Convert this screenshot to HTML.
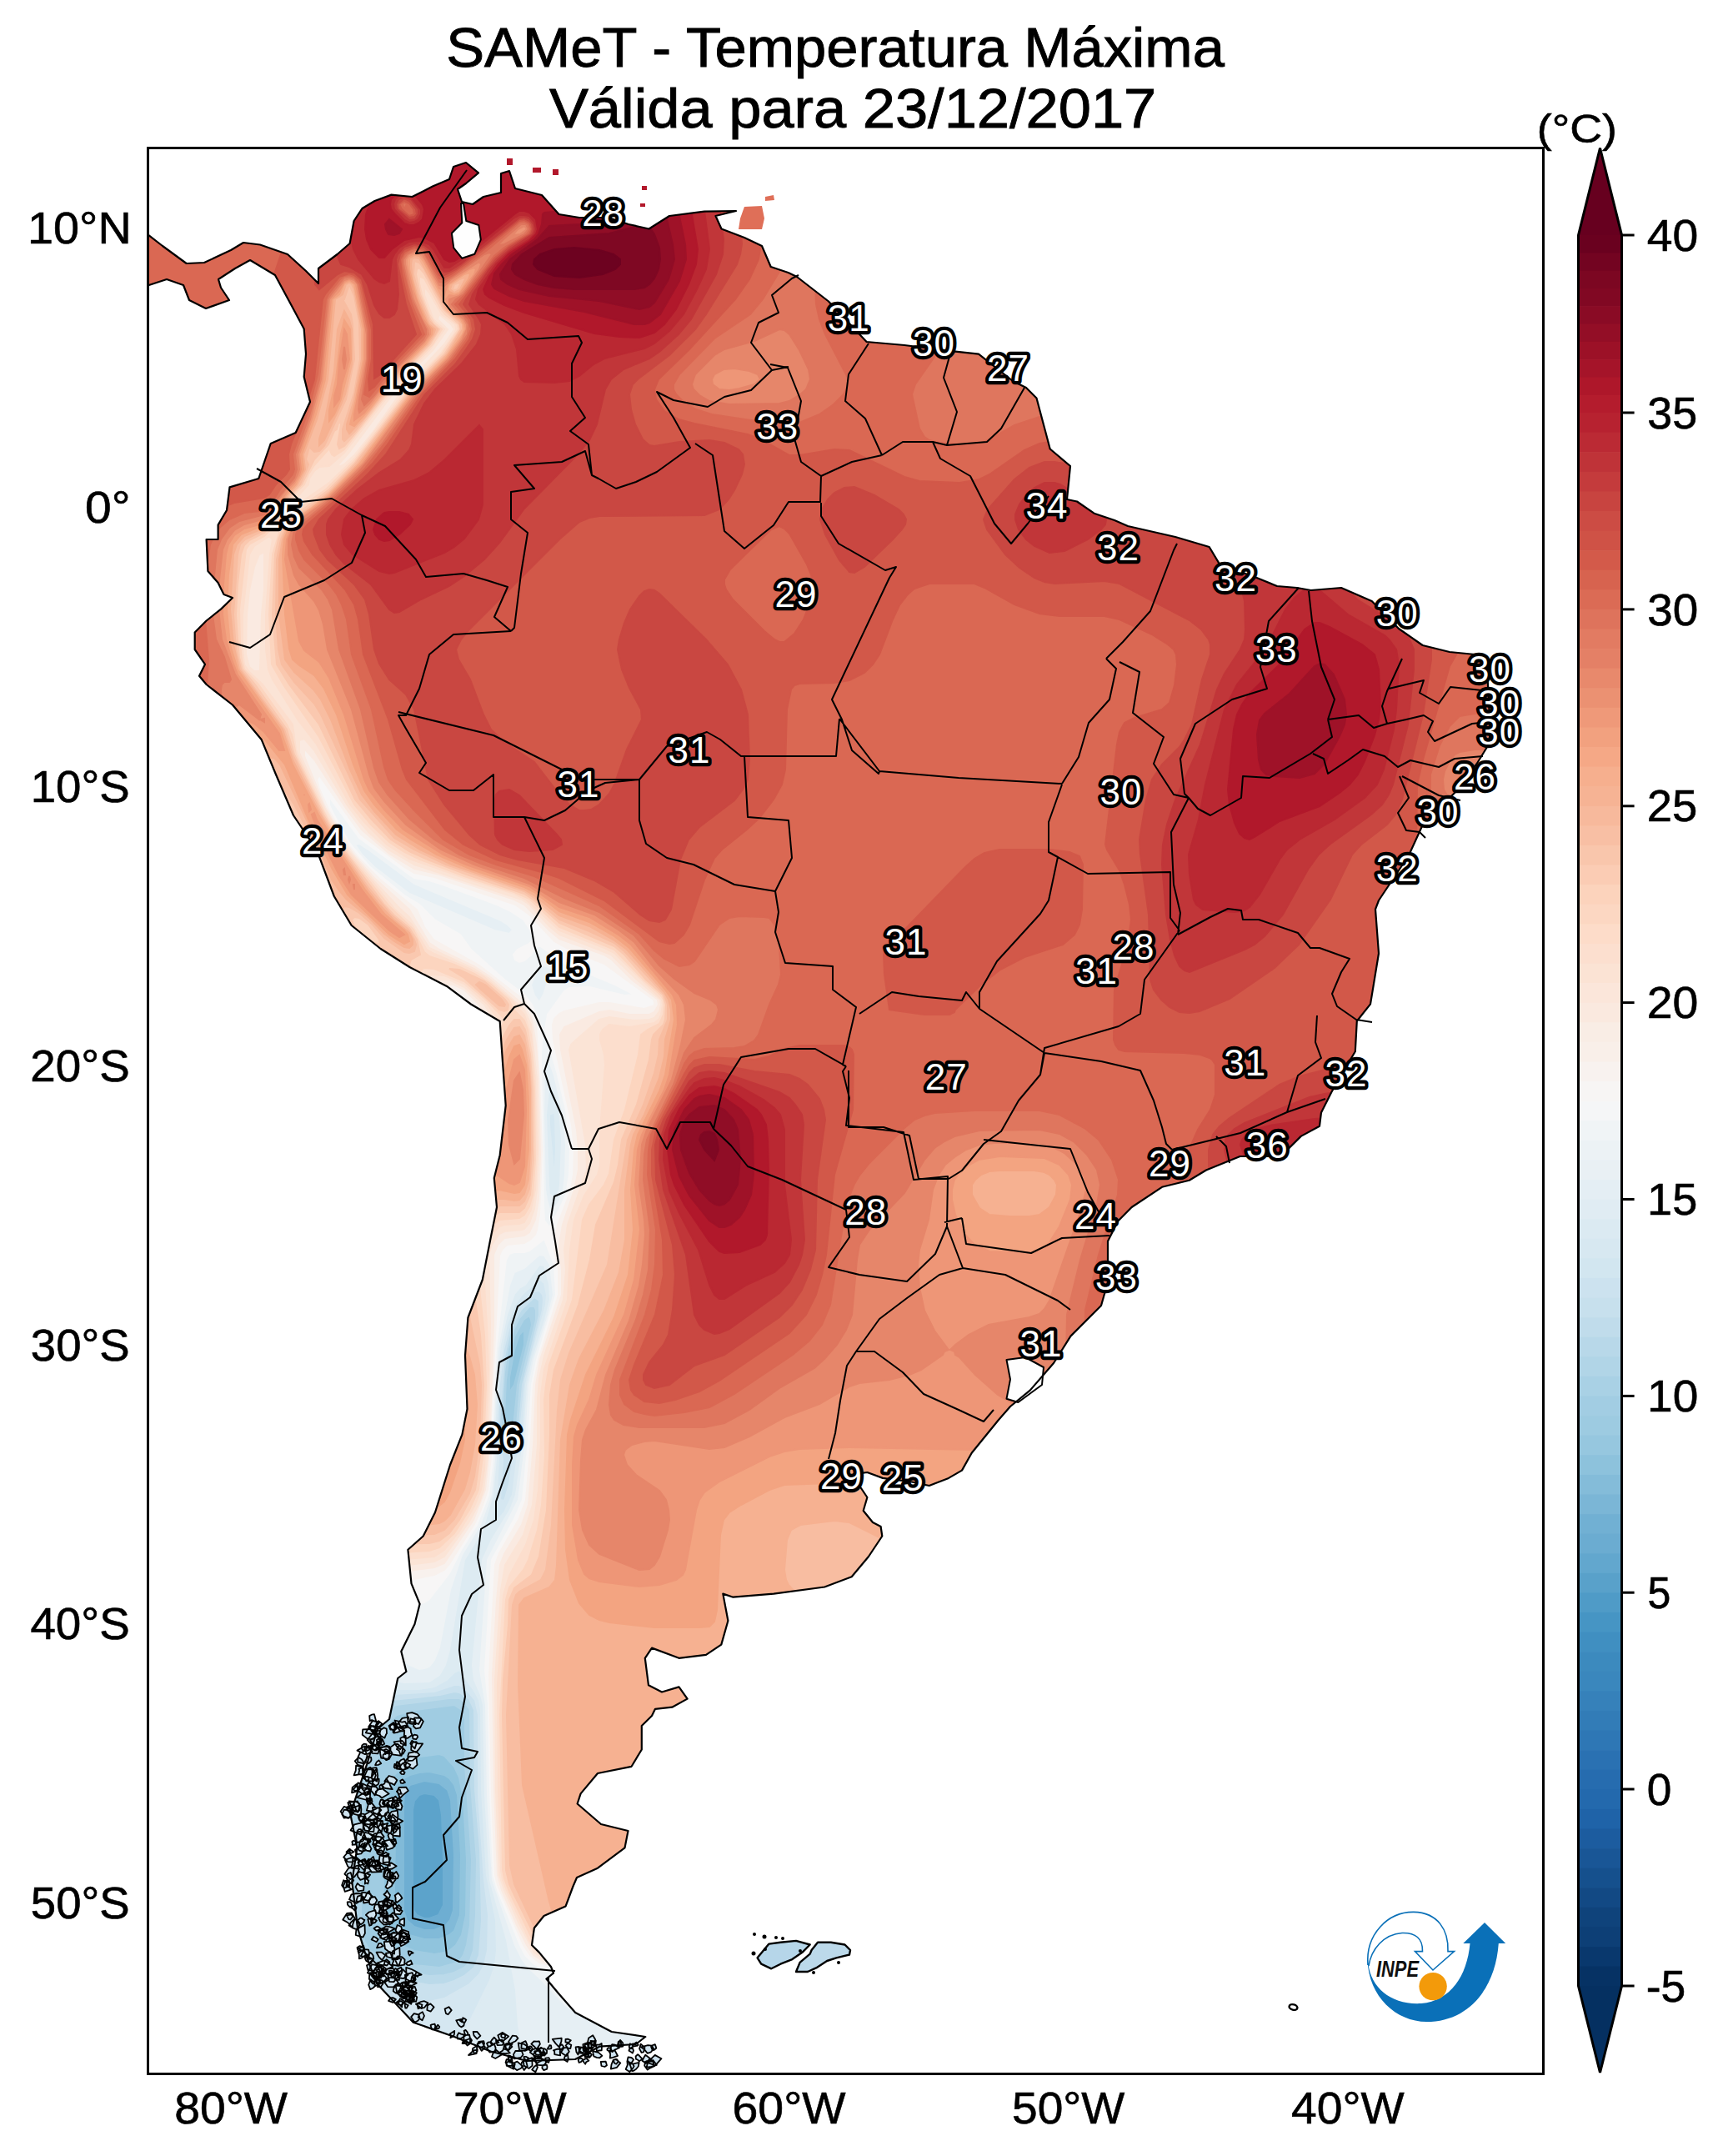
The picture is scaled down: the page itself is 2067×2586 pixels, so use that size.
<!DOCTYPE html><html><head><meta charset="utf-8"><style>
html,body{margin:0;padding:0;background:#fff;width:2067px;height:2586px;overflow:hidden}
svg{position:absolute;left:0;top:0;display:block}
text{font-family:"Liberation Sans",sans-serif}
</style></head><body>
<svg width="2067" height="2586" viewBox="0 0 2067 2586" xmlns="http://www.w3.org/2000/svg">
<defs>
<clipPath id="fr"><rect x="179" y="179" width="1671" height="2307"/></clipPath>
<clipPath id="land"><path d="M160.0 282.0 L178.7 282.3 L195.0 295.0 L223.7 316.0 L245.0 315.0 L277.0 300.0 L292.0 291.0 L312.0 293.5 L345.0 305.0 L367.0 325.0 L382.0 340.0 L382.0 322.0 L404.6 305.0 L419.6 292.0 L424.6 265.0 L434.5 250.0 L449.5 241.0 L469.5 233.6 L494.5 236.0 L519.0 223.6 L539.0 215.0 L544.0 200.0 L559.0 195.0 L574.0 207.4 L559.0 220.0 L549.0 227.0 L554.0 242.0 L567.0 245.0 L580.0 236.0 L601.0 231.0 L601.0 208.0 L611.0 205.0 L618.0 226.0 L650.0 234.0 L670.5 257.0 L695.0 261.0 L730.0 261.0 L754.0 269.0 L778.5 274.5 L803.0 259.0 L845.0 253.6 L883.0 253.0 L858.5 259.0 L865.5 274.5 L893.0 285.0 L914.0 295.0 L924.7 320.0 L945.6 327.0 L956.0 332.0 L994.0 361.5 L1039.6 410.0 L1085.0 414.0 L1137.0 420.7 L1174.0 424.7 L1215.0 457.0 L1231.0 465.0 L1243.5 477.5 L1259.7 538.5 L1284.0 559.0 L1280.0 599.0 L1292.0 601.5 L1312.5 615.7 L1337.0 624.0 L1353.0 631.0 L1410.0 644.0 L1450.7 656.0 L1463.0 676.6 L1507.6 693.0 L1532.0 703.0 L1556.0 705.0 L1572.6 708.0 L1609.0 705.0 L1645.7 721.0 L1678.0 754.0 L1706.7 774.0 L1739.0 782.0 L1780.0 786.0 L1784.0 802.6 L1788.0 880.0 L1784.0 896.0 L1771.7 916.0 L1747.0 949.0 L1706.7 989.5 L1690.0 1026.0 L1654.0 1080.0 L1650.0 1090.6 L1654.0 1143.5 L1644.0 1204.4 L1627.8 1224.7 L1625.8 1261.3 L1613.6 1281.6 L1597.3 1310.0 L1585.0 1334.4 L1583.0 1350.7 L1560.7 1362.9 L1544.5 1379.0 L1528.0 1387.0 L1487.6 1387.0 L1447.0 1403.5 L1426.7 1415.7 L1394.0 1423.8 L1357.6 1448.0 L1341.3 1464.5 L1329.0 1488.8 L1329.0 1537.6 L1321.0 1566.0 L1284.4 1602.6 L1264.0 1635.0 L1235.7 1667.6 L1212.0 1687.0 L1198.0 1703.0 L1165.7 1742.7 L1154.0 1763.6 L1138.0 1772.9 L1114.7 1782.0 L1093.8 1777.5 L1059.0 1772.9 L1040.4 1766.0 L1026.4 1768.0 L1031.0 1782.0 L1040.4 1796.0 L1035.7 1812.0 L1047.0 1826.0 L1056.6 1831.0 L1058.3 1842.5 L1042.0 1867.0 L1021.7 1891.3 L989.2 1903.5 L928.2 1911.6 L879.5 1915.7 L867.3 1911.6 L873.4 1944.0 L865.3 1972.6 L847.0 1984.8 L814.5 1988.8 L782.0 1976.6 L773.8 1988.8 L778.0 2021.3 L794.0 2029.5 L814.5 2023.4 L824.6 2037.6 L806.3 2047.7 L786.0 2049.8 L782.0 2058.0 L769.8 2070.0 L769.8 2098.5 L757.6 2118.8 L717.0 2127.0 L696.6 2151.4 L692.6 2163.5 L721.0 2188.0 L753.5 2196.0 L749.5 2216.4 L717.0 2240.7 L692.0 2252.0 L687.3 2263.0 L678.6 2286.4 L652.5 2298.0 L640.9 2312.5 L638.0 2333.0 L646.7 2341.6 L661.0 2359.0 L664.0 2366.7 L655.4 2373.5 L670.0 2391.0 L690.2 2414.0 L733.7 2437.0 L774.3 2443.0 L762.7 2452.0 L719.2 2454.7 L690.0 2470.0 L632.0 2472.0 L588.6 2460.5 L545.0 2443.0 L495.8 2425.7 L452.0 2379.0 L437.7 2341.6 L429.0 2312.5 L422.3 2257.0 L428.4 2216.4 L420.3 2175.7 L440.6 2114.8 L452.8 2074.0 L467.0 2062.0 L477.2 2013.0 L487.4 2005.0 L481.3 1980.7 L497.5 1948.0 L503.6 1923.8 L493.5 1899.4 L489.4 1858.8 L507.7 1842.5 L522.0 1814.0 L540.0 1757.0 L554.4 1720.6 L560.5 1690.0 L558.0 1625.8 L561.4 1580.5 L578.8 1535.0 L589.0 1483.0 L596.0 1448.0 L592.8 1413.0 L599.7 1385.5 L606.7 1326.0 L603.0 1274.0 L599.7 1225.0 L565.0 1204.5 L537.0 1183.6 L491.4 1160.0 L456.6 1138.0 L421.7 1110.0 L400.8 1075.0 L380.0 1019.6 L352.0 978.0 L331.0 929.0 L313.8 887.3 L279.0 845.5 L247.6 821.0 L239.0 810.7 L246.0 796.8 L233.7 779.0 L233.7 758.5 L247.6 744.5 L265.0 730.6 L279.0 717.0 L268.5 713.0 L261.6 699.0 L249.4 685.0 L247.6 647.0 L261.6 647.0 L261.6 629.6 L272.0 612.0 L275.5 584.4 L310.3 574.0 L324.7 532.0 L354.7 519.0 L372.0 482.0 L364.7 452.0 L367.0 424.6 L364.7 394.6 L350.0 367.0 L330.0 330.0 L300.0 312.0 L282.0 322.0 L262.0 335.0 L265.0 345.0 L275.0 360.0 L247.0 370.0 L227.0 360.0 L220.0 342.0 L200.0 335.0 L178.7 342.0 L160.0 342.0Z"/></clipPath>
<filter id="b1" x="-50%" y="-50%" width="200%" height="200%"><feGaussianBlur stdDeviation="25"/></filter>
<filter id="gb" filterUnits="userSpaceOnUse" x="0" y="0" width="2067" height="2586"><feGaussianBlur stdDeviation="32"/></filter>
</defs>

<text x="535.2" y="80.0" font-size="66.80" textLength="933.7" lengthAdjust="spacingAndGlyphs" stroke="#000" stroke-width="0.9">SAMeT - Temperatura Máxima</text>
<text x="658.9" y="153.2" font-size="66.80" textLength="728.4" lengthAdjust="spacingAndGlyphs" stroke="#000" stroke-width="0.9">Válida para 23/12/2017</text>
<g clip-path="url(#fr)">
<g clip-path="url(#land)">
<rect x="150" y="150" width="1750" height="2400" fill="#dc6e57"/>
<path fill="#5ca3cb" stroke="#5ca3cb" stroke-width="2" fill-rule="evenodd" d="M503 2153 509 2151 521 2153 527 2159 530 2177 532 2231 532 2285 526 2297 515 2301 509 2301 500 2297 496 2291 495 2279 495 2171 497 2159Z"/>
<path fill="#6eaed2" stroke="#6eaed2" stroke-width="2" fill-rule="evenodd" d="M497 2139 515 2137 531 2141 539 2151 542 2165 545 2225 544 2291 540 2303 535 2309 521 2315 509 2315 497 2311 488 2303 484 2291 484 2159 487 2147 491 2142ZM503 2153 497 2160 495 2171 495 2285 496 2291 500 2297 509 2301 515 2301 526 2297 532 2285 532 2231 530 2177 527 2159 521 2153 509 2151Z"/>
<path fill="#81bad8" stroke="#81bad8" stroke-width="2" fill-rule="evenodd" d="M497 2127 515 2125 533 2129 539 2133 545 2141 550 2159 553 2231 552 2297 545 2316 539 2321 527 2326 509 2326 491 2321 479 2309 475 2297 473 2267 475 2153 479 2141 483 2135ZM492 2141 487 2147 485 2152 484 2165 484 2291 488 2303 497 2311 509 2315 521 2315 535 2309 540 2303 544 2291 545 2225 541 2159 537 2147 527 2139 509 2136Z"/>
<path fill="#90c4dd" stroke="#90c4dd" stroke-width="2" fill-rule="evenodd" d="M629 1595 629 1613 617 1661 613 1667 611 1690 611 1652 617 1619 623 1601ZM521 2104 533 2106 545 2119 551 2132 556 2159 560 2237 559 2297 554 2321 547 2333 540 2339 533 2342 521 2344 497 2340 485 2335 474 2327 469 2321 463 2309 459 2285 464 2165 467 2141 473 2129 485 2117 503 2107ZM492 2129 485 2133 479 2141 475 2153 473 2267 475 2297 479 2309 491 2321 509 2326 527 2326 539 2321 545 2316 552 2297 553 2225 549 2153 545 2141 539 2133 533 2129 515 2125 503 2126Z"/>
<path fill="#a0cce2" stroke="#a0cce2" stroke-width="2" fill-rule="evenodd" d="M629 1582 635 1578 637 1583 638 1589 621 1661 615 1721 611 1727 605 1724 604 1721 607 1655 611 1625 617 1603 623 1590ZM629 1595 623 1601 617 1619 611 1652 611 1690 613 1667 617 1661 629 1613ZM503 2051 545 2045 554 2051 558 2063 558 2117 566 2231 564 2309 560 2333 556 2345 552 2351 545 2355 527 2360 497 2357 449 2343 443 2339 437 2328 433 2303 434 2195 437 2164 443 2142 461 2080 467 2066 479 2056ZM527 2104 503 2107 485 2117 473 2129 467 2141 464 2165 459 2285 463 2309 469 2321 474 2327 485 2335 497 2340 521 2344 533 2342 540 2339 547 2333 554 2321 559 2297 560 2231 556 2159 551 2132 545 2119 533 2106Z"/>
<path fill="#aed3e6" stroke="#aed3e6" stroke-width="2" fill-rule="evenodd" d="M635 1567 641 1567 643 1571 643 1583 624 1661 619 1721 617 1727 611 1733 605 1731 601 1721 605 1646 609 1619 616 1595 623 1581ZM628 1583 617 1603 611 1625 607 1655 604 1721 605 1724 611 1727 615 1721 621 1661 638 1589 637 1583 635 1578ZM515 2041 545 2036 554 2039 561 2045 564 2057 565 2141 572 2231 571 2303 568 2339 565 2351 560 2357 551 2364 539 2368 515 2370 445 2357 437 2353 429 2345 422 2327 420 2303 421 2237 419 2189 425 2147 449 2070 456 2057 462 2051 475 2045ZM499 2051 476 2057 469 2063 465 2069 438 2159 434 2195 433 2303 437 2328 443 2339 449 2343 497 2357 527 2360 545 2355 552 2351 556 2345 560 2333 564 2309 566 2231 558 2117 558 2063 554 2051 545 2045Z"/>
<path fill="#bbdaea" stroke="#bbdaea" stroke-width="2" fill-rule="evenodd" d="M641 1556 647 1560 647 1577 627 1661 622 1721 617 1734 611 1742 605 1739 598 1721 602 1661 606 1619 613 1595 621 1577 629 1566ZM635 1567 623 1581 616 1595 609 1619 605 1646 601 1721 605 1731 611 1733 617 1727 619 1721 624 1661 643 1583 643 1571 641 1567ZM515 2035 545 2029 557 2033 564 2039 569 2051 570 2147 576 2225 578 2315 575 2345 571 2357 567 2363 557 2370 545 2376 533 2380 515 2381 437 2367 425 2359 418 2351 411 2333 407 2303 409 2237 408 2195 410 2165 414 2147 441 2069 449 2054 457 2045 471 2039ZM539 2037 475 2045 462 2051 455 2059 447 2075 425 2147 419 2189 421 2237 420 2303 422 2327 429 2345 437 2353 445 2357 515 2370 533 2369 545 2366 557 2360 563 2354 568 2339 571 2297 572 2231 565 2141 564 2051 557 2041 551 2037Z"/>
<path fill="#cae1ee" stroke="#cae1ee" stroke-width="2" fill-rule="evenodd" d="M624 1565 641 1549 647 1548 651 1553 652 1559 651 1571 630 1655 623 1727 615 1751 611 1780 605 1800 600 1799 603 1751 597 1721 599 1661 604 1619 610 1595 617 1576ZM641 1556 625 1571 617 1585 611 1601 605 1628 598 1721 605 1739 611 1742 617 1734 622 1721 627 1661 647 1577 647 1560ZM545 2021 551 2021 563 2030 570 2039 573 2051 574 2153 581 2255 586 2303 584 2345 581 2357 575 2368 557 2384 533 2397 515 2401 467 2404 445 2411 426 2429 414 2447 413 2452 408 2459 407 2489 179 2489 179 2189 329 2189 335 2188 341 2183 371 2176 383 2167 407 2131 419 2107 435 2063 449 2043 455 2038 467 2033 515 2030ZM528 2033 471 2039 457 2045 449 2054 441 2069 414 2147 410 2165 408 2195 409 2237 407 2303 411 2333 418 2351 425 2359 437 2367 515 2381 533 2380 545 2376 557 2370 569 2360 575 2345 578 2303 576 2219 570 2147 569 2051 563 2038 551 2030 545 2029Z"/>
<path fill="#d5e7f1" stroke="#d5e7f1" stroke-width="2" fill-rule="evenodd" d="M659 1336 665 1334 666 1343 667 1379 665 1413ZM647 1534 654 1541 656 1553 655 1565 637 1631 631 1661 627 1721 620 1751 615 1793 605 1814 593 1828 590 1823 591 1817 596 1787 598 1751 595 1715 598 1655 603 1613 608 1589 617 1566 626 1553ZM641 1549 624 1565 617 1576 610 1595 604 1619 599 1661 597 1721 603 1751 600 1799 605 1800 611 1780 615 1751 623 1727 630 1655 651 1571 652 1559 651 1553 647 1548ZM551 2003 572 2033 576 2045 578 2147 584 2249 593 2291 596 2315 596 2345 593 2363 564 2423 543 2459 540 2471 539 2489 407 2489 408 2459 420 2435 437 2417 445 2411 459 2405 473 2403 515 2401 533 2397 563 2380 575 2368 581 2357 585 2339 586 2297 581 2255 574 2153 574 2057 570 2039 557 2024 551 2021 545 2021 521 2029 473 2032 455 2038 447 2045 438 2057 419 2107 407 2131 383 2167 371 2176 341 2183 335 2188 329 2189 179 2189 179 2019 215 2021 233 2028 250 2045 274 2081 293 2094 311 2099 365 2099 395 2102 401 2101 407 2097 413 2089 432 2051 441 2039 449 2032 455 2028 467 2026 503 2026 521 2023 536 2015 545 2006Z"/>
<path fill="#ddebf2" stroke="#ddebf2" stroke-width="2" fill-rule="evenodd" d="M659 1299 665 1310 671 1333 675 1373 672 1421 671 1428 665 1437 659 1432 658 1421 655 1337ZM659 1337 659 1349 665 1413 667 1379 666 1343 665 1334ZM647 1517 653 1518 655 1523 659 1541 660 1559 654 1583 639 1631 633 1661 629 1721 618 1799 590 1847 579 1871 574 1913 567 2003 569 2015 577 2033 580 2045 582 2153 588 2255 608 2327 619 2387 622 2429 625 2447 635 2469 651 2489 539 2489 540 2471 543 2459 563 2426 588 2375 594 2357 596 2339 595 2303 584 2249 578 2147 577 2051 575 2039 569 2028 551 2003 545 2006 536 2015 521 2023 503 2026 467 2026 455 2028 449 2032 441 2039 432 2051 413 2089 407 2097 401 2101 395 2102 365 2099 317 2099 299 2097 287 2091 274 2081 250 2045 233 2028 215 2021 179 2019 179 1942 251 1943 263 1945 329 2012 341 2019 371 2019 425 2002 437 2003 467 2015 485 2018 515 2017 527 2009 534 1997 539 1979 557 1871 579 1835 591 1793 595 1751 593 1721 596 1655 599 1619 607 1583 617 1552 623 1545 630 1541ZM647 1534 626 1553 617 1566 608 1589 603 1613 598 1655 595 1715 598 1751 596 1787 591 1817 590 1823 593 1828 605 1814 615 1793 620 1751 627 1721 631 1661 637 1631 655 1565 656 1553 653 1539Z"/>
<path fill="#e6eff4" stroke="#e6eff4" stroke-width="2" fill-rule="evenodd" d="M431 1012 497 1060 599 1103 609 1109 615 1115 611 1120 593 1116 485 1068 452 1043 440 1031 426 1013ZM647 1159 653 1158 665 1163 667 1169 658 1175 652 1193 647 1202 641 1194 637 1181ZM653 1275 659 1273 665 1290 676 1337 679 1379 676 1427 671 1441 665 1449 659 1450 656 1439 654 1427 652 1337ZM659 1299 655 1337 658 1421 659 1432 665 1437 671 1428 672 1421 674 1367 671 1333 665 1310ZM629 1521 647 1505 653 1506 659 1514 664 1553 658 1577 641 1631 635 1661 631 1727 622 1799 585 1871 576 2009 583 2045 585 2153 589 2243 592 2261 618 2333 627 2351 635 2361 650 2375 678 2405 695 2415 713 2419 845 2420 857 2426 875 2437 893 2445 917 2450 947 2453 1649 2453 1853 2456 1853 2489 651 2489 647 2486 635 2469 625 2447 622 2429 619 2387 608 2327 588 2255 582 2153 580 2045 577 2033 569 2015 567 1997 579 1871 590 1847 612 1811 619 1793 629 1721 633 1661 639 1631 654 1583 660 1559 659 1540 653 1518 647 1517 630 1541 623 1545 617 1552 608 1577 600 1613 596 1655 593 1721 595 1751 591 1793 579 1835 557 1871 539 1979 534 1997 527 2009 515 2017 485 2018 467 2015 437 2003 425 2002 371 2019 341 2019 329 2012 263 1945 251 1943 179 1942 179 1895 293 1896 308 1901 316 1907 337 1937 347 1946 359 1952 383 1958 437 1959 455 1962 465 1967 472 1973 484 1991 491 1997 503 2002 509 2001 515 1999 521 1991 527 1976 540 1907 554 1865 576 1829 589 1793 593 1751 591 1721 597 1619 611 1542 617 1526Z"/>
<path fill="#eff3f5" stroke="#eff3f5" stroke-width="2" fill-rule="evenodd" d="M395 956 431 1005 491 1049 497 1053 515 1056 531 1061 596 1085 611 1092 628 1103 636 1115 640 1127 635 1132 621 1139 616 1145 618 1151 623 1154 629 1152 637 1145 641 1138 647 1134 680 1157 738 1181 761 1193 749 1194 707 1184 683 1185 677 1189 657 1217 654 1235 669 1289 679 1331 684 1379 683 1409 679 1433 671 1451 659 1472 653 1464 652 1445 649 1265 651 1235 638 1205 629 1193 605 1175 565 1139 552 1121 521 1103 503 1085 485 1074 443 1039 425 1020 413 1001 395 966ZM426 1013 434 1025 449 1040 491 1072 593 1116 611 1120 615 1115 609 1109 599 1103 497 1060 442 1019 431 1012ZM647 1159 637 1181 641 1194 647 1202 652 1193 658 1175 667 1169 665 1163 653 1158ZM653 1275 652 1337 654 1427 656 1439 659 1450 665 1449 671 1441 676 1427 678 1409 679 1373 676 1337 665 1290 659 1273ZM653 1486 665 1517 667 1553 644 1631 638 1661 634 1727 627 1799 617 1822 590 1871 582 2003 586 2045 588 2147 592 2249 597 2267 624 2333 630 2345 641 2356 695 2379 707 2383 845 2387 857 2394 877 2417 892 2429 917 2439 941 2443 1661 2444 1853 2447 1853 2456 1649 2453 947 2453 917 2450 893 2445 875 2437 857 2426 845 2420 713 2419 695 2415 678 2405 650 2375 635 2361 627 2351 618 2333 591 2255 585 2153 583 2045 576 2003 585 1871 622 1799 631 1727 635 1661 641 1631 658 1577 664 1553 660 1517 653 1506 647 1505 629 1521 617 1526 611 1542 597 1619 591 1721 593 1751 589 1793 576 1829 554 1865 540 1907 527 1976 521 1991 515 1999 509 2001 503 2002 491 1997 484 1991 472 1973 465 1967 455 1962 437 1959 383 1958 359 1952 347 1946 337 1937 316 1907 308 1901 299 1897 281 1895 179 1895 179 1885 281 1885 299 1887 317 1893 332 1901 359 1926 371 1933 383 1937 395 1939 467 1938 479 1935 497 1925 509 1922 515 1918 539 1887 553 1859 572 1829 586 1793 591 1751 590 1721 595 1619 607 1511 611 1504 617 1502 629 1502 635 1500Z"/>
<path fill="#f7f6f6" stroke="#f7f6f6" stroke-width="2" fill-rule="evenodd" d="M383 930 433 1001 485 1040 497 1047 521 1052 618 1085 635 1097 665 1129 689 1142 725 1156 784 1199 785 1202 785 1206 773 1210 731 1203 719 1203 677 1213 671 1216 665 1222 663 1229 664 1247 686 1349 689 1379 688 1409 685 1427 669 1469 666 1487 665 1499 670 1523 670 1553 646 1631 640 1661 637 1727 631 1799 622 1823 599 1863 594 1877 587 2009 590 2153 594 2249 597 2261 615 2303 628 2333 636 2345 647 2354 683 2362 737 2368 839 2371 851 2372 863 2379 883 2405 899 2419 923 2430 947 2435 1655 2435 1853 2439 1853 2447 1649 2444 941 2443 917 2439 892 2429 877 2417 857 2394 845 2387 707 2383 695 2379 641 2356 630 2345 624 2333 597 2267 592 2249 588 2147 586 2045 582 2003 590 1871 617 1822 627 1799 634 1727 638 1661 644 1631 667 1553 665 1517 653 1486 635 1500 629 1502 617 1502 611 1504 607 1511 595 1619 590 1721 591 1751 586 1793 572 1829 553 1859 539 1887 515 1918 509 1922 497 1925 479 1935 467 1938 389 1938 377 1936 365 1930 332 1901 322 1895 305 1888 281 1885 179 1885 179 1877 299 1879 333 1889 371 1912 383 1917 401 1919 455 1918 467 1914 491 1895 521 1889 533 1883 539 1876 569 1828 577 1811 585 1787 589 1745 588 1721 599 1506 602 1499 608 1493 629 1491 636 1487 642 1481 644 1475 647 1457 650 1379 647 1295 643 1229 637 1211 629 1200 575 1158 520 1127 509 1112 500 1091 455 1054 431 1030 419 1015 395 973 383 946 380 935ZM395 956 395 966 401 978 419 1011 443 1039 485 1074 503 1085 521 1103 552 1121 565 1139 605 1175 629 1193 638 1205 651 1235 649 1265 652 1445 653 1464 659 1472 671 1451 679 1433 683 1409 684 1379 679 1331 669 1289 654 1235 657 1217 677 1189 683 1185 707 1184 749 1194 761 1193 738 1181 680 1157 647 1134 641 1138 637 1145 629 1152 623 1154 618 1151 616 1145 621 1139 635 1132 640 1127 636 1115 628 1103 611 1092 596 1085 531 1061 515 1056 497 1053 491 1049 431 1005ZM539 1189 545 1187 551 1190 562 1199 565 1205 566 1211 563 1216 545 1241 540 1235 539 1229 537 1199Z"/>
<path fill="#f8f1ed" stroke="#f8f1ed" stroke-width="2" fill-rule="evenodd" d="M365 898 377 911 416 971 434 995 467 1024 497 1042 527 1049 617 1079 629 1085 659 1116 671 1126 724 1145 734 1151 758 1175 789 1199 790 1205 785 1214 779 1217 755 1217 731 1212 719 1214 677 1232 672 1241 673 1259 692 1355 694 1379 694 1403 689 1427 675 1469 672 1487 671 1499 674 1523 674 1553 648 1631 643 1661 640 1733 634 1805 626 1829 605 1864 600 1877 596 1919 591 2009 593 2147 597 2249 602 2267 620 2309 632 2333 640 2345 653 2353 677 2356 851 2361 863 2365 869 2370 892 2399 906 2411 923 2421 947 2426 1655 2427 1853 2432 1853 2439 1649 2435 947 2435 923 2430 899 2419 883 2405 863 2379 851 2372 839 2371 737 2368 683 2362 647 2354 636 2345 628 2333 615 2303 597 2261 594 2249 590 2153 587 2009 594 1877 599 1863 622 1823 631 1799 637 1727 640 1661 646 1631 670 1553 670 1523 665 1499 666 1487 669 1469 685 1427 688 1409 689 1379 686 1349 664 1247 663 1229 665 1222 671 1216 677 1213 719 1203 731 1203 773 1210 785 1206 785 1202 784 1199 725 1156 689 1142 665 1129 635 1097 618 1085 521 1052 497 1047 485 1040 433 1001 383 930 380 935 383 946 395 973 419 1015 431 1030 455 1054 500 1091 509 1112 520 1127 575 1158 629 1200 637 1211 643 1229 647 1295 650 1379 647 1457 644 1475 642 1481 636 1487 629 1491 608 1493 602 1499 599 1506 588 1721 589 1745 585 1787 577 1811 569 1828 539 1876 533 1883 521 1889 491 1895 467 1914 455 1918 401 1919 383 1917 371 1912 333 1889 299 1879 179 1877 179 1870 293 1870 329 1878 383 1900 407 1902 455 1900 485 1886 497 1883 521 1880 533 1875 568 1823 582 1787 587 1739 592 1589 592 1505 597 1493 605 1485 629 1482 635 1478 642 1463 646 1439 648 1385 646 1295 643 1253 638 1223 629 1206 587 1171 569 1159 527 1139 515 1131 491 1091 449 1053 425 1026 413 1009 389 966 365 907ZM533 1180 545 1181 557 1187 575 1205 580 1217 557 1255 551 1261 545 1264 539 1264 533 1259 528 1247 527 1193 528 1187ZM537 1193 539 1232 545 1241 563 1216 566 1211 565 1205 562 1199 551 1190 545 1187 539 1189Z"/>
<path fill="#faeae1" stroke="#faeae1" stroke-width="2" fill-rule="evenodd" d="M521 369 522 371 521 376 520 371ZM527 377 541 389 545 395 533 413 488 461 449 516 425 546 413 557 407 560 406 557 417 545 485 454 520 419 537 395 525 383ZM401 563 402 563 401 564ZM311 665 317 662 317 707 314 737 312 803 311 805 305 805 299 800 295 785 296 737 299 708 305 680ZM365 886 377 900 416 965 431 985 443 999 466 1019 497 1037 626 1079 635 1085 659 1111 671 1121 733 1145 764 1175 792 1199 793 1205 791 1213 785 1221 779 1223 761 1224 731 1220 719 1223 689 1249 685 1253 683 1259 703 1373 704 1403 681 1469 677 1499 679 1523 676 1559 653 1626 647 1654 645 1679 645 1733 639 1805 628 1841 606 1877 601 1907 594 2015 595 2147 599 2249 605 2267 623 2308 641 2342 653 2349 677 2352 809 2349 845 2349 857 2352 875 2362 900 2393 913 2405 935 2416 953 2419 1655 2419 1853 2426 1853 2432 1649 2427 947 2426 923 2421 906 2411 892 2399 869 2370 863 2365 851 2361 677 2356 653 2353 640 2345 632 2333 620 2309 602 2267 597 2249 593 2147 591 2009 596 1919 600 1877 605 1864 626 1829 634 1805 640 1733 643 1661 648 1631 674 1553 674 1523 671 1499 672 1487 675 1469 689 1427 694 1403 694 1379 692 1355 673 1259 672 1241 677 1232 719 1214 731 1212 755 1217 779 1217 785 1214 790 1205 789 1199 758 1175 734 1151 724 1145 671 1126 659 1116 629 1085 617 1079 527 1049 497 1042 467 1024 434 995 416 971 377 911 365 898 365 907 389 966 413 1009 425 1026 449 1053 491 1091 515 1131 527 1139 569 1159 587 1171 629 1206 638 1223 643 1253 646 1295 648 1385 646 1439 642 1463 635 1478 629 1482 605 1485 597 1493 592 1505 592 1589 587 1739 582 1787 568 1823 533 1875 521 1880 497 1883 485 1886 455 1900 407 1902 383 1900 335 1880 299 1871 179 1870 179 1863 293 1863 329 1870 383 1887 407 1888 455 1887 489 1877 521 1873 533 1867 551 1844 569 1815 580 1787 585 1745 587 1667 588 1589 586 1505 590 1493 599 1480 605 1477 626 1475 629 1474 635 1467 641 1450 644 1427 646 1379 644 1295 637 1229 629 1211 587 1174 569 1162 515 1137 491 1100 479 1089 449 1057 419 1021 389 969 359 903 359 888ZM527 1174 539 1175 557 1184 581 1205 589 1217 590 1223 588 1229 566 1259 557 1269 545 1275 539 1275 532 1271 526 1265 521 1253 520 1187 521 1179ZM531 1181 528 1187 527 1193 528 1247 533 1259 539 1264 545 1264 551 1261 557 1255 580 1217 575 1205 557 1187 544 1181Z"/>
<path fill="#fbe4d6" stroke="#fbe4d6" stroke-width="2" fill-rule="evenodd" d="M509 344 515 351 530 377 546 389 547 395 545 400 528 425 492 461 425 550 395 579 359 604 354 599 370 581 371 574 377 565 383 560 395 559 413 543 485 450 516 419 533 395 520 383 509 354ZM520 371 521 376 521 369ZM525 383 537 395 520 419 485 454 417 545 406 557 407 560 413 557 425 546 449 516 488 461 533 413 545 395 541 389 527 377ZM401 563 401 564 402 563ZM329 641 329 641 329 641ZM323 643 327 647 324 665 319 737 319 779 322 803 327 815 357 863 380 893 420 965 437 986 464 1013 491 1030 557 1053 617 1072 631 1079 671 1116 725 1137 737 1143 794 1199 795 1205 793 1217 791 1222 785 1227 755 1232 731 1229 723 1235 720 1241 720 1247 725 1265 726 1277 720 1355 720 1397 717 1409 701 1434 689 1463 684 1499 681 1559 653 1642 649 1673 649 1727 646 1787 641 1823 631 1853 611 1890 604 1913 597 2021 598 2147 601 2243 603 2255 611 2275 635 2327 643 2339 653 2346 677 2349 773 2345 803 2339 839 2339 857 2341 869 2346 881 2354 907 2387 920 2399 935 2407 953 2411 1649 2411 1805 2418 1853 2419 1853 2426 1649 2419 953 2419 935 2416 913 2405 900 2393 875 2362 857 2352 845 2349 809 2349 677 2352 653 2349 641 2342 623 2308 605 2267 599 2249 595 2147 594 2015 601 1907 606 1877 628 1841 639 1805 645 1733 645 1679 647 1654 653 1626 676 1559 679 1523 677 1499 681 1469 704 1403 703 1373 683 1259 685 1253 689 1249 719 1223 731 1220 761 1224 779 1223 785 1221 791 1213 793 1205 792 1199 764 1175 733 1145 671 1121 659 1111 635 1085 626 1079 497 1037 466 1019 443 999 431 985 416 965 377 900 365 886 359 888 359 903 389 969 419 1021 449 1057 479 1089 491 1100 515 1137 569 1162 587 1174 629 1211 637 1229 644 1295 646 1379 644 1427 641 1450 635 1467 629 1474 626 1475 605 1477 599 1480 590 1493 586 1505 588 1589 587 1667 585 1745 580 1787 575 1802 563 1825 533 1867 521 1873 489 1877 455 1887 407 1888 383 1887 329 1870 299 1864 179 1863 179 1855 293 1856 329 1861 383 1875 437 1876 455 1876 491 1869 515 1868 527 1864 533 1859 551 1837 569 1807 577 1787 581 1763 586 1643 584 1589 580 1523 581 1499 587 1484 599 1471 605 1469 623 1468 629 1466 637 1451 642 1427 644 1379 642 1295 637 1241 629 1217 613 1199 581 1172 563 1162 521 1144 512 1139 494 1109 473 1090 425 1031 413 1015 389 973 359 909 355 899 351 869 315 821 299 806 293 797 291 779 291 737 299 665 305 655ZM311 665 305 680 299 708 296 737 295 785 299 800 305 805 311 805 312 803 314 737 317 707 317 662ZM521 1168 539 1172 557 1180 585 1205 598 1223 594 1235 573 1265 557 1280 545 1284 536 1283 527 1278 518 1265 514 1253 512 1181 515 1171ZM524 1175 521 1179 520 1187 521 1253 526 1265 532 1271 539 1275 545 1275 557 1269 566 1259 588 1229 590 1223 589 1217 581 1205 557 1184 539 1175Z"/>
<path fill="#fcdecd" stroke="#fcdecd" stroke-width="2" fill-rule="evenodd" d="M503 331 509 334 529 371 534 377 549 389 550 395 530 425 495 461 425 553 391 587 347 618 338 629 327 665 323 737 326 797 341 823 383 884 425 965 445 989 467 1010 485 1022 504 1031 557 1051 617 1070 635 1078 671 1112 737 1139 772 1175 792 1193 796 1199 797 1205 796 1217 791 1228 777 1235 769 1241 766 1265 750 1331 737 1367 731 1408 725 1421 707 1445 699 1463 687 1559 659 1637 655 1661 653 1679 654 1745 650 1805 645 1835 634 1871 628 1883 611 1904 607 1919 600 2057 603 2243 605 2253 611 2269 641 2331 647 2339 653 2342 677 2346 773 2340 803 2329 857 2331 875 2337 887 2345 898 2357 913 2381 926 2393 936 2399 953 2402 1649 2403 1805 2412 1853 2412 1853 2419 1805 2418 1649 2411 953 2411 935 2407 920 2399 907 2387 881 2354 869 2346 857 2341 839 2339 803 2339 773 2345 677 2349 653 2346 643 2339 635 2327 611 2275 603 2255 601 2243 598 2147 597 2021 604 1913 611 1890 631 1853 641 1823 646 1787 649 1727 649 1673 653 1642 681 1559 684 1499 689 1463 701 1434 717 1409 720 1397 720 1355 726 1277 725 1265 720 1247 720 1241 723 1235 731 1229 755 1232 785 1227 791 1222 793 1217 795 1205 794 1199 737 1143 725 1137 671 1116 631 1079 617 1072 557 1053 491 1030 464 1013 437 986 420 965 380 893 357 863 327 815 322 803 319 779 319 737 324 665 327 647 323 643 305 655 299 665 291 737 291 779 293 797 299 806 315 821 351 869 355 899 359 909 389 973 413 1015 425 1031 473 1090 494 1109 512 1139 521 1144 563 1162 581 1172 613 1199 629 1217 637 1241 642 1295 644 1379 642 1427 637 1451 629 1466 623 1468 605 1469 599 1471 587 1484 581 1499 580 1523 584 1589 586 1643 581 1763 577 1787 569 1807 551 1837 533 1859 521 1867 485 1870 461 1875 401 1876 377 1874 329 1861 299 1856 179 1855 179 1848 287 1848 323 1852 389 1864 455 1864 515 1860 527 1856 545 1839 563 1811 574 1787 580 1739 583 1661 581 1601 574 1535 574 1505 578 1487 587 1472 599 1463 623 1461 629 1457 635 1447 639 1433 642 1391 641 1307 638 1265 633 1235 629 1224 617 1212 610 1199 587 1179 569 1168 545 1157 515 1147 509 1142 496 1115 467 1087 418 1025 393 983 375 947 355 905 350 881 344 869 310 821 293 803 290 791 288 773 287 731 295 659 299 653 317 643 325 635 344 611 353 593 365 581 370 569 377 558 395 538 398 545 401 547 413 539 483 449 519 413 530 395 521 387 515 377 506 353 503 340ZM509 344 509 354 520 383 533 395 516 419 485 450 413 543 395 559 383 560 377 565 371 574 370 581 354 599 359 604 395 579 425 550 492 461 528 425 545 400 547 395 546 389 530 377 515 351ZM329 641 329 641 329 641ZM509 1161 521 1162 533 1166 557 1177 583 1199 606 1223 599 1240 581 1269 567 1283 551 1292 539 1293 527 1288 515 1274 508 1259 506 1241 504 1169 506 1163ZM517 1169 513 1175 512 1181 513 1241 515 1259 521 1271 533 1282 539 1284 551 1283 563 1275 573 1265 594 1235 598 1223 585 1205 557 1180 533 1170Z"/>
<path fill="#fcd5bf" stroke="#fcd5bf" stroke-width="2" fill-rule="evenodd" d="M503 321 509 328 532 371 551 389 552 395 533 425 497 461 425 556 395 587 365 610 347 621 342 629 334 647 330 665 327 737 332 797 347 821 383 869 426 959 446 983 469 1007 491 1021 513 1031 560 1049 629 1072 641 1080 671 1107 737 1135 749 1145 775 1175 795 1193 799 1205 798 1223 796 1229 784 1241 782 1247 779 1271 764 1325 746 1367 742 1397 737 1418 715 1469 708 1511 694 1565 665 1643 660 1673 660 1721 656 1811 647 1867 638 1889 617 1905 611 1919 610 1949 604 2015 603 2057 607 2243 611 2260 617 2273 647 2333 655 2339 671 2341 737 2339 773 2335 779 2333 791 2324 803 2319 845 2319 863 2321 881 2327 893 2334 905 2346 925 2381 935 2389 953 2394 1649 2395 1805 2405 1853 2406 1853 2412 1805 2412 1649 2403 953 2402 936 2399 926 2393 913 2381 898 2357 887 2345 875 2337 857 2331 803 2329 773 2340 677 2346 653 2342 647 2339 641 2331 611 2269 605 2253 603 2243 600 2057 607 1919 611 1904 628 1883 634 1871 645 1835 650 1805 654 1745 653 1679 655 1661 659 1637 687 1559 699 1463 707 1445 725 1421 731 1408 737 1367 750 1331 766 1265 769 1241 777 1235 791 1228 796 1217 797 1205 796 1199 792 1193 772 1175 737 1139 671 1112 635 1078 617 1070 557 1051 504 1031 485 1022 467 1010 445 989 425 965 383 884 341 823 326 797 323 737 327 665 338 629 347 618 391 587 425 553 495 461 530 425 550 395 549 389 534 377 529 371 509 334 503 331 503 340 506 353 515 377 521 387 530 395 519 413 483 449 413 539 401 547 398 545 395 538 377 558 370 569 365 581 353 593 344 611 325 635 317 643 299 653 295 659 287 731 288 773 290 791 293 803 310 821 344 869 350 881 355 905 375 947 393 983 418 1025 467 1087 496 1115 509 1142 515 1147 545 1157 569 1168 587 1179 610 1199 617 1212 629 1224 633 1235 638 1265 641 1307 642 1391 639 1433 635 1447 629 1457 623 1461 599 1463 587 1472 578 1487 574 1505 574 1535 581 1601 583 1661 580 1739 574 1787 563 1811 545 1839 527 1856 515 1860 455 1864 395 1865 377 1863 331 1853 299 1849 179 1848 179 1841 281 1841 317 1843 389 1853 515 1851 527 1848 539 1839 551 1823 570 1787 577 1739 580 1661 576 1601 568 1547 567 1505 573 1481 585 1463 599 1454 623 1454 629 1449 636 1433 640 1391 639 1307 636 1265 630 1235 623 1223 617 1223 611 1230 586 1277 575 1289 557 1300 545 1302 533 1300 521 1293 512 1283 505 1271 500 1253 498 1187 497 1175 491 1157 493 1151 504 1145 500 1127 491 1113 473 1098 461 1085 412 1019 388 977 353 905 344 875 306 821 291 803 287 789 285 767 283 737 285 701 289 665 293 654 299 648 317 639 326 629 344 605 350 593 362 581 377 551 394 533 401 517 404 515 407 504 409 509 405 533 407 538 413 535 425 521 481 449 516 413 527 395 520 389 516 383 504 353 499 329 500 323ZM506 1163 504 1169 506 1241 510 1265 517 1277 527 1288 539 1293 551 1292 567 1283 581 1269 599 1240 606 1223 583 1199 557 1177 521 1162 509 1161ZM538 1163 557 1173 599 1211 605 1213 609 1211 610 1205 606 1199 581 1177 551 1163ZM413 491 413 497 413 498 412 497ZM347 979 353 981 371 1010 374 1025 371 1031 179 1030 179 1008 281 1008 305 1006 329 998 335 993ZM425 1100 431 1101 443 1110 455 1127 456 1133 443 1129 431 1120 424 1109 422 1103Z"/>
<path fill="#fac8af" stroke="#fac8af" stroke-width="2" fill-rule="evenodd" d="M497 313 503 315 509 323 534 371 551 386 553 395 535 425 497 464 426 557 395 590 368 611 348 623 344 629 337 647 332 671 331 737 334 779 338 797 353 818 377 844 385 857 432 959 473 1005 497 1019 535 1037 629 1069 641 1077 671 1103 707 1117 737 1131 749 1141 797 1193 801 1205 801 1223 791 1247 790 1265 785 1287 772 1325 753 1367 729 1517 683 1623 673 1655 669 1691 662 1829 655 1883 649 1895 623 1909 619 1913 615 1925 608 2057 612 2237 617 2260 647 2324 656 2333 665 2335 731 2335 773 2329 791 2313 803 2308 851 2308 875 2311 899 2319 910 2327 919 2339 929 2364 935 2375 944 2381 959 2384 1649 2385 1799 2397 1853 2399 1853 2406 1805 2405 1649 2395 953 2394 935 2389 925 2381 905 2346 893 2334 881 2327 863 2321 845 2319 803 2319 791 2324 779 2333 773 2335 737 2339 671 2341 655 2339 647 2333 617 2273 611 2260 607 2243 603 2057 604 2015 610 1949 611 1919 617 1905 638 1889 647 1867 656 1811 660 1721 660 1673 665 1643 694 1565 708 1511 715 1469 737 1418 742 1397 746 1367 764 1325 779 1271 782 1247 784 1241 796 1229 798 1223 799 1205 795 1193 775 1175 749 1145 737 1135 671 1107 641 1080 629 1072 560 1049 513 1031 491 1021 469 1007 446 983 426 959 383 869 347 821 332 797 327 737 330 665 334 647 342 629 347 621 365 610 395 587 425 556 497 461 533 425 552 395 551 389 532 371 509 328 503 321 500 323 499 329 504 353 516 383 520 389 527 395 516 413 481 449 425 521 413 535 407 538 405 533 409 509 407 504 404 515 401 517 394 533 377 551 362 581 350 593 344 605 326 629 317 639 299 648 293 654 289 665 285 701 283 737 285 767 287 789 291 803 306 821 344 875 353 905 388 977 412 1019 461 1085 473 1098 491 1113 500 1127 504 1145 493 1151 491 1157 497 1175 498 1187 500 1253 505 1271 512 1283 521 1293 533 1300 545 1302 557 1300 575 1289 586 1277 611 1230 617 1223 623 1223 630 1235 636 1265 639 1307 640 1391 636 1433 629 1449 623 1454 599 1454 585 1463 573 1481 567 1505 568 1547 576 1601 580 1661 577 1739 570 1787 551 1823 539 1839 527 1848 515 1851 395 1853 299 1841 179 1841 179 1833 299 1833 395 1842 521 1840 533 1835 545 1822 563 1791 569 1771 575 1727 577 1661 575 1637 560 1565 559 1505 563 1487 567 1475 579 1457 587 1451 599 1446 623 1446 629 1441 635 1426 638 1379 637 1307 635 1272 629 1242 623 1232 617 1233 608 1247 593 1283 587 1292 576 1301 563 1307 545 1312 533 1310 521 1303 508 1289 500 1277 494 1259 492 1187 486 1169 473 1153 437 1135 425 1126 414 1109 410 1091 413 1087 419 1088 431 1095 447 1109 461 1125 485 1142 491 1143 497 1141 499 1133 497 1127 490 1115 469 1097 443 1066 410 1019 386 977 351 905 341 875 289 803 283 779 280 737 285 665 288 653 294 647 311 639 323 629 341 605 348 593 360 581 368 563 370 557 367 551 371 536 377 542 383 541 389 535 415 479 425 431 423 389 421 377 411 359 413 359 419 341 425 355 431 387 432 431 425 471 411 515 411 527 413 529 425 518 479 449 514 413 522 401 525 395 515 385 502 353 496 329ZM413 491 412 497 413 498 413 497ZM422 1103 424 1109 432 1121 443 1129 456 1133 455 1127 442 1109 431 1101 425 1100ZM545 341 551 339 552 341 549 347 545 348 543 347ZM407 362 408 365 407 367 407 365ZM341 947 353 965 377 1012 384 1031 383 1045 377 1047 179 1046 179 1030 371 1031 374 1025 371 1010 353 981 347 979 335 993 329 998 305 1006 281 1008 179 1008 179 992 287 992 311 987 323 980 329 973ZM539 1162 551 1163 581 1177 606 1199 610 1205 609 1211 605 1213 599 1211 557 1173ZM571 1181 599 1206 605 1207 606 1205 602 1199 582 1181 575 1178Z"/>
<path fill="#f8bda1" stroke="#f8bda1" stroke-width="2" fill-rule="evenodd" d="M497 309 503 310 509 319 536 371 551 384 555 389 555 395 537 425 497 466 429 557 395 592 371 611 352 623 346 629 339 647 335 671 335 737 342 791 353 806 376 827 385 839 397 863 420 923 434 953 449 973 475 1001 504 1019 542 1037 629 1067 641 1074 671 1098 707 1111 737 1128 752 1139 797 1190 802 1199 805 1211 805 1223 798 1247 797 1267 791 1293 773 1337 760 1361 757 1373 750 1427 750 1487 743 1526 725 1572 695 1630 684 1661 673 1727 668 1877 666 1895 659 1904 629 1917 623 1925 622 2021 627 2141 659 2281 664 2297 671 2311 681 2321 689 2323 731 2326 761 2323 769 2321 785 2304 797 2294 815 2291 881 2294 923 2300 945 2309 962 2321 971 2331 983 2336 1079 2334 1133 2327 1397 2327 1427 2333 1463 2335 1488 2351 1501 2357 1524 2363 1577 2368 1655 2369 1718 2381 1763 2386 1811 2390 1853 2391 1853 2399 1799 2397 1643 2385 959 2384 944 2381 935 2375 929 2364 919 2339 910 2327 899 2319 875 2311 851 2308 803 2308 791 2313 773 2329 731 2335 665 2335 656 2333 647 2324 617 2260 612 2237 608 2057 615 1925 619 1913 623 1909 649 1895 655 1883 662 1829 669 1691 673 1655 683 1623 729 1517 753 1367 772 1325 785 1287 790 1265 791 1247 801 1223 801 1205 797 1193 749 1141 737 1131 707 1117 671 1103 641 1077 629 1069 535 1037 497 1019 473 1005 432 959 385 857 377 844 353 818 338 797 334 779 331 737 332 671 337 647 344 629 348 623 368 611 395 590 426 557 497 464 535 425 553 395 551 386 534 371 509 323 503 315 497 313 496 329 502 353 515 385 525 395 522 401 514 413 479 449 425 518 413 529 411 527 411 515 425 471 432 431 431 387 425 355 419 341 413 359 411 359 421 377 423 389 425 431 415 479 389 535 383 541 377 542 371 536 367 551 370 557 368 563 360 581 348 593 341 605 323 629 311 639 294 647 288 653 285 665 280 737 283 779 289 803 341 875 351 905 386 977 410 1019 443 1066 469 1097 490 1115 497 1127 499 1133 497 1141 491 1143 485 1142 461 1125 447 1109 431 1095 419 1088 413 1087 410 1091 414 1109 425 1126 437 1135 473 1153 486 1169 492 1187 494 1259 500 1277 508 1289 521 1303 533 1310 545 1312 563 1307 576 1301 587 1292 593 1283 608 1247 617 1233 623 1232 629 1242 635 1272 637 1307 638 1379 635 1426 629 1441 623 1446 599 1446 587 1451 579 1457 567 1475 563 1487 559 1505 560 1565 575 1637 577 1661 575 1727 569 1771 563 1791 545 1822 533 1835 521 1840 395 1842 299 1833 179 1833 179 1824 299 1824 389 1829 521 1828 533 1824 540 1817 557 1786 563 1766 569 1733 572 1673 569 1646 563 1627 553 1607 548 1583 548 1559 552 1499 560 1469 571 1451 581 1443 593 1438 605 1438 617 1440 623 1439 629 1432 633 1421 636 1379 636 1301 631 1265 629 1253 626 1247 623 1242 617 1244 615 1247 608 1259 596 1295 587 1307 575 1314 551 1321 539 1320 527 1317 515 1309 503 1297 490 1271 486 1247 485 1187 479 1171 467 1158 431 1142 419 1132 407 1115 395 1079 386 1067 377 1062 359 1059 179 1059 179 1046 377 1047 383 1045 384 1031 377 1012 353 965 341 947 330 971 326 977 317 984 305 989 281 992 179 992 179 979 281 979 293 978 305 974 317 966 324 953 326 935 322 911 323 909 329 909 336 917 379 1007 398 1055 406 1067 416 1079 443 1101 461 1120 473 1129 485 1136 491 1137 495 1133 495 1127 491 1119 472 1103 455 1085 441 1067 408 1019 381 971 351 911 339 875 287 803 280 773 276 731 280 665 284 653 293 643 311 636 323 626 339 605 346 593 357 581 366 563 364 545 380 503 393 455 398 413 401 363 402 359 411 353 415 341 419 339 422 341 425 346 434 401 434 437 425 479 416 509 416 515 419 520 437 501 479 446 512 413 520 401 522 395 515 389 512 383 502 359 497 341 493 317 494 311ZM407 365 407 367 407 362ZM413 373 404 401 401 445 390 503 383 527 383 534 389 528 412 479 423 431 422 395 419 384ZM551 335 557 333 558 335 552 347 545 351 540 347 542 341ZM545 341 543 347 545 348 549 347 552 341 551 339ZM575 1178 582 1181 602 1199 606 1205 605 1207 599 1206 577 1187 571 1181ZM965 1828 1001 1824 1019 1826 1061 1847 1103 1862 1115 1869 1129 1883 1148 1913 1157 1924 1193 1948 1205 1958 1226 1991 1236 2003 1247 2012 1272 2027 1285 2039 1294 2051 1305 2075 1313 2086 1322 2093 1349 2105 1363 2117 1375 2135 1379 2159 1379 2243 1373 2261 1367 2267 1217 2267 1211 2261 1211 2189 1151 2189 1061 2099 1059 2093 1058 1991 1056 1979 1051 1967 1042 1955 1025 1943 983 1927 965 1918 951 1907 943 1895 941 1877 946 1841 953 1832Z"/>
<path fill="#f6b191" stroke="#f6b191" stroke-width="2" fill-rule="evenodd" d="M491 310 497 306 503 307 506 311 538 371 553 383 556 389 557 395 555 401 534 431 498 467 431 557 395 594 348 629 341 647 339 665 341 731 345 767 351 791 381 815 395 837 406 863 426 923 440 953 479 998 512 1019 536 1031 566 1043 629 1064 641 1070 671 1093 707 1106 737 1123 755 1137 798 1187 806 1199 809 1223 798 1289 791 1309 765 1361 761 1379 757 1427 760 1475 754 1529 737 1580 703 1649 685 1703 681 1721 678 1811 679 1859 684 1895 695 1923 707 1937 719 1943 731 1946 785 1952 839 1952 851 1951 857 1945 860 1931 864 1841 868 1823 875 1814 889 1805 923 1787 941 1781 995 1779 1025 1781 1055 1791 1103 1814 1151 1821 1163 1824 1171 1829 1175 1835 1187 1876 1193 1886 1205 1892 1241 1902 1253 1911 1259 1925 1267 1955 1274 1967 1288 1973 1319 1981 1331 1989 1337 2000 1346 2033 1352 2045 1362 2051 1403 2063 1411 2069 1417 2081 1427 2117 1433 2128 1444 2135 1475 2143 1487 2150 1493 2159 1503 2195 1509 2207 1518 2213 1559 2225 1568 2231 1575 2243 1583 2274 1589 2286 1601 2292 1643 2298 1661 2305 1673 2314 1711 2351 1728 2363 1744 2369 1793 2379 1817 2382 1853 2382 1853 2391 1811 2390 1763 2386 1718 2381 1649 2369 1577 2368 1524 2363 1501 2357 1488 2351 1463 2335 1427 2333 1397 2327 1133 2327 1079 2334 983 2336 971 2331 962 2321 945 2309 923 2300 881 2294 815 2291 797 2294 785 2304 769 2321 761 2323 731 2326 689 2323 681 2321 671 2311 664 2297 659 2281 627 2141 622 2021 623 1925 629 1917 659 1904 666 1895 668 1877 673 1727 684 1661 695 1630 725 1572 743 1526 750 1487 750 1427 757 1373 760 1361 773 1337 791 1293 797 1267 798 1247 805 1223 805 1211 802 1199 797 1190 752 1139 737 1128 707 1111 671 1098 641 1074 629 1067 542 1037 504 1019 475 1001 449 973 434 953 420 923 397 863 385 839 376 827 353 806 342 791 335 737 335 671 339 647 346 629 352 623 371 611 395 592 429 557 497 466 537 425 555 395 555 389 551 384 536 371 503 310 497 309 494 311 493 317 495 335 502 359 512 383 515 389 522 395 520 401 512 413 479 446 437 501 419 520 416 515 416 509 425 479 434 431 434 395 425 347 422 341 419 339 415 341 411 353 402 359 393 455 380 503 364 545 366 563 357 581 346 593 339 605 323 626 311 636 293 643 284 653 280 665 276 731 280 773 287 803 339 875 351 911 381 971 408 1019 441 1067 455 1085 472 1103 491 1119 495 1127 495 1133 491 1137 485 1136 473 1129 461 1120 443 1101 416 1079 406 1067 398 1055 379 1007 336 917 329 909 323 909 322 911 326 935 324 953 317 966 305 974 293 978 281 979 179 979 179 966 281 965 293 964 305 959 311 953 316 941 316 929 309 887 311 884 317 886 342 917 370 983 399 1043 417 1073 467 1121 485 1132 491 1129 489 1121 485 1116 462 1097 438 1067 410 1025 382 977 351 917 336 875 285 803 276 773 272 731 274 689 279 653 289 641 311 632 323 623 344 593 355 581 364 563 362 545 379 497 390 455 399 359 407 353 412 341 419 337 425 341 436 401 436 431 427 479 420 509 425 511 431 505 479 444 510 413 518 401 519 395 513 389 498 353 491 323ZM960 1829 949 1835 944 1847 941 1883 943 1895 946 1901 953 1909 966 1919 983 1927 1025 1943 1037 1951 1047 1961 1054 1973 1058 1991 1059 2093 1061 2099 1151 2189 1211 2189 1211 2261 1217 2267 1367 2267 1373 2261 1379 2243 1379 2159 1375 2135 1363 2117 1349 2105 1322 2093 1313 2086 1305 2075 1294 2051 1285 2039 1272 2027 1247 2012 1236 2003 1226 1991 1205 1958 1193 1948 1157 1924 1148 1913 1129 1883 1115 1869 1103 1862 1061 1847 1019 1826 1001 1824ZM821 2101 803 2120 791 2142 786 2165 783 2195 785 2213 790 2225 795 2231 813 2243 839 2253 863 2258 1001 2259 1019 2257 1031 2251 1042 2243 1051 2231 1054 2219 1051 2207 1042 2195 1025 2183 978 2165 935 2141 866 2129 842 2117ZM557 329 563 327 564 329 562 335 554 347 551 351 545 353 539 350 537 347 539 341ZM551 335 542 341 540 347 545 351 552 347 558 335 557 333ZM413 373 419 384 422 395 422 437 414 473 409 485 389 528 383 534 383 527 390 503 401 445 405 395ZM413 384 405 425 403 455 395 492 395 505 401 497 409 479 421 431 420 395ZM179 1059 359 1059 377 1062 386 1067 395 1079 407 1115 419 1132 431 1142 467 1158 479 1171 485 1187 486 1247 490 1271 503 1297 515 1309 527 1317 539 1320 551 1321 569 1316 581 1311 593 1300 608 1259 617 1244 623 1242 629 1253 635 1289 636 1307 636 1379 634 1415 629 1432 623 1439 617 1440 605 1438 593 1438 575 1447 563 1462 556 1481 551 1511 548 1577 552 1601 563 1627 569 1649 572 1685 569 1733 563 1766 557 1786 540 1817 533 1824 527 1827 509 1829 395 1829 299 1824 179 1824 179 1807 509 1810 527 1806 533 1801 543 1781 554 1745 557 1727 557 1703 555 1697 517 1637 511 1619 511 1607 527 1574 533 1556 546 1475 552 1457 557 1447 569 1436 581 1430 599 1427 617 1431 623 1430 629 1421 634 1379 634 1331 633 1295 629 1265 623 1253 617 1255 611 1268 599 1309 593 1319 587 1323 575 1328 551 1331 539 1331 527 1327 515 1321 503 1311 495 1301 486 1283 479 1253 478 1193 473 1175 461 1163 425 1149 411 1139 401 1124 389 1091 380 1079 371 1074 359 1073 179 1072ZM1181 1407 1205 1404 1241 1404 1253 1406 1259 1409 1265 1415 1268 1421 1267 1433 1259 1448 1247 1457 1235 1459 1211 1459 1187 1457 1181 1454 1172 1445 1168 1439 1165 1427 1170 1415Z"/>
<path fill="#f3a481" stroke="#f3a481" stroke-width="2" fill-rule="evenodd" d="M629 275 629 275 628 275ZM497 304 503 304 509 311 521 336 533 353 537 341 539 339 563 323 569 321 571 323 565 335 551 353 545 355 539 354 535 359 540 371 551 379 557 387 559 395 557 401 536 431 500 467 434 557 395 596 351 629 345 641 343 653 343 677 359 769 365 780 383 794 395 813 413 857 437 935 443 948 461 971 484 995 532 1025 559 1037 635 1063 671 1088 707 1100 743 1122 757 1133 802 1187 807 1193 812 1205 813 1229 803 1289 797 1307 770 1361 765 1379 762 1421 768 1475 761 1535 749 1577 716 1649 707 1679 693 1709 689 1723 687 1757 687 1829 694 1871 701 1888 707 1893 719 1897 767 1903 791 1901 811 1895 819 1889 822 1883 835 1811 839 1799 845 1790 863 1777 923 1747 941 1741 959 1738 1019 1736 1169 1739 1217 1744 1241 1750 1249 1757 1261 1799 1269 1811 1280 1817 1319 1828 1327 1835 1331 1842 1341 1877 1349 1891 1361 1897 1396 1907 1406 1913 1412 1925 1421 1958 1427 1969 1439 1977 1475 1987 1487 1994 1493 2008 1501 2039 1509 2051 1520 2057 1553 2066 1565 2072 1571 2082 1583 2123 1589 2131 1601 2137 1636 2147 1646 2153 1652 2165 1661 2198 1667 2209 1679 2217 1715 2227 1727 2234 1733 2248 1741 2279 1749 2291 1763 2298 1804 2309 1819 2315 1853 2335 1853 2382 1810 2381 1770 2375 1744 2369 1728 2363 1719 2357 1673 2314 1661 2305 1643 2298 1601 2292 1589 2286 1583 2274 1575 2243 1568 2231 1559 2225 1518 2213 1509 2207 1503 2195 1493 2159 1487 2150 1475 2143 1444 2135 1433 2128 1427 2117 1417 2081 1411 2069 1403 2063 1362 2051 1352 2045 1346 2033 1337 2000 1331 1989 1319 1981 1288 1973 1274 1967 1267 1955 1259 1925 1253 1911 1241 1902 1205 1892 1193 1886 1187 1876 1175 1835 1171 1829 1163 1824 1151 1821 1103 1814 1055 1791 1025 1781 995 1779 941 1781 923 1787 889 1805 875 1814 868 1823 864 1841 860 1931 857 1945 851 1951 839 1952 785 1952 731 1946 719 1943 707 1937 695 1923 684 1895 679 1859 678 1811 681 1721 685 1703 703 1649 737 1580 754 1529 760 1475 757 1427 761 1379 765 1361 791 1309 798 1289 809 1223 806 1199 798 1187 755 1137 737 1123 707 1106 671 1093 641 1070 629 1064 566 1043 524 1025 493 1007 476 995 449 965 437 948 424 917 404 857 389 826 377 810 359 798 351 791 347 778 342 737 339 665 341 647 348 629 395 594 431 557 498 467 534 431 555 401 557 395 556 389 553 383 538 371 509 315 503 307 497 306 491 310 491 323 500 359 513 389 519 395 518 401 510 413 479 444 443 491 425 511 420 509 427 479 436 431 436 395 425 341 419 337 413 340 407 353 399 359 390 455 379 497 362 545 364 563 355 581 344 593 323 623 311 632 289 641 279 653 274 689 272 731 276 773 285 803 336 875 351 917 382 977 410 1025 438 1067 462 1097 485 1116 489 1121 491 1129 485 1132 467 1121 417 1073 399 1043 370 983 342 917 317 886 311 884 309 887 316 929 316 941 311 953 304 959 293 964 281 965 179 966 179 952 281 951 293 949 299 945 305 935 306 929 305 917 295 875 295 869 299 865 305 868 317 878 335 900 341 900 335 880 285 809 273 773 267 731 272 659 277 647 287 637 311 629 323 619 346 587 353 580 359 570 361 563 359 545 376 497 387 455 397 359 407 349 413 338 419 335 427 341 438 395 438 431 425 497 425 504 437 495 478 443 509 411 516 401 516 395 511 389 498 359 490 329 488 311 491 307ZM557 329 539 341 537 347 539 350 545 353 551 351 554 347 562 335 564 329 563 327ZM365 953 365 954 365 953ZM371 964 370 971 371 973 373 971ZM374 977 377 987 401 1038 422 1073 467 1116 479 1124 485 1121 467 1107 452 1091 434 1067 420 1043 403 1019 380 983 377 975ZM413 384 420 395 421 431 409 479 401 497 395 505 395 492 403 455 409 401ZM413 395 407 434 405 461 401 475 401 487 407 479 410 461 419 431 416 401ZM179 1072 359 1073 371 1074 380 1079 389 1091 401 1124 411 1139 425 1149 461 1163 473 1175 478 1193 479 1253 486 1283 495 1301 503 1311 515 1321 527 1327 539 1331 551 1331 575 1328 587 1323 593 1319 599 1309 611 1268 617 1255 623 1253 626 1259 631 1277 634 1319 634 1379 629 1421 623 1430 617 1431 599 1427 581 1430 569 1436 557 1447 552 1457 546 1475 533 1556 527 1574 511 1607 511 1619 517 1637 555 1697 557 1703 557 1727 551 1755 539 1790 533 1801 527 1806 521 1809 503 1810 179 1807 179 1459 491 1460 497 1457 517 1433 539 1411 557 1398 575 1394 587 1400 596 1409 611 1419 617 1421 623 1418 629 1399 631 1331 629 1283 623 1266 617 1271 605 1318 599 1335 581 1364 575 1370 569 1370 557 1366 497 1322 489 1313 483 1301 475 1277 472 1253 471 1193 467 1181 463 1175 455 1169 419 1159 404 1151 398 1145 392 1133 382 1103 377 1095 371 1090 353 1087 179 1087ZM1175 1391 1199 1387 1253 1389 1271 1397 1282 1409 1286 1421 1284 1439 1271 1471 1259 1490 1253 1496 1247 1500 1235 1502 1187 1501 1169 1493 1158 1481 1151 1469 1145 1451 1142 1433 1143 1421 1149 1409 1155 1403ZM1177 1409 1170 1415 1166 1421 1166 1433 1175 1449 1187 1457 1211 1459 1235 1459 1247 1457 1259 1448 1267 1433 1268 1421 1265 1415 1259 1409 1253 1406 1241 1404 1199 1404 1187 1405ZM821 2101 842 2117 866 2129 935 2141 978 2165 1025 2183 1042 2195 1051 2207 1054 2219 1051 2231 1042 2243 1031 2251 1019 2257 1001 2259 863 2258 839 2253 809 2241 795 2231 786 2219 783 2201 784 2177 787 2159 791 2142 803 2120 815 2105Z"/>
<path fill="#ee9677" stroke="#ee9677" stroke-width="2" fill-rule="evenodd" d="M623 273 629 271 632 275 624 281 617 282 616 281ZM629 275 629 275 629 275ZM491 304 497 302 503 302 507 305 527 342 533 343 541 335 569 316 575 314 577 317 567 335 554 353 551 355 539 359 539 365 543 371 557 383 560 389 559 401 538 431 502 467 436 557 395 598 353 629 348 641 346 653 347 671 350 683 359 701 377 721 383 732 388 749 393 779 422 851 443 930 450 947 467 968 494 995 520 1013 540 1025 569 1037 635 1060 671 1082 713 1097 749 1120 761 1130 785 1161 810 1187 818 1199 822 1211 823 1223 818 1247 806 1295 776 1355 770 1373 767 1421 773 1463 774 1481 770 1523 766 1547 753 1589 725 1655 716 1691 703 1715 699 1727 697 1751 695 1811 699 1835 707 1853 719 1864 767 1883 779 1882 785 1877 791 1867 801 1835 803 1823 802 1811 799 1799 791 1788 763 1769 752 1757 748 1745 750 1739 758 1733 773 1729 785 1728 851 1738 869 1736 899 1723 941 1700 983 1684 1019 1663 1031 1659 1067 1655 1091 1649 1105 1643 1131 1625 1133 1621 1138 1619 1121 1596 1109 1572 1103 1544 1101 1517 1103 1499 1114 1463 1119 1427 1126 1409 1134 1397 1145 1388 1159 1379 1175 1373 1193 1371 1241 1371 1265 1376 1280 1385 1295 1401 1302 1415 1303 1427 1297 1451 1259 1560 1253 1570 1247 1576 1235 1580 1186 1589 1162 1601 1146 1613 1140 1619 1145 1621 1146 1625 1151 1628 1170 1649 1197 1673 1218 1685 1265 1703 1282 1715 1316 1763 1361 1794 1370 1805 1394 1841 1409 1853 1433 1868 1444 1877 1475 1922 1486 1931 1511 1946 1522 1955 1532 1967 1553 2000 1565 2010 1601 2034 1610 2045 1634 2081 1649 2093 1673 2108 1684 2117 1712 2159 1726 2171 1751 2186 1762 2195 1772 2207 1787 2232 1799 2245 1811 2253 1823 2257 1853 2259 1853 2335 1819 2315 1804 2309 1763 2298 1749 2291 1741 2279 1733 2248 1727 2234 1715 2227 1679 2217 1667 2209 1661 2198 1652 2165 1646 2153 1636 2147 1601 2137 1589 2131 1583 2123 1571 2082 1565 2072 1553 2066 1520 2057 1509 2051 1501 2039 1493 2008 1487 1994 1475 1987 1439 1977 1427 1969 1421 1958 1412 1925 1406 1913 1396 1907 1361 1897 1349 1891 1341 1877 1331 1842 1327 1835 1319 1828 1280 1817 1269 1811 1261 1799 1249 1757 1241 1750 1217 1744 1169 1739 1019 1736 959 1738 941 1741 923 1747 863 1777 845 1790 839 1799 835 1811 822 1883 819 1889 811 1895 791 1901 767 1903 719 1897 707 1893 701 1888 694 1871 687 1829 687 1757 689 1723 693 1709 707 1679 716 1649 749 1577 761 1535 768 1475 762 1421 765 1379 770 1361 797 1307 803 1289 813 1229 812 1205 807 1193 802 1187 757 1133 743 1122 707 1100 671 1088 635 1063 559 1037 532 1025 484 995 461 971 443 948 437 935 413 857 395 813 383 794 365 780 359 769 342 671 344 647 351 629 395 596 434 557 500 467 536 431 553 407 559 395 558 389 555 383 540 371 535 359 539 354 545 355 551 353 569 329 571 323 569 321 563 323 537 341 533 353 530 347 527 346 509 311 504 305 497 304 491 307 488 311 488 317 495 347 508 383 516 395 516 401 509 411 478 443 437 495 425 504 425 497 438 431 438 395 427 341 419 335 413 338 407 349 397 359 387 455 376 497 359 545 361 563 359 570 353 580 346 587 335 604 317 625 311 629 293 634 281 642 274 653 271 665 268 701 267 737 271 767 278 791 285 809 335 880 341 900 335 900 317 878 305 868 299 865 295 869 295 875 305 917 306 929 305 935 299 945 293 949 281 951 179 952 179 936 227 935 257 932 276 929 284 923 286 917 286 905 281 863 281 848 287 845 311 863 313 857 282 809 266 767 262 737 262 713 265 677 269 653 276 641 287 632 317 621 335 600 343 587 354 575 359 563 357 545 372 503 385 455 395 359 413 336 419 334 425 336 429 341 440 395 440 431 431 479 430 491 431 495 443 484 475 443 509 409 514 401 513 395 506 383 496 359 490 335 486 311ZM312 863 317 866 317 862ZM1174 1391 1163 1397 1151 1407 1145 1415 1142 1427 1142 1439 1146 1457 1158 1481 1169 1493 1187 1501 1235 1502 1247 1500 1253 1496 1259 1490 1271 1471 1284 1439 1286 1421 1282 1409 1271 1397 1253 1389 1199 1387ZM413 395 416 401 419 431 410 461 407 479 401 487 401 475 405 461 407 434ZM413 416 411 431 413 443 415 431ZM869 443 881 442 899 445 909 449 912 455 905 461 887 466 875 468 863 467 855 461 854 455 857 449ZM365 953 365 953 365 954ZM371 964 373 971 371 973 370 965ZM377 975 380 983 434 1067 457 1097 485 1121 479 1124 467 1116 422 1073 407 1050 395 1026 376 983 374 977ZM412 1043 413 1049 414 1049 414 1043ZM418 1055 419 1058 420 1055 419 1051ZM425 1061 425 1067 425 1067ZM179 1087 353 1087 365 1088 373 1091 377 1095 382 1103 392 1133 398 1145 404 1151 419 1159 455 1169 461 1173 467 1180 471 1199 473 1265 476 1283 483 1301 491 1315 503 1327 557 1366 569 1370 575 1370 581 1364 599 1335 605 1318 617 1271 623 1266 629 1283 631 1331 629 1399 623 1418 617 1421 611 1419 596 1409 587 1400 575 1394 557 1398 539 1411 517 1433 497 1457 491 1460 179 1459 179 1296 182 1301 185 1302 188 1307 191 1308 218 1337 240 1355 263 1367 293 1377 323 1379 449 1378 461 1376 473 1370 483 1361 489 1349 489 1343 476 1319 468 1295 463 1259 461 1194 455 1182 443 1177 395 1174 377 1171 359 1163 344 1151 341 1147 335 1144 303 1145 275 1151 179 1151ZM623 1287 617 1296 610 1343 611 1373 617 1396 623 1390 628 1337 626 1301Z"/>
<path fill="#e6866a" stroke="#e6866a" stroke-width="2" fill-rule="evenodd" d="M629 268 634 275 629 281 605 293 599 294 598 293 617 275 623 270ZM621 275 616 281 617 282 624 281 632 275 629 271ZM592 299 595 299 593 300ZM491 302 497 300 503 300 509 304 527 338 533 339 581 305 587 303 590 305 557 352 545 361 542 365 560 383 562 389 561 401 541 431 503 469 458 533 439 557 401 595 371 620 357 629 353 635 350 647 353 668 359 681 386 707 394 719 399 731 407 779 433 851 454 935 465 953 491 982 529 1013 565 1031 641 1058 677 1077 719 1094 761 1122 785 1151 803 1169 833 1191 857 1202 862 1211 859 1223 854 1229 833 1245 821 1263 808 1301 776 1367 773 1385 772 1415 780 1475 778 1523 772 1553 763 1583 738 1643 733 1661 731 1685 733 1697 737 1703 748 1709 767 1712 845 1712 869 1707 899 1691 935 1665 977 1641 989 1630 1004 1613 1015 1595 1022 1577 1028 1511 1031 1493 1043 1475 1085 1431 1109 1391 1121 1377 1133 1369 1145 1363 1163 1358 1181 1355 1247 1355 1265 1358 1277 1363 1295 1375 1307 1388 1316 1403 1320 1421 1316 1445 1296 1511 1280 1577 1279 1631 1280 1643 1282 1649 1290 1655 1320 1667 1328 1673 1333 1685 1343 1720 1349 1729 1361 1736 1395 1745 1406 1751 1413 1763 1423 1799 1431 1811 1444 1817 1475 1825 1487 1832 1493 1843 1502 1877 1509 1889 1518 1895 1559 1907 1567 1913 1573 1925 1583 1960 1589 1969 1601 1976 1635 1985 1646 1991 1653 2003 1663 2039 1671 2051 1684 2057 1715 2065 1727 2072 1733 2083 1742 2117 1749 2129 1763 2137 1802 2147 1818 2153 1839 2165 1853 2176 1853 2259 1823 2257 1811 2253 1799 2245 1787 2232 1772 2207 1762 2195 1751 2186 1726 2171 1712 2159 1684 2117 1673 2108 1649 2093 1634 2081 1610 2045 1601 2034 1565 2010 1553 2000 1532 1967 1522 1955 1511 1946 1486 1931 1475 1922 1444 1877 1433 1868 1409 1853 1394 1841 1370 1805 1361 1794 1316 1763 1282 1715 1265 1703 1218 1685 1197 1673 1170 1649 1151 1628 1146 1625 1145 1621 1140 1619 1146 1613 1162 1601 1186 1589 1235 1580 1247 1576 1253 1570 1259 1560 1297 1451 1303 1427 1301 1412 1292 1397 1277 1383 1259 1374 1247 1371 1223 1371 1193 1371 1175 1373 1159 1379 1145 1388 1134 1397 1126 1409 1119 1427 1114 1463 1103 1499 1101 1517 1103 1544 1109 1572 1121 1596 1138 1619 1133 1621 1131 1625 1105 1643 1091 1649 1067 1655 1031 1659 1019 1663 983 1684 941 1700 899 1723 869 1736 851 1738 785 1728 773 1729 758 1733 750 1739 748 1745 752 1757 763 1769 791 1788 799 1799 802 1811 803 1823 801 1835 791 1867 785 1877 779 1882 767 1883 719 1864 707 1853 699 1835 695 1811 697 1751 699 1727 703 1715 716 1691 727 1649 755 1584 767 1542 771 1517 774 1481 773 1463 767 1421 770 1373 776 1355 806 1295 817 1253 823 1223 821 1205 815 1193 785 1161 761 1130 743 1116 713 1097 671 1082 635 1060 569 1037 529 1019 487 989 461 961 449 945 443 929 422 851 393 779 388 749 383 732 377 721 359 701 353 690 346 665 346 647 353 629 395 598 436 557 502 467 538 431 555 407 560 395 560 389 557 383 543 371 539 365 539 359 551 355 557 349 575 323 577 317 575 314 541 335 533 343 527 342 507 305 503 302 497 302 490 305 486 311 486 317 490 335 496 359 506 383 513 395 514 401 509 409 475 443 443 484 431 495 430 491 431 479 440 431 440 401 429 341 425 336 419 334 413 336 395 359 385 455 372 503 357 545 359 563 357 569 353 577 343 587 321 617 311 624 293 629 281 636 272 647 267 659 263 695 262 731 266 767 282 809 313 857 311 863 287 845 281 848 280 857 286 911 284 923 276 929 233 935 179 936 179 912 215 911 233 906 252 893 263 875 266 857 265 827 266 821 269 818 275 818 277 815 269 788 259 767 255 737 256 701 260 659 265 647 275 633 287 625 317 617 353 573 356 563 354 545 371 499 383 455 393 359 413 333 419 332 425 334 430 341 441 395 441 431 435 473 434 479 437 486 449 474 473 443 508 407 511 401 511 395 494 359 486 329 484 311ZM905 409 935 395 941 396 951 407 962 425 970 443 972 455 967 467 960 473 947 481 935 484 875 485 851 481 839 474 832 467 830 461 834 449 857 426 869 419ZM868 443 857 449 854 455 855 461 863 467 875 468 887 466 905 461 912 455 909 449 899 445 881 442ZM413 416 415 431 413 443 411 431ZM317 862 317 866 312 863ZM1751 902 1769 899 1853 899 1853 1046 1829 1045 1817 1041 1810 1037 1798 1025 1775 987 1739 959 1732 947 1732 929 1739 913 1745 905ZM413 1042 414 1049 413 1049 412 1043ZM419 1051 420 1055 419 1058 418 1055ZM424 1061 425 1061 425 1067ZM305 1145 335 1144 341 1147 344 1151 359 1163 377 1171 395 1174 443 1177 455 1182 461 1194 463 1259 468 1295 476 1319 489 1343 487 1355 477 1367 461 1376 443 1379 317 1379 287 1375 262 1367 240 1355 218 1337 191 1308 188 1307 185 1302 182 1301 179 1296 179 1151 275 1151ZM623 1287 627 1307 628 1337 623 1390 617 1396 611 1373 610 1343 617 1296Z"/>
<path fill="#df765e" stroke="#df765e" stroke-width="2" fill-rule="evenodd" d="M1219 179 1619 179 1619 203 1616 221 1605 239 1595 249 1556 275 1547 286 1532 311 1523 322 1475 356 1445 400 1433 410 1397 434 1385 449 1367 477 1351 491 1331 498 1271 497 1247 500 1223 508 1187 527 1169 534 1143 533 1115 528 1109 524 1103 515 1094 473 1098 461 1121 428 1134 395 1139 371 1140 305 1143 287 1150 275 1156 269 1193 250 1210 233 1217 215ZM485 243 488 245 485 251 483 245ZM491 250 491 252 487 251ZM623 267 629 266 634 269 636 275 632 281 605 297 593 307 557 354 546 365 562 383 565 395 560 407 548 425 539 436 503 473 465 527 437 563 401 598 359 633 355 641 355 647 359 660 365 671 395 701 404 713 410 725 416 743 422 785 446 851 461 920 466 935 474 947 497 972 532 1007 563 1025 595 1037 641 1051 719 1086 767 1120 785 1140 797 1150 815 1159 827 1157 833 1153 863 1109 875 1101 887 1099 917 1100 923 1101 929 1109 935 1134 937 1169 934 1181 923 1205 910 1241 905 1248 893 1255 881 1257 845 1258 833 1262 827 1267 821 1276 811 1301 781 1361 778 1379 777 1409 787 1475 786 1517 782 1547 774 1577 744 1655 744 1673 749 1684 761 1693 773 1696 785 1698 821 1694 851 1688 881 1672 951 1625 971 1608 986 1589 996 1565 1013 1458 1019 1435 1025 1420 1031 1410 1043 1395 1085 1353 1097 1343 1109 1338 1121 1335 1181 1331 1247 1332 1259 1333 1277 1340 1301 1353 1318 1367 1334 1391 1342 1415 1341 1433 1318 1505 1302 1571 1303 1589 1307 1601 1313 1612 1325 1624 1355 1647 1375 1679 1385 1693 1397 1702 1427 1720 1435 1727 1457 1763 1467 1775 1505 1798 1513 1805 1523 1817 1536 1841 1545 1853 1559 1863 1583 1877 1595 1887 1623 1931 1672 1967 1682 1979 1703 2011 1715 2021 1739 2036 1751 2046 1787 2095 1799 2103 1817 2110 1853 2112 1853 2176 1839 2165 1818 2153 1802 2147 1763 2137 1749 2129 1742 2117 1733 2083 1727 2072 1715 2065 1684 2057 1671 2051 1663 2039 1653 2003 1646 1991 1635 1985 1601 1976 1589 1969 1583 1960 1573 1925 1567 1913 1559 1907 1518 1895 1509 1889 1502 1877 1493 1843 1487 1832 1475 1825 1444 1817 1431 1811 1423 1799 1413 1763 1406 1751 1395 1745 1361 1736 1349 1729 1343 1720 1333 1685 1328 1673 1320 1667 1290 1655 1282 1649 1280 1643 1279 1631 1280 1577 1296 1511 1316 1445 1320 1421 1316 1403 1304 1385 1289 1370 1271 1360 1247 1355 1175 1356 1145 1363 1133 1369 1121 1377 1109 1391 1085 1431 1043 1475 1031 1493 1028 1511 1022 1577 1015 1595 1004 1613 989 1630 977 1641 935 1665 899 1691 869 1707 845 1712 767 1712 748 1709 737 1703 733 1697 731 1685 733 1661 738 1643 763 1583 772 1553 778 1523 780 1475 772 1415 773 1385 776 1367 808 1301 821 1263 833 1245 854 1229 859 1223 862 1211 860 1205 852 1199 833 1191 809 1174 791 1158 761 1122 719 1094 677 1077 629 1053 580 1037 551 1025 521 1007 491 982 465 953 455 938 449 921 433 851 407 779 399 731 394 719 386 707 359 681 353 668 350 653 353 635 357 629 371 620 401 595 433 563 458 533 503 469 539 433 553 413 561 401 562 389 557 380 547 371 542 365 547 359 556 353 569 335 590 305 587 303 581 305 533 339 527 338 509 304 503 300 497 300 488 305 484 311 484 317 489 341 494 359 511 395 511 401 508 407 473 443 449 474 437 486 434 479 435 473 441 431 441 395 430 341 425 334 419 332 413 333 397 353 393 359 383 455 371 499 354 545 356 563 353 573 317 617 287 625 275 633 265 647 260 659 256 701 255 737 259 767 269 788 277 815 275 818 269 818 266 821 265 827 266 857 263 875 252 893 233 906 215 911 179 912 179 886 209 885 221 881 233 873 243 857 247 839 250 791 245 731 245 701 252 653 261 635 275 623 293 615 311 613 317 610 329 598 336 587 351 569 353 563 351 545 371 489 381 449 391 359 394 353 408 335 413 331 419 330 425 332 432 341 443 395 443 431 437 473 443 476 473 439 509 401 494 365 489 347 482 317 482 311 485 305 491 300 497 298 503 298 509 302 527 334 533 336 545 329 587 298ZM625 269 604 287 598 293 599 294 605 293 629 281 634 275 631 269ZM593 298 593 300 595 299ZM965 298 971 300 976 311 979 365 983 383 990 401 1018 455 1018 461 1012 473 1000 485 983 497 959 507 941 510 854 497 835 491 821 483 811 473 808 467 808 461 815 449 857 406 900 377 915 359 935 325 947 309 953 303ZM935 395 905 409 869 419 857 426 834 449 830 461 832 467 839 474 851 481 875 485 935 484 947 481 960 473 967 467 972 455 970 443 959 420 947 401 941 396ZM1757 857 1853 856 1853 899 1769 899 1751 902 1745 905 1739 913 1733 925 1731 935 1732 947 1739 959 1775 987 1798 1025 1805 1033 1811 1038 1823 1043 1853 1046 1853 1072 1817 1070 1805 1066 1793 1059 1777 1043 1757 1009 1729 983 1721 970 1716 953 1715 941 1721 911 1730 887 1739 871 1745 863Z"/>
<path fill="#da6853" stroke="#da6853" stroke-width="2" fill-rule="evenodd" d="M179 179 339 179 339 287 337 305 332 323 323 344 311 364 269 409 257 418 227 416 208 413 191 408 179 407ZM912 179 1219 179 1217 215 1210 233 1193 250 1156 269 1150 275 1143 287 1140 305 1139 371 1134 395 1121 428 1098 461 1094 473 1103 514 1109 524 1115 528 1127 531 1163 534 1181 530 1217 510 1247 500 1271 497 1331 498 1343 495 1355 489 1370 473 1385 449 1397 434 1433 410 1445 400 1475 356 1523 322 1532 311 1547 286 1556 275 1595 249 1605 239 1613 227 1617 215 1619 179 1853 179 1853 215 1841 227 1847 233 1853 233 1847 239 1853 245 1853 251 1829 251 1823 257 1829 263 1853 263 1853 275 1847 281 1853 287 1853 311 1847 317 1853 323 1853 401 1841 401 1835 407 1841 413 1853 413 1853 467 1847 467 1841 473 1847 479 1853 479 1853 479 1853 485 1853 491 1853 497 1853 503 1853 509 1853 515 1853 521 1853 527 1853 533 1853 539 1853 545 1853 551 1847 551 1853 545 1847 539 1835 539 1835 533 1823 521 1823 509 1817 503 1811 503 1811 491 1805 485 1799 491 1781 473 1787 467 1781 461 1769 461 1763 455 1763 449 1757 443 1745 443 1733 431 1727 431 1721 425 1715 425 1715 419 1709 413 1709 347 1715 347 1721 341 1715 335 1709 335 1703 339 1631 339 1619 340 1593 359 1582 365 1568 371 1523 383 1511 389 1504 401 1491 443 1487 449 1481 452 1445 463 1433 468 1425 479 1412 521 1408 527 1403 530 1385 535 1343 538 1319 537 1271 530 1253 531 1229 540 1187 569 1169 577 1121 579 1097 576 1079 569 1025 541 1013 539 995 540 953 547 947 546 913 527 897 521 833 508 814 503 802 497 790 485 785 473 786 461 795 449 827 419 882 359 896 341 906 323 912 305 914 293ZM1739 191 1745 197 1751 191 1745 185ZM1757 191 1763 197 1769 191 1763 185ZM1799 191 1805 197 1811 191 1805 185ZM1823 191 1829 197 1835 191 1829 185ZM1835 191 1841 197 1847 197 1853 191 1847 185 1841 185ZM1787 215 1793 221 1799 215 1793 209ZM1835 221 1841 227 1847 221 1841 215ZM1709 227 1715 233 1751 233 1757 239 1769 227 1763 221 1715 221ZM1805 227 1817 239 1823 239 1829 233 1817 221 1811 221ZM1829 233 1835 239 1841 233 1835 227ZM1775 257 1781 263 1787 257 1781 251ZM1799 257 1805 263 1811 257 1805 251ZM1745 281 1751 287 1757 281 1751 275ZM1769 281 1775 287 1781 281 1775 275ZM1787 281 1793 287 1799 281 1793 275ZM1799 281 1805 287 1811 281 1805 275ZM1811 281 1817 287 1823 281 1817 275ZM1823 281 1829 287 1835 287 1841 281 1835 275 1829 275ZM965 298 953 303 941 316 915 359 900 377 857 406 815 449 808 461 808 467 811 473 821 483 835 491 854 497 941 510 959 507 983 497 1000 485 1012 473 1018 461 1018 455 990 401 983 383 979 365 977 316 974 305 971 300ZM1799 305 1805 311 1811 305 1805 299ZM1715 317 1721 323 1727 317 1721 311ZM1727 317 1733 323 1739 317 1733 311ZM1739 317 1739 323 1745 329 1751 323 1751 317 1745 311ZM1751 317 1757 323 1763 317 1757 311ZM1781 317 1787 323 1793 317 1787 311ZM1793 317 1799 323 1805 317 1799 311ZM1811 317 1817 323 1823 323 1829 317 1823 311 1817 311ZM1799 323 1805 329 1811 323 1805 317ZM1739 341 1745 347 1751 341 1745 335ZM1757 341 1763 347 1769 341 1763 335ZM1805 341 1811 347 1817 341 1811 335ZM1817 341 1823 347 1829 347 1835 341 1829 335 1823 335ZM1835 341 1841 347 1847 341 1841 335ZM1829 347 1835 353 1841 347 1835 341ZM1811 365 1805 365 1799 371 1805 377 1817 377 1823 371 1823 365 1817 359ZM1721 383 1727 389 1733 383 1727 377ZM1745 383 1751 389 1757 383 1751 377ZM1829 383 1835 389 1841 383 1835 377ZM1709 407 1715 413 1721 413 1727 407 1721 401 1715 401ZM1757 407 1763 413 1769 407 1763 401ZM1787 407 1793 413 1799 413 1805 407 1799 401 1793 401ZM1817 407 1823 413 1829 407 1823 401ZM1721 413 1727 419 1733 413 1727 407ZM1721 425 1727 431 1733 431 1739 425 1733 419 1727 419ZM1739 425 1739 431 1745 437 1751 431 1751 425 1745 419ZM1823 425 1823 431 1829 437 1835 431 1835 425 1829 419ZM1769 431 1775 437 1781 431 1775 425ZM1781 431 1787 437 1793 431 1787 425ZM1763 443 1769 449 1775 443 1769 437ZM1793 461 1781 473 1793 485 1799 479 1799 473 1811 473 1817 479 1823 473 1823 467 1817 461ZM1793 485 1799 491 1805 485 1799 479ZM1823 485 1829 491 1835 485 1829 479ZM1817 497 1823 503 1829 497 1823 491ZM1829 497 1835 503 1841 503 1847 497 1841 491 1835 491ZM1823 515 1823 521 1829 527 1835 527 1841 521 1829 509ZM485 241 492 245 497 257 491 259 482 251 479 245ZM483 245 485 251 488 245 485 243ZM487 251 491 252 491 251 491 250ZM623 265 629 264 636 269 638 275 635 281 611 295 593 310 551 365 565 383 567 389 566 401 555 419 541 437 506 473 465 533 446 557 401 601 369 629 364 635 363 641 365 649 375 665 414 707 425 725 430 743 433 773 437 790 466 863 483 923 492 941 534 995 556 1013 595 1031 665 1051 719 1076 767 1110 791 1129 803 1132 815 1127 824 1115 832 1097 845 1055 857 1029 866 1019 909 983 924 965 936 947 941 929 943 857 945 839 949 827 953 822 959 820 1001 819 1019 816 1037 807 1047 797 1055 785 1071 743 1079 726 1089 713 1097 706 1115 700 1169 700 1181 705 1217 725 1247 736 1271 739 1325 739 1343 743 1371 755 1401 773 1409 781 1412 791 1409 822 1403 843 1394 851 1361 861 1349 867 1343 878 1340 893 1326 1013 1328 1019 1343 1044 1349 1061 1355 1085 1357 1103 1353 1133 1337 1187 1336 1247 1338 1253 1342 1259 1349 1261 1421 1263 1440 1265 1451 1269 1454 1271 1458 1277 1458 1313 1452 1331 1437 1355 1429 1373 1415 1421 1409 1470 1403 1487 1394 1493 1355 1500 1343 1511 1337 1523 1325 1559 1323 1571 1324 1583 1331 1595 1337 1601 1361 1616 1373 1625 1382 1637 1395 1661 1405 1673 1415 1681 1443 1697 1456 1709 1478 1745 1487 1755 1523 1777 1535 1787 1543 1799 1557 1823 1565 1833 1577 1843 1601 1856 1613 1865 1622 1877 1635 1901 1644 1913 1688 1955 1727 1997 1766 2033 1800 2069 1811 2078 1823 2084 1853 2086 1853 2112 1817 2110 1799 2103 1787 2095 1751 2046 1739 2036 1715 2021 1703 2011 1682 1979 1672 1967 1623 1931 1595 1887 1583 1877 1559 1863 1545 1853 1536 1841 1523 1817 1513 1805 1505 1798 1467 1775 1457 1763 1435 1727 1427 1720 1397 1702 1385 1693 1375 1679 1355 1647 1325 1624 1314 1613 1304 1595 1302 1583 1302 1571 1318 1505 1341 1433 1342 1415 1334 1391 1318 1367 1301 1353 1271 1337 1247 1332 1169 1332 1121 1335 1109 1338 1097 1343 1085 1353 1043 1395 1031 1410 1025 1420 1019 1435 1013 1458 996 1565 986 1589 971 1608 951 1625 881 1672 851 1688 821 1694 785 1698 773 1696 761 1693 749 1684 744 1673 744 1655 774 1577 782 1547 786 1517 787 1475 777 1409 778 1379 781 1361 811 1301 821 1276 827 1267 833 1262 845 1258 881 1257 893 1255 905 1248 910 1241 923 1205 934 1181 937 1169 935 1134 929 1109 923 1101 917 1100 887 1099 875 1101 863 1109 833 1153 827 1157 815 1159 797 1150 785 1140 767 1120 719 1086 641 1051 595 1037 563 1025 532 1007 497 972 474 947 466 935 461 920 446 851 422 785 416 743 410 725 404 713 395 701 365 671 359 660 355 647 355 641 359 633 401 598 437 563 465 527 503 473 543 431 560 407 565 395 562 383 546 365 557 354 593 307 605 297 632 281 636 275 634 269 629 266 623 267 587 298 545 329 533 336 527 334 509 302 503 298 497 298 491 300 485 305 482 311 482 317 489 347 494 365 509 401 473 439 443 476 437 473 443 431 443 395 432 341 425 332 419 330 413 331 408 335 394 353 391 359 381 449 371 489 351 545 353 563 351 569 336 587 329 598 317 610 311 613 293 615 275 623 261 635 252 653 245 701 245 731 250 791 247 839 243 857 233 873 221 881 209 885 179 886 179 659 199 641 229 623 281 603 317 597 323 593 331 581 343 569 347 563 346 545 349 533 365 493 377 455 386 365 390 353 404 335 413 329 425 330 431 335 434 341 446 395 446 431 442 455 443 468 449 464 471 437 505 401 489 359 482 329 480 311 485 302 497 296 509 299 514 305 527 330 533 333 541 329 558 317ZM1177 1025 1151 1047 1062 1139 1060 1145 1061 1169 1067 1211 1109 1217 1139 1217 1145 1214 1146 1211 1177 1181 1200 1163 1229 1148 1275 1133 1289 1121 1297 1103 1299 1085 1299 1037 1298 1031 1293 1025 1271 1020 1223 1019 1193 1020ZM940 1259 923 1267 905 1271 851 1268 833 1272 827 1278 821 1288 787 1355 782 1379 782 1409 795 1487 796 1529 786 1577 761 1637 755 1655 757 1667 761 1673 773 1681 791 1683 810 1679 839 1669 863 1656 947 1599 967 1577 979 1553 986 1529 991 1505 1001 1409 1023 1331 1024 1265 1022 1259 1019 1256 1013 1254 959 1254ZM929 632 935 631 941 634 947 640 968 677 973 689 975 701 973 719 964 743 953 760 941 770 935 770 929 767 917 757 879 719 871 707 869 701 869 695 876 683 911 647ZM1787 732 1853 731 1853 856 1769 856 1751 859 1739 871 1727 894 1716 929 1716 953 1721 970 1727 980 1757 1009 1777 1043 1788 1055 1799 1063 1817 1070 1853 1072 1853 1140 1757 1139 1723 1133 1715 1127 1712 1121 1707 1103 1705 1085 1706 1049 1700 1031 1699 1019 1699 953 1702 929 1739 799 1757 768 1769 752 1773 749 1775 745 1779 743 1781 738 1785 737Z"/>
<path fill="#d25849" stroke="#d25849" stroke-width="2" fill-rule="evenodd" d="M339 179 377 179 376 275 378 341 383 347 405 329 413 325 425 327 434 335 448 389 449 454 455 450 499 401 487 365 477 317 480 305 485 299 497 294 509 296 517 305 527 325 533 330 547 323 623 263 629 262 635 265 638 269 639 275 637 281 611 297 595 311 585 323 559 359 556 365 569 383 571 395 567 407 559 419 546 437 509 474 463 545 441 569 383 623 376 635 377 641 384 659 393 671 425 701 438 719 443 737 449 779 455 796 467 815 487 833 497 851 514 935 533 965 563 1001 576 1013 600 1025 621 1031 677 1041 719 1059 737 1070 768 1097 785 1106 791 1106 797 1104 803 1095 806 1085 816 1031 826 1007 839 992 881 960 891 947 897 935 899 911 897 857 889 827 873 797 847 767 791 712 785 708 779 707 773 709 767 715 756 731 749 747 743 767 741 779 746 803 755 825 769 851 770 863 752 899 737 941 731 952 719 965 709 971 701 972 695 972 683 965 671 953 641 914 605 890 589 875 580 857 564 815 550 791 547 779 553 767 563 755 671 647 695 626 707 621 719 619 845 618 863 611 874 599 881 588 890 569 893 557 891 545 886 539 869 531 851 528 815 530 785 535 779 534 771 527 762 509 757 491 755 473 759 461 765 455 803 426 834 395 847 377 884 317 888 305 890 293 886 239 886 179 912 179 914 287 910 311 899 335 882 359 827 419 790 455 785 467 787 479 797 493 814 503 833 508 897 521 913 527 947 546 959 546 1001 539 1019 540 1085 572 1103 577 1151 579 1175 575 1187 569 1229 540 1247 532 1259 530 1277 530 1313 536 1337 538 1367 537 1397 533 1408 527 1412 521 1425 479 1433 468 1445 463 1475 455 1487 449 1494 437 1505 398 1511 389 1517 386 1568 371 1582 365 1611 347 1613 343 1625 339 1703 339 1709 335 1715 335 1721 341 1715 347 1709 347 1709 413 1715 419 1715 425 1721 425 1727 431 1733 431 1745 443 1757 443 1763 449 1763 455 1769 461 1781 461 1787 467 1781 473 1799 491 1805 485 1811 491 1811 503 1817 503 1823 509 1823 521 1835 533 1835 539 1847 539 1853 545 1847 551 1853 551 1853 731 1787 732 1785 737 1781 738 1779 743 1775 745 1773 749 1769 752 1757 768 1739 799 1707 911 1700 941 1699 1019 1700 1031 1706 1055 1706 1097 1712 1121 1715 1127 1723 1133 1757 1139 1853 1140 1853 1307 1820 1301 1781 1298 1769 1290 1753 1277 1729 1265 1699 1259 1667 1258 1655 1260 1612 1277 1565 1289 1541 1298 1523 1308 1475 1341 1463 1351 1455 1361 1450 1379 1450 1403 1446 1439 1446 1589 1451 1606 1459 1619 1475 1639 1487 1660 1493 1676 1503 1715 1509 1727 1518 1733 1553 1743 1565 1748 1572 1757 1583 1794 1589 1806 1601 1814 1634 1823 1646 1829 1650 1835 1654 1847 1660 1889 1669 1907 1811 2049 1829 2058 1853 2059 1853 2086 1823 2084 1811 2078 1800 2069 1766 2033 1727 1997 1688 1955 1644 1913 1635 1901 1622 1877 1613 1865 1601 1856 1577 1843 1565 1833 1557 1823 1543 1799 1535 1787 1523 1777 1487 1755 1478 1745 1456 1709 1443 1697 1415 1681 1405 1673 1395 1661 1382 1637 1373 1625 1361 1616 1337 1601 1331 1595 1324 1583 1323 1571 1325 1559 1337 1523 1343 1511 1355 1500 1394 1493 1403 1487 1409 1470 1415 1421 1429 1373 1437 1355 1452 1331 1458 1313 1458 1277 1454 1271 1451 1269 1440 1265 1421 1263 1349 1261 1342 1259 1338 1253 1336 1247 1337 1187 1353 1133 1357 1103 1355 1085 1349 1061 1343 1044 1328 1019 1326 1013 1340 893 1343 878 1349 867 1361 861 1394 851 1403 843 1409 822 1412 797 1411 785 1408 779 1401 773 1382 761 1343 743 1325 739 1271 739 1247 736 1217 725 1181 705 1169 700 1115 700 1097 706 1089 713 1079 726 1071 743 1055 785 1047 797 1037 807 1019 816 1001 819 959 820 953 822 949 827 944 851 942 923 938 941 928 959 911 981 896 995 866 1019 857 1029 845 1055 827 1109 820 1121 809 1131 803 1132 791 1129 725 1080 671 1053 653 1047 595 1031 556 1013 534 995 488 935 483 923 466 863 436 785 430 743 425 725 414 707 375 665 365 649 363 641 364 635 369 629 401 601 446 557 465 533 506 473 546 431 563 407 567 395 565 383 551 365 593 310 611 295 635 281 638 275 635 267 629 264 623 265 558 317 541 329 533 333 527 330 514 305 509 299 497 296 485 302 480 311 482 329 489 359 505 401 471 437 449 464 443 468 442 455 446 431 446 395 434 341 431 335 425 330 419 328 407 332 390 353 387 359 377 455 365 493 349 533 346 545 347 563 343 569 331 581 323 593 317 597 281 603 229 623 199 641 179 659 179 407 191 408 208 413 227 416 257 418 269 409 311 364 327 335 337 305 339 281ZM1575 425 1559 433 1549 443 1522 479 1476 515 1466 527 1447 557 1439 565 1427 573 1415 577 1403 579 1343 578 1319 572 1277 556 1265 554 1253 554 1235 561 1217 575 1185 611 1180 623 1184 635 1206 665 1223 681 1241 693 1253 698 1265 700 1325 697 1343 700 1427 744 1441 755 1450 767 1452 773 1452 785 1442 815 1430 869 1421 887 1415 896 1394 917 1382 935 1375 959 1367 1007 1368 1025 1378 1097 1380 1175 1384 1187 1393 1199 1403 1208 1415 1214 1427 1215 1439 1213 1475 1198 1529 1161 1558 1133 1596 1079 1622 1025 1633 1013 1664 989 1674 977 1682 959 1707 857 1717 791 1717 779 1715 767 1707 749 1697 737 1685 729 1653 713 1643 705 1636 695 1633 677 1632 539 1622 473 1616 455 1604 437 1589 427ZM1008 587 999 593 989 605 986 611 984 623 990 641 1007 672 1019 686 1025 687 1037 680 1071 647 1082 635 1086 629 1087 623 1084 617 1078 611 1037 588 1019 584ZM925 635 876 683 869 695 869 701 871 707 879 719 917 757 929 767 935 770 941 770 953 760 964 743 973 719 975 701 973 689 968 677 947 640 941 634 935 631ZM1745 185 1751 191 1745 197 1739 191ZM1763 185 1769 191 1763 197 1757 191ZM1805 185 1811 191 1805 197 1799 191ZM1829 185 1835 191 1829 197 1823 191ZM1841 185 1847 185 1853 191 1847 197 1841 197 1835 191ZM1793 209 1799 215 1793 221 1787 215ZM1841 215 1847 221 1841 227 1835 221ZM1853 215 1853 233 1847 233 1841 227ZM1715 221 1763 221 1769 227 1757 239 1751 233 1715 233 1709 227ZM1811 221 1817 221 1829 233 1823 239 1817 239 1805 227ZM1835 227 1841 233 1835 239 1829 233ZM485 238 491 241 499 251 500 257 497 260 491 261 478 251 477 245 479 241ZM479 245 482 251 491 259 497 257 496 251 491 244 485 241ZM1853 233 1853 239 1853 245 1847 239ZM1781 251 1787 257 1781 263 1775 257ZM1805 251 1811 257 1805 263 1799 257ZM1829 251 1853 251 1853 263 1829 263 1823 257ZM1751 275 1757 281 1751 287 1745 281ZM1775 275 1781 281 1775 287 1769 281ZM1793 275 1799 281 1793 287 1787 281ZM1805 275 1811 281 1805 287 1799 281ZM1817 275 1823 281 1817 287 1811 281ZM1829 275 1835 275 1841 281 1835 287 1829 287 1823 281ZM1853 275 1853 281 1853 287 1847 281ZM1805 299 1811 305 1805 311 1799 305ZM1721 311 1727 317 1721 323 1715 317ZM1733 311 1739 317 1733 323 1727 317ZM1745 311 1751 317 1751 323 1745 329 1739 323 1739 317ZM1757 311 1763 317 1757 323 1751 317ZM1787 311 1793 317 1787 323 1781 317ZM1799 311 1805 317 1799 323 1793 317ZM1817 311 1823 311 1829 317 1823 323 1817 323 1811 317ZM1853 311 1853 317 1853 323 1847 317ZM1805 317 1811 323 1805 329 1799 323ZM1745 335 1751 341 1745 347 1739 341ZM1763 335 1769 341 1763 347 1757 341ZM1811 335 1817 341 1811 347 1805 341ZM1823 335 1829 335 1835 341 1829 347 1823 347 1817 341ZM1841 335 1847 341 1841 347 1835 341ZM1835 341 1841 347 1835 353 1829 347ZM1817 359 1823 365 1823 371 1817 377 1805 377 1799 371 1805 365 1811 365ZM1727 377 1733 383 1727 389 1721 383ZM1751 377 1757 383 1751 389 1745 383ZM1835 377 1841 383 1835 389 1829 383ZM1715 401 1721 401 1727 407 1721 413 1715 413 1709 407ZM1763 401 1769 407 1763 413 1757 407ZM1793 401 1799 401 1805 407 1799 413 1793 413 1787 407ZM1823 401 1829 407 1823 413 1817 407ZM1841 401 1853 401 1853 413 1841 413 1835 407ZM1727 407 1733 413 1727 419 1721 413ZM1727 419 1733 419 1739 425 1733 431 1727 431 1721 425ZM1745 419 1751 425 1751 431 1745 437 1739 431 1739 425ZM1829 419 1835 425 1835 431 1829 437 1823 431 1823 425ZM1775 425 1781 431 1775 437 1769 431ZM1787 425 1793 431 1787 437 1781 431ZM1769 437 1775 443 1769 449 1763 443ZM1793 461 1817 461 1823 467 1823 473 1817 479 1811 473 1799 473 1799 479 1793 485 1781 473ZM1847 467 1853 467 1853 479 1847 479 1841 473ZM1799 479 1805 485 1799 491 1793 485ZM1829 479 1835 485 1829 491 1823 485ZM1823 491 1829 497 1823 503 1817 497ZM1835 491 1841 491 1847 497 1841 503 1835 503 1829 497ZM1829 509 1841 521 1835 527 1829 527 1823 521 1823 515ZM1181 1023 1199 1019 1259 1019 1283 1022 1295 1027 1299 1037 1298 1091 1295 1109 1289 1121 1275 1133 1229 1148 1200 1163 1177 1181 1146 1211 1145 1214 1139 1217 1109 1217 1067 1211 1061 1169 1060 1145 1062 1139 1157 1041 1169 1030ZM941 1258 959 1254 1013 1254 1019 1256 1022 1259 1024 1265 1023 1331 1001 1409 991 1505 986 1529 979 1553 967 1577 947 1599 863 1656 839 1669 810 1679 791 1683 773 1681 761 1673 757 1667 755 1655 761 1637 786 1577 796 1529 795 1487 782 1409 782 1379 787 1355 821 1288 827 1278 833 1272 851 1268 905 1271 923 1267ZM844 1277 833 1281 827 1287 796 1343 789 1361 786 1373 787 1415 807 1493 810 1529 807 1571 802 1601 796 1613 779 1634 772 1649 772 1655 775 1661 785 1665 803 1661 833 1638 869 1625 935 1580 950 1565 962 1547 972 1523 978 1499 980 1415 990 1343 988 1331 983 1318 969 1301 959 1294 947 1289 905 1285 863 1277Z"/>
<path fill="#c94741" stroke="#c94741" stroke-width="2" fill-rule="evenodd" d="M377 179 406 179 400 269 402 293 406 311 409 317 419 320 434 329 441 341 449 366 455 376 461 381 467 381 473 377 476 371 478 353 475 311 477 305 485 296 497 292 509 294 516 299 530 323 533 326 539 325 552 317 623 261 629 260 635 262 640 269 641 275 639 281 612 299 598 311 587 323 567 353 563 365 575 383 578 389 577 401 572 413 553 437 522 467 509 484 497 509 494 533 491 540 481 551 455 567 429 587 403 611 394 623 392 629 392 641 396 653 403 665 413 676 445 701 467 731 473 735 479 734 505 719 539 703 557 691 581 671 599 651 629 610 693 545 707 528 716 509 726 467 733 455 748 443 779 430 791 422 814 401 829 383 859 329 867 305 868 287 862 239 862 179 886 179 886 239 890 293 888 305 884 317 847 377 834 395 803 426 765 455 759 461 755 473 757 491 762 509 771 527 779 534 785 535 815 530 851 528 869 531 886 539 891 545 893 557 890 569 881 588 874 599 863 611 845 618 719 619 707 621 695 626 671 647 563 755 553 767 547 779 550 791 564 815 580 857 589 875 605 890 641 914 671 953 683 965 695 972 701 972 709 971 719 965 731 952 737 941 752 899 770 863 769 851 755 825 746 803 741 779 743 767 749 747 756 731 767 715 773 709 779 707 785 708 791 712 847 767 873 797 889 827 897 857 899 911 897 935 891 947 881 960 839 992 826 1007 816 1031 805 1091 798 1103 791 1106 779 1104 768 1097 737 1070 713 1056 677 1041 621 1031 600 1025 576 1013 563 1001 533 965 514 935 497 851 487 833 467 815 455 796 449 779 443 737 438 719 425 701 393 671 384 659 377 641 376 635 383 623 441 569 463 545 509 474 546 437 559 419 567 407 571 395 569 383 556 365 559 359 585 323 595 311 611 297 637 281 639 275 638 269 635 265 629 262 623 263 547 323 533 330 527 325 517 305 509 296 497 294 485 299 480 305 477 317 487 365 499 401 455 450 449 454 448 389 434 335 425 327 413 325 405 329 383 347 378 341 376 275ZM611 947 599 949 595 953 593 965 594 1001 597 1007 603 1013 617 1019 635 1021 663 1019 674 1013 673 1007 668 1001 623 954ZM479 238 485 236 491 237 497 245 502 251 502 257 497 263 489 263 476 251 475 245ZM485 238 477 245 478 251 491 261 497 260 500 257 499 251 491 241ZM1577 425 1584 425 1595 430 1607 441 1616 455 1623 479 1632 539 1633 677 1636 695 1643 705 1653 713 1685 729 1697 737 1707 749 1715 767 1717 779 1717 791 1707 857 1682 959 1674 977 1664 989 1633 1013 1622 1025 1596 1079 1558 1133 1529 1161 1475 1198 1439 1213 1427 1215 1415 1214 1403 1208 1393 1199 1384 1187 1380 1175 1378 1097 1368 1025 1367 1007 1375 959 1382 935 1394 917 1415 896 1421 887 1430 869 1442 815 1452 785 1452 773 1450 767 1441 755 1427 744 1343 700 1325 697 1265 700 1253 698 1241 693 1223 681 1206 665 1184 635 1180 623 1185 611 1217 575 1235 561 1253 554 1265 554 1277 556 1319 572 1343 578 1403 579 1415 577 1427 573 1439 565 1447 557 1466 527 1476 515 1511 489 1523 478 1554 437 1565 429ZM1575 479 1565 485 1543 509 1509 539 1503 551 1496 599 1487 624 1469 648 1454 659 1457 665 1463 668 1475 678 1487 697 1493 721 1494 755 1493 767 1488 779 1469 808 1460 827 1440 893 1410 959 1400 989 1395 1013 1394 1037 1399 1097 1404 1127 1409 1146 1415 1159 1421 1164 1427 1166 1493 1139 1505 1133 1517 1123 1539 1097 1569 1043 1582 1025 1595 1013 1645 977 1658 965 1666 953 1671 941 1689 869 1696 803 1696 779 1691 767 1682 755 1667 743 1628 719 1616 707 1609 695 1606 677 1605 557 1604 533 1597 509 1589 488 1583 481ZM1248 581 1238 587 1227 599 1220 611 1218 623 1219 629 1226 641 1235 651 1247 659 1265 664 1283 659 1307 646 1326 629 1327 623 1325 617 1319 611 1284 587 1265 579ZM1013 585 1025 584 1049 594 1078 611 1084 617 1087 623 1086 629 1082 635 1071 647 1037 680 1025 687 1019 686 1007 672 990 641 984 623 986 611 993 599 1001 591ZM1661 1259 1685 1258 1721 1263 1743 1271 1761 1283 1775 1295 1781 1298 1820 1301 1853 1307 1853 1446 1829 1445 1811 1438 1800 1427 1781 1395 1769 1382 1757 1373 1730 1361 1715 1352 1705 1343 1685 1318 1673 1308 1661 1303 1643 1303 1589 1312 1571 1316 1493 1347 1481 1354 1474 1361 1470 1367 1469 1379 1475 1403 1472 1469 1475 1503 1484 1523 1511 1554 1521 1571 1525 1589 1527 1655 1532 1673 1539 1685 1553 1699 1583 1717 1595 1727 1617 1763 1627 1775 1637 1782 1661 1795 1673 1805 1679 1813 1683 1823 1685 1835 1686 1883 1689 1895 1696 1907 1721 1934 1757 1967 1790 2003 1811 2022 1829 2031 1853 2032 1853 2059 1829 2058 1811 2049 1674 1913 1665 1901 1660 1889 1654 1847 1649 1833 1637 1824 1601 1814 1589 1806 1583 1794 1575 1763 1568 1751 1559 1745 1518 1733 1509 1727 1503 1715 1493 1676 1487 1660 1475 1639 1459 1619 1447 1595 1446 1577 1446 1433 1450 1403 1450 1379 1455 1361 1463 1351 1475 1341 1535 1301 1559 1291 1613 1277ZM845 1277 863 1277 905 1285 947 1289 959 1294 969 1301 983 1318 988 1331 990 1343 980 1415 978 1499 972 1523 962 1547 950 1565 935 1580 869 1625 833 1638 803 1661 785 1665 775 1661 772 1655 772 1649 779 1634 796 1613 802 1601 807 1571 810 1529 807 1493 787 1415 786 1373 789 1361 796 1343 827 1287 833 1281ZM835 1289 827 1297 821 1306 797 1349 791 1373 791 1397 797 1431 823 1505 833 1577 839 1589 845 1595 857 1600 863 1599 875 1594 935 1551 947 1538 958 1517 962 1505 965 1487 960 1415 964 1349 962 1337 954 1325 947 1317 935 1310 869 1287 851 1285Z"/>
<path fill="#c13639" stroke="#c13639" stroke-width="2" fill-rule="evenodd" d="M406 179 432 179 430 209 420 257 421 287 424 299 430 311 449 334 455 338 461 340 467 337 470 311 473 305 479 297 491 290 503 289 515 293 520 299 533 321 539 321 563 305 617 261 623 258 629 258 635 259 639 263 643 269 643 275 641 281 635 287 611 302 595 317 574 347 571 359 575 365 606 389 614 401 620 419 623 449 625 455 635 459 653 459 683 457 695 451 712 437 725 430 779 416 797 403 816 383 827 365 842 335 851 305 851 293 844 245 843 179 862 179 862 239 868 287 867 305 859 329 829 383 814 401 791 422 779 430 748 443 733 455 726 467 716 509 707 528 693 545 629 610 599 651 581 671 557 691 539 703 505 719 479 734 473 735 467 731 445 701 413 676 403 665 396 653 392 641 392 629 394 623 403 611 429 587 455 567 481 551 491 540 494 533 497 509 509 484 522 467 553 437 572 413 577 401 578 389 575 383 563 365 567 353 587 323 598 311 612 299 639 281 641 275 640 269 635 262 629 260 623 261 552 317 539 325 533 326 530 323 516 299 509 294 497 292 485 296 477 305 475 311 478 353 476 371 473 377 467 381 461 381 455 376 449 366 441 341 434 329 419 320 409 317 404 305 401 287 401 263ZM571 515 569 515 528 557 512 569 497 576 455 588 437 598 422 611 413 623 410 641 413 653 423 665 455 685 467 688 473 687 533 663 545 656 557 646 574 623 579 605 579 515 575 510ZM479 234 491 234 505 251 505 257 502 263 497 266 491 267 485 264 473 251 472 245 474 239ZM478 239 475 245 476 251 491 264 498 263 502 257 502 251 493 239 485 236ZM1577 478 1583 481 1589 488 1597 509 1604 533 1605 557 1606 677 1609 695 1616 707 1628 719 1667 743 1682 755 1691 767 1696 779 1696 803 1689 869 1671 941 1666 953 1658 965 1645 977 1595 1013 1582 1025 1569 1043 1539 1097 1517 1123 1505 1133 1493 1139 1427 1166 1421 1164 1415 1159 1409 1146 1404 1127 1399 1097 1394 1037 1395 1013 1400 989 1410 959 1440 893 1460 827 1469 808 1488 779 1493 767 1494 755 1493 721 1487 697 1475 678 1463 668 1457 665 1454 659 1469 648 1487 624 1496 599 1503 551 1509 539 1543 509 1565 485 1571 480ZM1564 707 1553 717 1542 731 1518 779 1484 821 1469 851 1446 941 1438 983 1426 1025 1427 1049 1432 1079 1439 1089 1445 1092 1481 1094 1493 1092 1499 1088 1511 1073 1535 1031 1544 1019 1559 1007 1601 983 1637 957 1652 941 1660 923 1672 875 1675 851 1678 797 1675 779 1667 768 1661 762 1617 737 1583 708 1577 705 1571 704ZM1253 579 1265 579 1272 581 1311 605 1325 617 1327 623 1326 629 1321 635 1305 647 1277 661 1259 663 1241 655 1231 647 1222 635 1218 623 1218 617 1223 605 1232 593 1241 585ZM599 949 611 947 623 954 668 1001 673 1007 674 1013 663 1019 635 1021 617 1019 603 1013 597 1007 594 1001 593 965 595 953ZM839 1287 851 1285 869 1287 935 1310 947 1317 954 1325 962 1337 964 1349 960 1415 965 1487 962 1505 958 1517 947 1538 935 1551 875 1594 863 1599 857 1600 845 1595 839 1589 833 1577 823 1505 796 1427 791 1391 792 1367 800 1343 827 1297ZM840 1295 833 1299 827 1306 810 1331 803 1344 796 1367 796 1397 803 1428 815 1455 838 1499 854 1547 857 1553 863 1558 869 1558 896 1541 929 1526 941 1515 947 1505 949 1487 941 1421 941 1355 936 1337 929 1329 916 1319 887 1303 869 1296 851 1293ZM1589 1312 1655 1302 1673 1308 1685 1318 1705 1343 1715 1352 1730 1361 1757 1373 1773 1385 1782 1397 1799 1426 1811 1438 1829 1445 1853 1446 1853 1472 1823 1471 1805 1466 1793 1459 1781 1448 1761 1415 1751 1403 1739 1395 1709 1383 1691 1375 1661 1350 1649 1344 1589 1341 1523 1350 1499 1358 1490 1367 1488 1373 1492 1385 1506 1403 1508 1409 1504 1439 1505 1481 1507 1493 1514 1505 1535 1532 1543 1547 1549 1565 1552 1589 1553 1649 1559 1665 1571 1678 1601 1696 1613 1705 1621 1715 1638 1745 1649 1757 1685 1779 1697 1790 1706 1805 1710 1817 1712 1835 1713 1883 1718 1901 1733 1918 1763 1937 1775 1947 1796 1979 1811 1995 1829 2004 1853 2006 1853 2032 1829 2031 1811 2022 1790 2003 1757 1967 1721 1934 1696 1907 1687 1889 1685 1829 1678 1811 1666 1799 1627 1775 1617 1763 1595 1727 1583 1717 1550 1697 1535 1679 1529 1667 1527 1655 1525 1595 1523 1577 1514 1559 1487 1527 1475 1505 1472 1475 1475 1403 1469 1379 1470 1367 1474 1361 1481 1354 1493 1347 1571 1316Z"/>
<path fill="#ba2832" stroke="#ba2832" stroke-width="2" fill-rule="evenodd" d="M432 179 478 179 449 231 439 257 438 275 440 287 445 299 455 309 461 309 470 299 485 288 503 284 509 285 521 291 533 311 539 314 545 313 558 305 617 257 623 253 635 255 641 260 646 269 643 281 635 289 610 305 593 322 582 341 580 347 582 353 593 360 623 373 707 398 731 403 761 405 779 402 797 389 811 371 831 329 836 311 837 299 828 245 827 179 843 179 844 245 851 299 847 323 836 347 820 377 803 397 785 412 773 418 725 430 712 437 695 451 683 457 665 459 629 458 625 455 623 451 620 419 614 401 606 389 575 365 571 359 574 347 595 317 611 302 635 287 641 281 643 275 641 266 635 259 629 258 623 258 617 261 563 305 539 321 533 321 520 299 515 293 503 289 491 290 479 297 473 305 470 311 467 337 461 340 455 338 449 334 430 311 424 299 420 281 420 257 430 209ZM479 229 491 228 507 245 509 257 507 263 503 267 497 270 491 270 485 268 469 251 469 239ZM474 239 472 245 473 251 485 264 491 267 497 266 502 263 505 257 505 251 491 234 479 234ZM575 510 579 515 579 605 574 623 557 646 545 656 533 663 473 687 467 688 455 685 423 665 413 653 410 641 413 623 422 611 437 598 455 588 497 576 515 567 534 551ZM458 617 452 623 448 635 450 641 455 647 461 649 467 648 479 641 492 629 495 623 490 617 479 614 467 614ZM1565 707 1571 704 1577 705 1583 708 1617 737 1661 762 1667 768 1675 779 1678 797 1675 851 1672 875 1660 923 1652 941 1637 957 1601 983 1559 1007 1544 1019 1535 1031 1511 1073 1499 1088 1493 1092 1481 1094 1443 1091 1435 1085 1432 1079 1427 1049 1426 1025 1438 983 1446 941 1469 851 1484 821 1518 779 1542 731 1553 717ZM1573 749 1560 761 1535 797 1499 832 1490 845 1484 857 1480 875 1473 947 1475 965 1481 987 1487 1000 1493 1005 1499 1007 1505 1004 1535 985 1583 967 1607 951 1619 941 1629 929 1637 913 1649 882 1654 863 1656 845 1654 803 1649 785 1634 773 1589 749 1583 747ZM845 1294 857 1293 869 1296 887 1303 916 1319 929 1329 936 1337 941 1355 941 1421 949 1487 947 1505 941 1515 929 1526 896 1541 869 1558 863 1558 857 1553 851 1541 838 1499 815 1455 803 1428 796 1391 797 1361 806 1337 827 1306 833 1299ZM835 1307 827 1314 815 1330 803 1357 801 1367 801 1385 809 1421 833 1464 857 1496 863 1501 875 1504 898 1499 912 1493 918 1487 920 1481 922 1403 921 1367 919 1349 913 1337 908 1331 893 1319 875 1308 863 1304 851 1302ZM1577 1342 1595 1341 1637 1343 1655 1346 1691 1375 1709 1383 1739 1395 1751 1403 1761 1415 1781 1448 1798 1463 1811 1469 1823 1471 1853 1472 1853 2006 1829 2004 1811 1995 1799 1983 1781 1955 1771 1943 1739 1922 1723 1907 1716 1895 1713 1883 1712 1835 1710 1817 1706 1805 1699 1793 1685 1779 1649 1757 1638 1745 1621 1715 1613 1705 1601 1696 1571 1678 1565 1673 1557 1661 1553 1643 1552 1589 1549 1565 1543 1547 1535 1532 1514 1505 1507 1493 1505 1481 1504 1439 1508 1409 1506 1403 1492 1385 1488 1373 1490 1367 1495 1361 1505 1355 1523 1350ZM1631 1469 1631 1523 1649 1523 1655 1517 1673 1517 1679 1511 1691 1511 1691 1469Z"/>
<path fill="#b1182b" stroke="#b1182b" stroke-width="2" fill-rule="evenodd" d="M479 179 726 179 724 215 721 227 714 239 707 246 695 251 653 255 651 257 650 269 646 281 641 287 614 305 602 317 593 329 590 341 593 346 599 349 629 361 701 374 749 387 767 390 779 387 792 377 809 349 820 323 823 299 812 245 811 179 827 179 828 245 837 299 835 317 826 341 811 371 797 389 785 399 767 405 743 404 713 400 629 375 605 366 587 357 582 353 580 347 587 332 598 317 611 304 635 289 643 281 645 275 643 263 635 255 629 253 623 253 617 257 558 305 545 313 539 314 533 311 521 291 509 285 503 284 485 288 470 299 461 309 455 309 445 299 440 287 438 275 439 257 449 231ZM479 229 469 239 468 245 469 251 474 257 485 268 491 270 497 270 503 267 507 263 509 251 507 245 497 233 491 228 485 228ZM462 269 463 275 467 281 478 281 482 275 467 263ZM575 275 564 281 557 287 563 289 569 287 576 281ZM556 293 557 293 557 289ZM461 615 467 614 479 614 490 617 495 623 492 629 479 641 467 648 461 649 455 647 450 641 448 635 452 623ZM1577 747 1583 747 1595 752 1634 773 1649 785 1654 803 1656 845 1654 863 1649 882 1637 913 1629 929 1619 941 1607 951 1583 967 1535 985 1505 1004 1499 1007 1493 1005 1487 1000 1481 987 1475 965 1473 947 1480 875 1484 857 1490 845 1499 832 1535 797 1565 755ZM1581 797 1571 805 1547 832 1517 856 1511 864 1508 881 1510 911 1513 923 1519 929 1529 931 1559 933 1577 928 1589 916 1607 883 1613 869 1615 857 1613 839 1606 821 1596 803 1589 797ZM839 1305 857 1303 869 1306 881 1312 908 1331 913 1337 919 1349 921 1367 922 1403 920 1481 918 1487 912 1493 887 1502 869 1503 863 1501 851 1489 821 1445 809 1421 805 1409 801 1379 803 1355 815 1330 827 1314ZM847 1313 833 1318 821 1331 815 1340 808 1361 808 1385 815 1411 827 1434 851 1464 863 1472 869 1472 877 1469 887 1460 893 1451 901 1433 904 1409 903 1361 898 1343 882 1325 863 1314ZM1631 1469 1691 1469 1691 1511 1679 1511 1673 1517 1655 1517 1649 1523 1631 1523Z"/>
<path fill="#9f1228" stroke="#9f1228" stroke-width="2" fill-rule="evenodd" d="M726 179 752 179 750 227 747 239 739 251 731 258 713 266 695 269 659 271 645 287 612 311 600 329 601 335 617 344 647 353 719 361 767 371 779 368 785 363 797 345 804 329 808 317 808 299 799 263 795 239 794 179 811 179 812 245 822 293 823 311 815 337 792 377 779 387 773 389 761 389 701 374 629 361 611 355 593 346 590 341 593 328 602 317 614 305 641 287 646 281 650 269 651 257 653 255 695 251 707 246 714 239 721 227 724 215ZM467 263 482 275 479 280 473 282 466 281 463 275 462 269ZM575 275 576 281 569 287 563 289 557 287ZM557 289 557 293 557 293 556 293ZM1583 796 1589 797 1600 809 1613 839 1615 857 1613 869 1607 883 1589 916 1577 928 1559 933 1529 931 1519 929 1513 923 1510 911 1508 881 1511 864 1517 856 1547 832 1577 799ZM851 1313 869 1317 889 1331 898 1343 903 1361 904 1409 901 1433 893 1451 887 1460 877 1469 869 1472 863 1472 851 1464 827 1434 815 1411 807 1379 809 1355 821 1331 833 1318 839 1315ZM833 1331 822 1343 817 1355 816 1373 820 1391 833 1418 845 1434 857 1444 863 1446 869 1444 879 1433 886 1415 887 1373 883 1349 876 1337 863 1328 845 1326Z"/>
<path fill="#900d26" stroke="#900d26" stroke-width="2" fill-rule="evenodd" d="M752 179 794 179 796 245 807 293 809 311 802 335 785 363 779 368 767 371 719 361 659 355 623 347 609 341 601 335 600 329 612 311 645 287 659 271 695 269 713 266 731 258 739 251 747 239 750 227ZM773 269 749 276 731 280 659 285 626 305 615 317 614 323 618 329 629 335 645 341 665 345 689 347 761 347 773 345 779 341 788 329 792 317 792 305 785 281 779 272ZM839 1328 857 1326 869 1331 880 1343 885 1355 888 1391 885 1421 875 1439 869 1444 863 1446 857 1444 851 1440 839 1427 827 1407 817 1379 816 1361 821 1345 827 1337ZM841 1361 839 1367 841 1373 857 1392 862 1379 858 1361 851 1357 845 1358Z"/>
<path fill="#7f0823" stroke="#7f0823" stroke-width="2" fill-rule="evenodd" d="M773 269 779 272 785 281 791 297 792 311 790 323 785 334 779 341 773 345 761 347 689 347 665 345 645 341 629 335 618 329 614 323 615 317 626 305 659 285 731 280ZM665 299 648 305 641 311 640 317 645 323 665 331 695 333 723 329 738 323 744 317 744 311 736 305 719 300 689 297ZM845 1358 851 1357 857 1360 860 1367 862 1379 857 1392 845 1379 839 1367 841 1361Z"/>
<path fill="#6d0220" stroke="#6d0220" stroke-width="2" fill-rule="evenodd" d="M665 299 689 297 719 300 736 305 744 311 744 317 738 323 723 329 695 333 665 331 645 323 640 317 641 311 648 305Z"/>
</g>
<path d="M556.0 244.0 L559.3 265.0 L574.3 270.0 L576.8 287.3 L569.3 304.8 L554.3 309.8 L544.3 297.3 L541.9 279.8 L554.3 267.3 L553.0 244.0Z" fill="#fefefe" stroke="#000" stroke-width="2" stroke-linejoin="round"/>
<path d="M1207.5 1631.0 L1230.0 1628.0 L1252.0 1640.0 L1250.0 1661.0 L1221.4 1682.0 L1207.5 1677.7 L1212.0 1654.5Z" fill="#fefefe" stroke="#000" stroke-width="2" stroke-linejoin="round"/>
<path d="M893.0 248.0 L914.0 247.0 L917.0 262.0 L914.0 275.0 L886.0 275.0 L888.0 262.0Z" fill="#df6f58"/>
<path d="M918.0 236.0 L928.0 234.0 L929.0 240.0 L918.0 241.0Z" fill="#df6f58"/>
<rect x="608" y="190" width="7" height="8" fill="#b2182b"/>
<rect x="639" y="201" width="10" height="6" fill="#b2182b"/>
<rect x="663" y="203" width="7" height="7" fill="#b2182b"/>
<rect x="768" y="244" width="6" height="4" fill="#b2182b"/>
<rect x="770" y="223" width="6" height="5" fill="#b2182b"/>
<path d="M908.6 2348.3 L922.5 2331.6 L936.4 2329.7 L955.0 2327.9 L971.7 2332.5 L962.4 2341.8 L950.4 2350.1 L936.4 2355.7 L925.3 2361.3 L913.2 2355.7Z" fill="#b6d6e9" stroke="#000" stroke-width="2.4" stroke-linejoin="round"/>
<path d="M973.6 2339.0 L981.0 2329.7 L996.8 2329.7 L1013.5 2332.5 L1020.0 2339.0 L1019.0 2344.6 L1003.3 2348.3 L992.1 2352.0 L979.1 2360.4 L968.9 2365.0 L955.0 2365.0 L959.6 2353.9 L971.7 2343.6Z" fill="#bcd9ea" stroke="#000" stroke-width="2.4" stroke-linejoin="round"/>
<circle cx="905.0" cy="2320.0" r="2.0" fill="#000"/>
<circle cx="917.0" cy="2323.0" r="2.5" fill="#000"/>
<circle cx="931.0" cy="2324.0" r="2.0" fill="#000"/>
<circle cx="939.0" cy="2325.0" r="2.0" fill="#000"/>
<circle cx="904.0" cy="2343.0" r="2.5" fill="#000"/>
<circle cx="918.0" cy="2338.0" r="2.0" fill="#000"/>
<circle cx="1006.0" cy="2354.0" r="2.0" fill="#000"/>
<circle cx="976.0" cy="2366.0" r="2.0" fill="#000"/>
<circle cx="960.0" cy="2340.0" r="2.0" fill="#000"/>
<ellipse cx="1551.5" cy="2407.5" rx="5" ry="3.2" fill="none" stroke="#000" stroke-width="2.5" transform="rotate(15 1551.5 2407.5)"/>
<path d="M427.2 2170.9 L423.3 2174.6 L419.4 2173.0 L415.3 2167.9 L424.7 2164.3ZM419.2 2258.8 L419.4 2262.8 L415.4 2262.5 L415.9 2259.0 L414.8 2255.9 L418.9 2255.5ZM471.3 2160.7 L470.1 2166.7 L465.2 2167.9 L458.7 2162.7 L465.4 2158.1 L470.7 2156.0ZM452.7 2180.9 L445.1 2183.2 L434.1 2183.8 L438.1 2176.2 L444.2 2172.7ZM446.8 2100.7 L441.2 2103.9 L437.4 2104.0 L428.5 2099.6 L437.2 2094.5 L440.4 2095.4ZM498.2 2063.1 L498.7 2068.0 L494.5 2067.8 L491.2 2067.1 L492.4 2061.4 L494.7 2061.9 L496.1 2062.0ZM457.3 2115.3 L453.7 2116.9 L450.1 2117.2 L451.9 2113.4 L454.5 2111.4ZM431.5 2165.9 L429.9 2171.8 L420.6 2174.1 L420.0 2169.9 L417.3 2162.1 L422.5 2161.3 L428.9 2160.5ZM476.8 2328.9 L474.5 2330.8 L473.0 2330.9 L469.0 2327.5 L471.8 2323.3 L474.5 2325.6ZM448.9 2126.8 L445.5 2132.4 L434.8 2129.9 L435.3 2123.9 L444.4 2119.9ZM479.8 2197.6 L479.8 2202.5 L471.3 2201.6 L471.9 2197.8 L474.1 2189.5 L479.6 2193.0ZM485.6 2126.0 L484.4 2128.2 L481.7 2127.9 L480.0 2126.1 L482.6 2123.6 L484.1 2124.8ZM434.8 2120.7 L435.4 2127.6 L424.6 2129.3 L426.8 2123.6 L427.1 2117.7 L432.3 2119.2ZM497.0 2390.8 L495.5 2394.8 L492.0 2393.5 L490.2 2391.8 L491.2 2390.2 L492.4 2388.8 L495.9 2387.8ZM464.8 2304.2 L464.0 2306.2 L460.0 2305.3 L459.4 2303.5 L460.1 2300.4 L462.5 2300.8ZM457.4 2171.1 L452.3 2176.1 L447.8 2174.1 L446.9 2167.8 L454.8 2168.7ZM452.8 2233.7 L453.5 2238.5 L447.0 2237.6 L444.4 2238.6 L442.8 2233.5 L447.3 2232.3 L449.4 2232.5ZM456.0 2077.2 L455.2 2080.0 L452.2 2079.4 L447.7 2079.6 L448.7 2076.0 L452.3 2072.5 L456.8 2073.6ZM442.4 2133.0 L442.3 2134.9 L439.8 2135.6 L435.2 2132.2 L439.0 2130.9 L441.6 2130.9ZM489.8 2147.9 L483.8 2152.7 L479.9 2156.9 L477.8 2151.4 L476.8 2148.1 L478.7 2144.0 L487.2 2143.7ZM470.7 2284.9 L466.9 2288.3 L460.9 2291.7 L456.9 2289.6 L453.8 2281.5 L459.8 2280.1 L464.5 2275.4 L464.7 2280.6ZM482.4 2276.8 L478.6 2280.1 L476.0 2281.9 L474.6 2280.1 L474.6 2276.1 L473.7 2273.4 L477.8 2270.5 L480.3 2273.3ZM468.1 2321.1 L463.4 2327.1 L456.1 2324.2 L458.4 2319.1 L464.5 2316.4ZM490.5 2322.9 L492.2 2326.0 L485.6 2325.1 L482.0 2321.6 L479.0 2319.6 L483.3 2314.7 L490.1 2317.0ZM472.2 2366.0 L469.8 2367.7 L468.1 2367.0 L466.6 2364.0 L469.7 2363.6ZM429.2 2145.7 L427.9 2148.6 L422.1 2150.3 L422.7 2143.9 L427.7 2140.0ZM473.3 2336.7 L473.1 2343.5 L465.6 2340.2 L462.0 2337.6 L460.8 2329.2 L470.5 2328.5ZM444.1 2248.6 L441.3 2252.4 L437.9 2252.0 L437.4 2249.9 L437.7 2247.0 L440.8 2247.6ZM463.8 2189.9 L462.9 2192.5 L460.9 2194.7 L459.7 2191.8 L456.1 2188.2 L461.9 2188.0 L465.3 2186.8ZM416.7 2260.6 L418.8 2262.2 L412.8 2264.8 L410.6 2262.2 L410.1 2261.2 L412.2 2255.3 L413.5 2256.1 L415.9 2257.7ZM456.2 2238.8 L454.2 2241.9 L451.0 2241.0 L450.9 2238.2 L452.5 2235.7 L455.8 2234.6ZM454.7 2136.4 L453.8 2140.1 L450.8 2141.9 L447.1 2139.3 L447.2 2138.0 L446.5 2133.7 L450.6 2134.1 L454.6 2133.6ZM435.7 2193.3 L433.0 2201.3 L428.0 2198.5 L420.6 2195.3 L425.2 2188.3 L435.8 2185.9ZM443.5 2097.6 L443.5 2098.5 L440.5 2099.8 L438.4 2099.0 L437.4 2097.5 L437.8 2095.7 L441.0 2095.2 L442.5 2093.6ZM481.9 2313.5 L481.6 2318.4 L477.7 2319.1 L474.5 2315.6 L475.5 2312.3 L476.7 2309.0 L481.3 2310.8ZM428.2 2230.5 L422.5 2233.3 L417.3 2233.2 L415.1 2230.5 L412.2 2227.5 L419.5 2219.2 L420.3 2224.7ZM468.7 2228.5 L466.6 2233.3 L459.6 2234.1 L459.6 2230.0 L460.6 2225.9 L464.6 2225.8ZM436.8 2124.0 L434.6 2128.9 L430.1 2128.2 L431.2 2123.4 L430.4 2121.9 L435.6 2119.6ZM467.5 2353.5 L464.2 2357.5 L460.7 2356.7 L461.7 2352.6 L463.7 2350.1ZM431.7 2165.0 L431.2 2171.5 L429.2 2173.7 L423.1 2170.6 L421.6 2166.9 L418.9 2160.4 L427.3 2161.2 L430.7 2162.9ZM471.4 2204.0 L473.5 2208.2 L469.5 2209.2 L466.9 2205.5 L465.5 2201.3 L467.5 2198.4 L471.4 2201.3ZM490.0 2390.9 L488.4 2394.4 L486.1 2394.8 L485.0 2393.8 L484.6 2391.2 L482.2 2389.6 L485.4 2388.0 L488.4 2389.7ZM448.7 2193.1 L448.3 2197.1 L444.0 2196.6 L437.7 2195.5 L435.3 2187.3 L443.0 2188.3 L448.9 2185.4ZM422.0 2284.0 L422.4 2285.7 L419.9 2287.6 L417.0 2284.6 L416.7 2281.3 L420.0 2281.1 L421.4 2282.2ZM437.9 2318.8 L435.4 2323.6 L431.1 2322.4 L426.7 2321.0 L427.3 2315.2 L432.2 2311.4 L437.5 2308.6ZM460.4 2213.1 L453.3 2219.4 L449.6 2216.8 L447.7 2212.3 L455.3 2209.8ZM482.5 2166.6 L481.2 2170.8 L475.4 2169.8 L473.4 2167.1 L470.8 2162.7 L474.9 2159.1 L479.5 2159.8ZM436.2 2113.8 L435.9 2118.8 L429.3 2116.9 L425.7 2112.3 L430.1 2107.9 L433.9 2110.2ZM458.4 2067.6 L455.2 2070.8 L450.0 2070.8 L451.7 2067.4 L454.1 2064.1ZM425.8 2301.3 L423.2 2308.1 L423.0 2312.1 L417.2 2306.0 L411.3 2302.6 L416.2 2295.0 L421.8 2294.5 L425.0 2299.7ZM447.6 2345.6 L448.3 2349.4 L442.2 2349.9 L442.5 2347.7 L440.8 2345.4 L444.4 2342.0 L446.1 2343.5ZM451.1 2070.8 L453.9 2075.8 L445.9 2076.7 L442.2 2070.9 L447.0 2064.0 L455.7 2065.5ZM453.9 2097.5 L451.2 2099.6 L446.9 2097.7 L447.3 2094.7 L449.6 2093.7ZM493.1 2078.1 L494.5 2081.0 L489.1 2084.8 L484.7 2084.1 L485.2 2075.5 L478.3 2071.5 L486.2 2069.6 L492.6 2073.4ZM468.4 2177.7 L466.5 2180.3 L463.5 2182.7 L461.3 2177.3 L462.4 2175.1 L465.9 2173.1ZM450.9 2129.4 L448.1 2136.3 L439.2 2136.3 L437.1 2130.6 L440.9 2122.3 L447.9 2122.3ZM470.6 2102.9 L466.7 2110.2 L457.2 2108.6 L456.2 2103.4 L455.4 2095.2 L465.7 2095.3ZM445.5 2111.2 L444.4 2113.2 L442.4 2115.1 L437.9 2112.7 L439.3 2110.1 L440.3 2106.6 L445.2 2107.8ZM438.6 2203.9 L434.7 2208.7 L427.8 2210.0 L427.3 2202.8 L428.6 2197.3 L435.6 2196.4ZM468.7 2283.3 L472.2 2285.6 L467.2 2286.4 L464.0 2285.0 L461.4 2284.1 L462.2 2279.1 L467.3 2279.3 L471.4 2279.8ZM436.2 2275.6 L433.0 2280.6 L427.3 2280.6 L429.0 2274.7 L433.0 2273.4ZM484.1 2324.6 L482.6 2327.6 L474.3 2329.3 L469.2 2327.9 L470.0 2324.2 L469.9 2318.8 L476.4 2318.4 L480.3 2321.1ZM451.4 2169.4 L445.0 2172.5 L439.9 2171.6 L441.9 2164.2 L444.8 2161.1ZM432.2 2144.4 L430.4 2147.3 L425.5 2148.2 L424.0 2146.1 L427.2 2142.5 L429.3 2143.0ZM427.5 2287.9 L427.2 2289.7 L425.4 2291.4 L423.3 2289.2 L421.6 2288.3 L423.9 2285.9 L426.0 2286.2 L426.9 2287.0ZM482.7 2292.1 L480.2 2296.2 L473.5 2295.7 L472.8 2289.6 L477.7 2288.1ZM470.7 2248.1 L471.8 2252.4 L466.8 2251.8 L464.4 2251.8 L464.4 2247.9 L465.9 2244.8 L467.1 2246.0 L471.6 2246.1ZM490.3 2328.8 L485.2 2332.2 L481.0 2334.3 L479.0 2328.9 L481.6 2322.1 L488.0 2323.0ZM445.2 2146.3 L442.1 2152.0 L437.9 2153.0 L437.4 2149.1 L434.1 2145.0 L439.6 2144.4 L442.1 2145.4ZM482.5 2364.9 L480.3 2369.8 L475.3 2369.0 L476.4 2362.1 L481.3 2359.6ZM432.1 2307.9 L427.8 2314.0 L428.1 2314.3 L422.9 2312.3 L418.6 2309.6 L421.1 2305.6 L425.6 2301.5 L430.5 2305.2ZM448.2 2275.6 L445.6 2275.9 L441.9 2279.8 L436.5 2278.3 L438.9 2273.9 L440.1 2270.6 L443.0 2268.1 L443.8 2272.0ZM460.7 2203.1 L454.7 2208.4 L446.9 2206.7 L448.8 2199.6 L456.8 2197.9ZM485.1 2306.0 L484.8 2310.0 L479.4 2307.2 L479.7 2303.3 L485.0 2300.9ZM459.8 2221.0 L458.0 2224.8 L453.7 2224.1 L452.1 2222.1 L455.2 2220.1 L457.0 2219.2ZM457.1 2092.3 L453.5 2094.8 L449.6 2099.6 L442.8 2095.3 L447.2 2092.3 L443.8 2086.7 L452.4 2082.9 L458.3 2085.9ZM461.2 2091.7 L458.7 2093.1 L455.7 2091.5 L453.6 2089.1 L459.0 2086.5ZM475.1 2326.3 L473.1 2333.2 L470.0 2334.4 L468.3 2331.0 L467.0 2327.4 L466.9 2323.7 L470.7 2323.0 L475.6 2325.1ZM494.6 2355.9 L493.4 2355.7 L491.0 2357.2 L488.6 2356.8 L486.8 2355.3 L489.2 2353.1 L490.5 2352.7 L492.8 2351.5ZM468.7 2098.0 L466.2 2100.6 L463.5 2100.8 L454.8 2097.7 L463.9 2093.9 L467.2 2094.8ZM481.8 2159.8 L479.5 2161.8 L478.8 2162.2 L476.0 2161.8 L476.7 2159.3 L478.6 2156.3 L479.7 2158.5ZM460.2 2287.4 L459.3 2290.9 L456.0 2290.6 L455.4 2288.6 L454.1 2285.5 L456.3 2285.3 L458.8 2285.7ZM417.8 2263.2 L422.1 2266.2 L413.8 2268.9 L412.4 2264.5 L411.9 2261.6 L413.3 2259.3 L413.9 2256.7 L419.6 2258.0ZM507.9 2064.7 L504.0 2072.4 L498.9 2073.3 L496.0 2070.5 L497.1 2065.3 L497.2 2060.5 L504.5 2060.6ZM492.3 2116.8 L489.5 2120.8 L484.5 2122.6 L475.9 2121.6 L478.2 2114.1 L480.7 2111.3 L484.7 2109.5 L486.1 2113.1ZM452.5 2123.2 L449.6 2127.2 L446.6 2125.4 L446.0 2120.8 L451.4 2120.1ZM451.3 2072.0 L448.7 2075.4 L444.0 2074.5 L444.9 2070.7 L447.8 2070.0ZM446.6 2160.5 L444.6 2163.8 L441.0 2163.6 L439.5 2159.0 L442.0 2157.5 L444.6 2155.9ZM476.4 2194.5 L474.6 2197.3 L473.2 2198.2 L470.2 2195.1 L472.9 2192.0 L476.9 2190.7ZM478.0 2378.2 L472.0 2383.3 L465.3 2383.2 L460.5 2376.4 L466.5 2371.8 L473.7 2372.6ZM492.3 2388.5 L491.3 2390.8 L487.4 2391.6 L483.6 2389.3 L484.3 2384.5 L486.7 2383.7 L490.0 2383.6ZM466.8 2374.3 L462.8 2376.8 L457.2 2378.6 L452.3 2371.7 L458.2 2366.8 L465.0 2367.4ZM477.4 2178.1 L476.5 2185.0 L468.5 2183.5 L465.2 2178.7 L469.9 2172.8 L476.8 2171.7ZM437.1 2236.2 L427.1 2238.1 L423.1 2241.2 L417.4 2239.0 L413.9 2230.8 L420.4 2228.5 L426.9 2227.3ZM474.6 2162.5 L471.7 2169.1 L463.7 2165.4 L464.5 2162.0 L469.1 2159.8ZM475.6 2238.2 L470.5 2241.5 L463.7 2242.6 L467.0 2234.8 L469.7 2234.5ZM465.4 2194.8 L464.1 2198.2 L461.2 2196.0 L461.0 2192.2 L465.1 2192.8ZM437.4 2302.8 L435.8 2306.3 L433.2 2308.0 L431.0 2308.4 L428.6 2303.8 L432.0 2300.6 L433.9 2300.7 L435.9 2302.3ZM435.4 2142.3 L432.6 2144.7 L429.2 2145.7 L428.5 2142.6 L429.4 2138.3 L433.8 2139.6ZM500.3 2395.4 L499.1 2400.9 L492.1 2398.8 L491.0 2397.2 L492.4 2391.4 L495.5 2390.8ZM495.7 2369.3 L495.8 2376.3 L486.9 2378.4 L485.9 2368.8 L488.8 2367.6 L494.6 2366.1ZM464.6 2283.7 L466.7 2286.8 L461.3 2286.4 L460.2 2286.5 L459.5 2284.3 L459.2 2281.9 L461.7 2279.6 L464.1 2280.9ZM505.3 2062.4 L502.0 2068.0 L496.8 2065.9 L489.5 2064.8 L488.2 2055.2 L494.3 2054.2 L500.9 2056.7ZM467.1 2231.1 L467.9 2237.9 L461.2 2236.1 L456.8 2235.0 L454.7 2232.7 L455.6 2225.4 L460.7 2226.5 L465.4 2224.4ZM466.5 2223.5 L466.0 2225.8 L463.6 2227.0 L460.6 2226.7 L458.8 2224.9 L461.6 2222.8 L462.8 2221.7 L464.5 2223.0ZM478.2 2165.0 L478.4 2166.0 L475.6 2167.2 L473.8 2166.7 L473.6 2165.1 L474.1 2163.6 L476.4 2161.3 L477.6 2163.3ZM440.8 2106.6 L437.5 2115.5 L429.1 2113.5 L429.4 2107.6 L431.9 2102.5 L438.3 2099.7ZM484.2 2075.9 L479.1 2076.9 L476.4 2077.8 L472.5 2078.6 L473.4 2074.9 L473.3 2070.2 L478.5 2066.7 L480.3 2070.5ZM447.9 2233.3 L445.2 2238.0 L442.8 2239.8 L440.6 2238.2 L438.9 2235.2 L440.2 2232.8 L442.2 2229.8 L447.0 2231.2ZM447.4 2202.6 L444.3 2206.2 L438.7 2206.6 L434.9 2203.7 L438.0 2197.8 L442.4 2199.0ZM428.5 2246.8 L425.3 2251.0 L420.3 2254.2 L413.4 2247.8 L417.4 2241.8 L420.7 2239.5 L431.1 2241.8ZM450.4 2236.4 L450.3 2239.1 L445.1 2238.5 L438.2 2234.1 L442.3 2232.1 L447.9 2227.0ZM485.9 2099.6 L483.4 2103.7 L480.3 2104.2 L478.6 2099.8 L475.9 2098.1 L478.4 2093.7 L482.9 2096.2ZM469.4 2345.0 L470.5 2348.6 L464.1 2347.0 L463.0 2342.9 L468.1 2342.0ZM494.9 2398.7 L493.2 2403.8 L488.9 2400.3 L486.6 2394.6 L492.8 2393.8ZM478.2 2364.6 L477.1 2367.2 L474.5 2366.4 L471.5 2364.5 L474.4 2361.0 L476.5 2362.4ZM452.8 2182.3 L452.5 2188.1 L446.3 2186.4 L440.5 2182.2 L448.0 2175.2 L453.6 2176.2ZM445.6 2275.4 L442.0 2281.6 L436.3 2282.5 L435.6 2279.4 L434.0 2275.5 L434.0 2270.1 L437.4 2269.8 L444.6 2271.9ZM456.7 2084.2 L452.9 2093.2 L445.0 2091.6 L440.7 2086.9 L448.3 2077.5 L451.6 2080.6ZM464.2 2362.5 L457.0 2366.8 L453.1 2365.3 L449.8 2361.3 L458.0 2357.2ZM465.9 2171.6 L463.1 2177.2 L459.8 2178.3 L453.6 2177.1 L455.1 2172.5 L455.5 2167.7 L461.0 2167.0 L464.9 2166.2ZM440.1 2182.1 L437.6 2184.9 L433.3 2185.8 L430.4 2180.7 L432.5 2178.2 L436.8 2179.2ZM474.3 2282.5 L467.4 2285.6 L464.6 2287.9 L459.1 2282.5 L464.0 2277.4 L468.4 2279.5ZM475.5 2210.9 L474.2 2212.1 L473.4 2214.7 L470.7 2211.2 L469.0 2208.4 L472.6 2205.5 L474.3 2206.2ZM438.7 2179.7 L436.2 2183.2 L431.6 2183.9 L430.4 2181.4 L429.5 2177.8 L433.0 2175.4 L436.8 2175.8ZM471.3 2358.8 L461.8 2362.9 L458.2 2364.1 L456.8 2367.0 L454.7 2361.9 L451.7 2354.8 L461.0 2351.5 L465.1 2353.9ZM475.8 2073.4 L473.9 2074.9 L471.6 2077.9 L471.6 2075.4 L467.6 2072.6 L468.5 2069.4 L471.3 2067.9 L474.7 2071.5ZM423.3 2298.8 L420.4 2302.4 L418.4 2302.2 L416.0 2297.4 L421.7 2296.4ZM445.4 2244.5 L441.8 2245.6 L438.8 2247.3 L435.9 2245.6 L437.9 2244.5 L438.1 2241.2 L440.5 2240.5 L442.5 2241.0ZM452.2 2279.3 L450.1 2283.4 L446.5 2284.8 L443.5 2283.8 L442.8 2280.9 L444.0 2276.5 L446.6 2275.9 L449.8 2275.2ZM455.4 2238.6 L457.7 2245.0 L445.6 2245.5 L441.8 2238.9 L446.2 2231.6 L453.3 2231.3ZM462.0 2164.2 L461.5 2166.6 L457.7 2167.4 L455.3 2164.1 L455.7 2161.6 L456.7 2159.0 L459.5 2158.7ZM433.4 2170.3 L432.8 2178.2 L419.2 2174.2 L424.5 2167.9 L432.8 2164.9ZM443.1 2148.6 L439.0 2153.0 L434.1 2151.4 L429.3 2147.8 L434.8 2139.3 L439.8 2141.7ZM462.4 2345.3 L458.3 2351.1 L454.7 2347.4 L451.6 2341.7 L457.7 2341.6ZM437.4 2338.0 L435.9 2340.7 L433.4 2340.2 L430.5 2336.8 L433.4 2336.0 L436.0 2333.8ZM444.0 2149.3 L443.7 2151.1 L438.7 2153.8 L438.3 2150.6 L436.9 2147.8 L439.6 2145.8 L442.9 2144.6ZM464.0 2079.2 L463.1 2080.3 L461.4 2084.6 L456.8 2082.1 L455.1 2078.1 L455.9 2075.4 L460.6 2072.2 L463.7 2073.6ZM476.3 2135.2 L473.1 2141.0 L469.8 2139.1 L461.4 2136.4 L466.6 2130.0 L473.0 2131.9ZM473.9 2212.8 L471.0 2216.7 L464.0 2218.8 L462.6 2212.7 L458.3 2209.2 L465.5 2207.2 L469.1 2206.3ZM458.1 2179.2 L455.4 2184.3 L450.2 2182.4 L453.0 2178.2 L455.4 2174.9ZM485.9 2137.9 L483.2 2138.9 L480.8 2138.6 L480.3 2135.8 L482.9 2134.4ZM468.6 2246.6 L469.5 2251.9 L464.2 2251.1 L460.6 2250.5 L461.4 2248.3 L462.9 2243.6 L464.3 2243.3 L468.0 2242.9ZM460.2 2143.5 L459.4 2144.9 L456.7 2146.1 L455.5 2146.2 L455.5 2141.9 L457.4 2140.5 L459.1 2142.2ZM439.7 2236.7 L436.8 2243.2 L431.8 2238.1 L429.3 2234.1 L435.9 2230.3ZM463.0 2319.0 L462.7 2319.8 L459.4 2320.5 L458.5 2319.7 L453.8 2316.5 L460.0 2314.7 L464.3 2315.0ZM433.4 2277.0 L432.9 2279.4 L427.4 2282.9 L419.0 2278.3 L421.5 2272.3 L427.8 2271.0 L433.7 2271.4ZM495.6 2384.4 L485.9 2396.1 L476.3 2390.9 L474.5 2380.5 L485.1 2378.4ZM468.0 2272.9 L467.0 2276.2 L464.2 2278.3 L463.6 2274.9 L460.5 2272.3 L462.7 2270.5 L464.3 2267.6 L466.2 2270.9ZM451.3 2296.9 L448.3 2302.5 L444.2 2302.1 L438.9 2296.9 L442.6 2293.5 L450.3 2291.2ZM443.1 2343.2 L442.3 2348.1 L432.8 2346.1 L437.4 2338.2 L442.1 2338.7ZM443.0 2234.5 L441.2 2237.8 L436.5 2238.3 L435.0 2235.3 L434.8 2232.7 L437.7 2229.7 L439.6 2233.2ZM503.3 2104.8 L495.1 2111.6 L489.4 2112.0 L489.4 2105.9 L490.4 2102.7 L499.4 2100.8ZM474.8 2183.5 L475.0 2184.8 L471.1 2187.4 L469.0 2184.6 L462.4 2182.9 L466.4 2180.5 L469.7 2179.0 L472.0 2179.6ZM480.0 2192.2 L477.9 2193.4 L475.0 2194.2 L471.2 2190.6 L472.9 2188.5 L478.6 2186.7ZM466.2 2100.9 L464.6 2102.3 L462.3 2104.0 L461.9 2101.6 L459.9 2099.3 L463.0 2098.0 L465.5 2099.3ZM470.0 2193.9 L469.0 2198.4 L464.1 2198.2 L463.7 2194.1 L464.4 2190.3 L470.1 2189.2ZM447.8 2350.0 L443.3 2354.3 L439.3 2351.9 L438.1 2349.5 L437.8 2347.2 L442.2 2347.4ZM485.4 2091.2 L480.1 2098.3 L475.9 2094.7 L472.6 2089.3 L482.4 2087.8ZM454.4 2099.2 L453.5 2103.4 L446.4 2102.9 L445.6 2100.0 L443.2 2096.0 L449.0 2094.0 L454.1 2091.1ZM476.6 2287.3 L474.9 2288.3 L472.6 2289.9 L471.7 2287.8 L471.7 2285.8 L473.1 2283.8 L474.5 2283.8ZM466.6 2151.5 L457.9 2156.5 L455.3 2154.0 L450.3 2152.4 L450.9 2148.7 L455.8 2145.2 L458.8 2145.5ZM459.6 2334.1 L456.7 2335.4 L452.0 2336.3 L454.4 2331.2 L456.9 2330.9ZM459.5 2379.5 L457.5 2382.0 L457.2 2383.3 L452.8 2383.1 L452.5 2380.0 L451.4 2374.8 L455.7 2374.6 L458.7 2375.7ZM453.2 2129.8 L452.3 2136.6 L445.7 2132.7 L446.4 2126.4 L451.9 2121.7ZM468.2 2141.8 L470.7 2146.2 L463.2 2145.0 L459.6 2144.3 L457.7 2141.1 L461.2 2139.5 L463.4 2133.3 L467.3 2139.3ZM442.3 2255.6 L441.3 2259.4 L439.8 2258.5 L437.8 2259.5 L438.1 2256.1 L437.7 2254.0 L440.4 2253.6 L441.1 2255.0ZM446.3 2158.0 L443.4 2160.4 L441.8 2161.2 L440.1 2158.2 L439.6 2156.7 L443.4 2157.6ZM465.3 2163.2 L467.3 2165.3 L463.4 2166.0 L459.5 2164.3 L459.5 2160.6 L464.0 2159.0 L466.9 2159.9ZM453.9 2357.8 L449.8 2362.3 L449.0 2363.8 L441.5 2363.2 L440.0 2357.2 L445.0 2354.9 L447.0 2351.0 L452.0 2356.1ZM448.0 2140.3 L446.0 2143.6 L443.3 2142.7 L440.8 2140.9 L442.4 2137.9 L445.9 2139.8ZM477.3 2157.6 L476.1 2160.1 L473.9 2159.6 L472.8 2159.6 L472.4 2155.9 L474.6 2154.6 L475.5 2156.2ZM486.7 2086.2 L486.8 2093.5 L480.7 2091.0 L480.4 2084.8 L486.7 2081.9ZM499.8 2090.7 L497.6 2097.4 L495.0 2094.6 L492.3 2091.5 L494.1 2087.9 L496.9 2089.5ZM459.6 2189.0 L457.8 2197.4 L454.2 2193.6 L452.5 2189.5 L452.2 2183.7 L458.9 2183.9ZM489.8 2071.4 L484.9 2072.8 L483.0 2076.5 L479.3 2075.3 L476.1 2070.0 L473.6 2063.5 L482.5 2065.7 L485.8 2064.8ZM422.6 2175.9 L417.9 2180.9 L414.5 2180.2 L412.8 2180.7 L410.2 2176.1 L412.7 2170.9 L415.5 2170.7 L418.1 2172.2ZM494.7 2395.0 L489.5 2398.5 L484.8 2396.8 L486.4 2393.4 L489.9 2392.1ZM481.4 2349.9 L478.3 2358.0 L470.4 2356.7 L472.1 2352.1 L472.2 2348.6 L476.6 2348.3ZM485.6 2350.4 L485.1 2356.6 L477.4 2357.8 L473.9 2350.4 L477.0 2346.4 L482.4 2347.5ZM452.6 2146.7 L451.1 2151.0 L449.6 2153.4 L448.2 2151.3 L444.9 2147.4 L445.6 2142.4 L451.3 2143.4 L452.8 2145.1ZM439.5 2095.8 L439.8 2097.6 L435.8 2099.9 L433.7 2097.3 L434.3 2093.5 L436.6 2091.6 L439.7 2092.2ZM494.0 2385.6 L493.3 2389.0 L489.3 2387.8 L484.6 2387.1 L482.8 2383.6 L488.1 2381.2 L493.2 2381.5ZM459.3 2365.6 L457.1 2372.6 L453.8 2372.4 L447.3 2368.6 L448.6 2363.8 L451.7 2358.8 L460.1 2361.3ZM453.7 2326.3 L451.6 2329.3 L449.1 2328.0 L445.7 2326.4 L447.9 2323.4 L448.0 2322.7 L450.5 2323.8ZM478.7 2118.2 L475.2 2120.1 L474.0 2120.8 L472.7 2119.5 L473.5 2115.8 L475.7 2117.4ZM450.3 2083.1 L446.4 2086.4 L440.8 2085.6 L434.7 2080.8 L435.2 2074.3 L444.3 2073.8ZM478.3 2301.3 L473.0 2304.0 L467.4 2308.5 L463.6 2299.7 L468.3 2297.2 L471.4 2294.2ZM451.9 2303.6 L449.8 2306.1 L445.3 2307.5 L445.0 2302.9 L447.0 2300.7 L449.4 2302.1ZM430.6 2234.5 L430.1 2241.1 L421.2 2240.6 L422.6 2235.8 L423.4 2229.7 L428.9 2228.9ZM472.7 2303.1 L471.4 2304.9 L467.3 2305.2 L465.7 2304.5 L465.2 2301.9 L465.9 2298.0 L468.3 2299.0 L470.9 2299.0ZM489.7 2368.6 L483.9 2373.2 L477.6 2372.0 L479.1 2365.5 L483.2 2362.2ZM447.4 2305.1 L445.6 2308.9 L443.3 2309.7 L441.9 2304.3 L441.3 2302.0 L445.7 2300.3ZM479.3 2119.0 L480.6 2121.7 L477.1 2121.2 L474.9 2117.8 L476.2 2113.1 L479.5 2115.5ZM450.5 2381.8 L447.1 2384.7 L444.2 2386.1 L442.2 2380.7 L444.5 2374.2 L448.8 2377.4ZM491.3 2325.0 L478.7 2330.5 L468.4 2327.7 L475.6 2320.8 L481.6 2314.8ZM457.3 2184.9 L453.6 2192.7 L447.2 2189.3 L449.5 2181.2 L454.8 2181.2ZM470.8 2259.6 L469.9 2262.0 L464.7 2265.4 L462.5 2263.2 L464.4 2259.6 L465.1 2256.3 L466.6 2253.5 L469.6 2256.5ZM483.2 2184.2 L476.2 2188.7 L470.3 2188.4 L468.1 2184.7 L470.9 2176.1 L477.2 2181.1ZM467.5 2246.3 L467.7 2255.6 L461.5 2252.5 L460.2 2250.7 L460.5 2245.8 L462.6 2239.9 L465.6 2240.7ZM479.4 2323.9 L477.7 2327.7 L470.9 2327.0 L464.9 2322.0 L472.0 2317.7 L479.2 2319.9ZM427.4 2209.9 L425.8 2212.7 L424.6 2212.7 L422.6 2212.9 L422.9 2210.9 L422.3 2209.1 L423.9 2207.7 L427.8 2209.1ZM435.7 2220.3 L433.2 2223.3 L428.4 2224.1 L425.9 2219.0 L430.7 2214.8 L435.4 2216.1ZM472.3 2300.5 L470.3 2307.0 L460.6 2308.6 L456.0 2304.4 L454.1 2300.3 L460.1 2297.3 L470.8 2297.5ZM443.3 2209.4 L437.1 2214.9 L430.8 2213.5 L432.4 2207.7 L437.8 2203.1ZM443.9 2155.4 L443.7 2159.9 L438.1 2158.5 L427.9 2155.9 L436.6 2150.3 L444.3 2148.1ZM440.1 2344.5 L436.0 2346.7 L434.1 2348.3 L430.8 2349.3 L430.9 2344.8 L429.5 2340.3 L432.3 2338.4 L436.8 2341.1ZM489.0 2067.3 L486.3 2072.5 L482.1 2071.9 L477.4 2067.0 L482.6 2060.9 L490.2 2059.6ZM478.9 2371.3 L478.9 2374.9 L473.7 2374.0 L474.1 2370.7 L475.2 2368.5 L478.1 2367.2ZM462.1 2366.0 L452.2 2372.9 L446.3 2369.1 L440.9 2366.3 L446.3 2356.2 L455.1 2357.8ZM463.7 2319.3 L466.2 2322.2 L458.6 2325.5 L455.4 2321.4 L453.5 2319.1 L456.2 2315.9 L460.1 2313.4 L465.5 2313.6ZM465.0 2295.2 L462.4 2298.5 L458.6 2297.9 L456.6 2297.5 L457.2 2293.7 L459.6 2293.1 L462.5 2290.8ZM476.5 2072.3 L472.8 2074.7 L468.3 2074.5 L466.6 2069.9 L472.2 2065.9ZM463.9 2372.7 L460.0 2377.6 L454.8 2379.9 L448.3 2373.2 L443.3 2366.5 L454.8 2365.1 L457.8 2365.3ZM466.8 2106.7 L464.9 2110.6 L463.5 2111.2 L459.3 2107.5 L459.7 2104.8 L463.2 2102.3 L467.0 2103.8ZM490.6 2326.3 L487.2 2330.4 L483.4 2329.6 L480.6 2331.3 L479.2 2326.4 L480.1 2321.5 L484.8 2317.5 L491.1 2321.2ZM450.0 2060.0 L451.4 2065.3 L446.1 2063.2 L443.7 2064.2 L443.2 2058.1 L445.8 2056.7 L449.0 2056.1ZM495.7 2342.4 L492.9 2343.4 L491.4 2345.5 L490.3 2343.7 L489.7 2340.5 L491.3 2340.3 L493.3 2340.9ZM422.6 2252.9 L424.2 2255.5 L421.5 2259.2 L418.3 2257.1 L415.9 2253.4 L416.7 2247.8 L420.7 2246.0 L421.9 2250.1ZM422.9 2173.3 L422.0 2177.4 L418.6 2180.7 L412.3 2178.3 L408.6 2172.8 L412.9 2166.8 L418.0 2169.1 L422.1 2167.8ZM434.0 2197.7 L432.9 2199.1 L430.7 2199.9 L428.3 2198.0 L428.6 2196.0 L430.5 2194.1 L432.9 2194.1ZM452.5 2372.3 L450.1 2376.4 L447.7 2379.5 L445.2 2377.0 L442.9 2373.8 L443.2 2367.8 L446.7 2366.6 L451.2 2367.1ZM486.5 2117.1 L486.8 2121.0 L482.8 2124.1 L480.0 2119.8 L480.8 2117.3 L483.3 2114.9 L488.0 2113.5ZM478.1 2249.7 L476.9 2253.2 L469.5 2253.7 L471.2 2250.7 L472.8 2247.4 L475.4 2245.0ZM450.9 2187.6 L448.1 2189.9 L443.4 2194.8 L441.3 2191.1 L435.8 2188.1 L441.2 2182.4 L444.0 2182.1 L448.1 2183.8ZM461.6 2209.7 L465.2 2214.2 L455.8 2214.9 L447.1 2212.4 L450.0 2203.1 L454.7 2203.0 L458.9 2204.2ZM498.6 2374.4 L496.6 2377.1 L493.1 2376.4 L493.6 2373.3 L494.4 2370.3 L497.6 2368.9ZM460.6 2291.2 L460.5 2294.6 L454.7 2293.5 L456.0 2289.2 L458.6 2286.8ZM437.1 2217.2 L438.7 2219.3 L435.0 2220.6 L431.0 2219.6 L429.4 2217.0 L432.5 2214.5 L434.8 2211.3 L439.7 2213.4ZM500.5 2116.9 L495.4 2121.7 L491.6 2119.7 L485.9 2119.7 L484.5 2114.9 L487.8 2110.3 L491.6 2106.6 L499.3 2107.0ZM440.0 2251.3 L435.1 2253.9 L432.3 2254.8 L429.3 2251.2 L428.6 2246.9 L431.1 2245.2 L436.7 2246.9ZM437.3 2337.7 L433.8 2339.7 L430.9 2342.1 L429.0 2338.2 L428.5 2336.0 L431.6 2334.1 L434.0 2334.8ZM458.5 2291.4 L457.7 2296.1 L451.3 2294.2 L448.7 2289.8 L449.7 2284.9 L454.1 2283.9ZM503.5 2367.8 L500.9 2371.0 L498.6 2369.6 L498.5 2368.1 L499.1 2366.3 L500.8 2365.9ZM505.6 2368.5 L498.1 2370.1 L495.9 2378.2 L487.1 2373.7 L487.5 2368.4 L487.2 2359.9 L493.2 2361.8 L497.8 2364.1ZM450.7 2075.4 L450.7 2080.3 L445.5 2079.6 L438.8 2078.3 L441.3 2074.1 L444.5 2069.4 L450.1 2072.3ZM474.6 2254.5 L472.8 2256.6 L471.5 2259.0 L466.9 2255.2 L468.3 2252.8 L469.0 2249.4 L474.4 2250.7ZM481.4 2288.4 L479.6 2292.5 L476.1 2290.6 L476.3 2287.1 L478.6 2285.0ZM507.1 2091.4 L502.9 2097.6 L499.2 2101.9 L493.2 2099.0 L493.4 2093.8 L495.2 2089.8 L499.2 2089.1 L501.4 2091.4ZM456.0 2088.2 L456.2 2089.9 L453.9 2092.2 L451.9 2091.6 L452.3 2088.6 L451.9 2087.0 L453.9 2085.5 L456.4 2086.1ZM473.6 2313.4 L465.8 2317.8 L466.0 2321.8 L460.9 2317.0 L457.4 2313.5 L460.5 2312.3 L463.3 2310.3 L469.3 2311.6ZM455.0 2377.6 L454.1 2381.9 L449.5 2381.3 L449.6 2374.6 L454.1 2374.6ZM501.2 2083.5 L499.2 2086.2 L497.4 2085.8 L495.4 2085.5 L495.0 2082.5 L497.1 2080.6 L500.4 2081.3ZM480.7 2149.7 L481.8 2151.5 L478.2 2151.8 L477.5 2150.8 L475.9 2148.6 L477.1 2147.6 L478.1 2146.6 L479.8 2146.6ZM424.6 2221.3 L421.1 2222.9 L417.8 2223.1 L415.5 2221.5 L419.4 2217.6 L420.8 2219.0ZM457.2 2205.8 L456.5 2207.5 L453.0 2209.4 L451.5 2207.8 L450.3 2204.4 L453.2 2202.6 L457.2 2203.3ZM436.5 2262.6 L436.2 2267.3 L429.4 2268.3 L427.6 2265.3 L426.6 2263.2 L427.8 2260.9 L428.8 2258.9 L431.8 2261.6ZM482.4 2386.9 L479.1 2390.2 L475.1 2390.7 L471.8 2388.2 L472.1 2385.9 L473.9 2382.1 L479.9 2381.6ZM445.5 2217.4 L444.0 2220.5 L439.8 2219.6 L435.4 2215.6 L437.4 2210.3 L442.1 2211.4ZM444.7 2208.4 L444.0 2209.5 L442.5 2210.5 L441.4 2210.2 L440.7 2208.8 L440.5 2205.4 L442.7 2205.3 L443.6 2206.8ZM472.9 2363.4 L469.4 2368.8 L463.6 2368.2 L462.4 2364.9 L464.6 2361.6 L471.5 2360.9ZM499.7 2378.6 L494.4 2381.5 L492.0 2384.2 L490.5 2381.7 L488.1 2379.5 L490.1 2376.6 L493.4 2375.7 L494.8 2376.1ZM456.8 2313.5 L454.5 2314.7 L451.5 2315.7 L448.5 2313.1 L452.0 2310.7 L453.5 2310.9ZM479.7 2344.8 L477.3 2350.0 L470.5 2350.4 L471.1 2340.4 L479.3 2336.0ZM483.2 2096.9 L481.7 2105.9 L470.5 2104.3 L467.1 2102.3 L467.7 2096.4 L473.5 2092.0 L477.2 2091.9ZM461.5 2216.8 L459.5 2222.8 L453.1 2221.6 L450.1 2218.4 L452.1 2209.3 L457.2 2212.0ZM461.5 2241.2 L457.1 2243.1 L453.0 2244.6 L447.7 2239.6 L452.2 2237.4 L457.4 2237.6ZM454.7 2194.6 L450.7 2202.6 L442.0 2198.7 L443.9 2190.0 L451.0 2185.5ZM476.4 2163.6 L475.2 2167.4 L471.8 2168.0 L469.2 2166.2 L470.4 2162.6 L471.6 2161.7 L474.7 2162.1ZM463.3 2297.5 L464.2 2299.8 L460.9 2299.1 L458.9 2299.2 L459.0 2296.3 L461.3 2295.0 L464.2 2294.1ZM606.2 2442.1 L605.4 2444.5 L602.0 2443.6 L601.2 2442.2 L601.6 2439.8 L605.4 2439.7ZM486.1 2380.5 L487.0 2381.4 L485.2 2382.3 L482.7 2381.7 L483.1 2379.6 L482.1 2378.0 L484.8 2378.1 L485.9 2378.3ZM760.6 2478.4 L758.8 2481.4 L755.3 2485.0 L750.7 2481.9 L752.8 2476.8 L752.4 2472.1 L756.5 2474.3 L759.2 2475.8ZM580.5 2453.6 L582.1 2455.6 L577.8 2459.9 L575.5 2456.6 L572.5 2451.9 L575.3 2450.7 L577.6 2448.7 L579.3 2450.8ZM513.5 2402.4 L509.1 2408.0 L505.8 2409.0 L498.9 2403.9 L505.5 2400.8 L509.0 2400.2ZM621.4 2444.9 L618.5 2448.2 L612.0 2451.3 L610.0 2449.1 L613.5 2443.7 L614.8 2441.6 L619.3 2442.1ZM661.5 2456.1 L661.1 2457.2 L659.1 2457.6 L656.6 2457.6 L657.6 2455.9 L658.7 2454.6 L659.3 2453.1 L661.0 2453.5ZM707.6 2462.4 L705.5 2464.8 L702.4 2464.9 L702.6 2462.3 L701.6 2460.4 L704.9 2461.5ZM759.3 2454.8 L758.3 2455.5 L757.1 2456.7 L754.8 2455.6 L754.8 2454.2 L756.0 2451.3 L756.9 2452.2 L758.6 2451.9ZM732.9 2457.1 L732.2 2459.1 L730.9 2460.5 L728.4 2458.7 L728.6 2457.2 L730.2 2456.1 L731.9 2456.5ZM685.3 2452.7 L684.3 2457.1 L681.3 2456.7 L678.6 2453.5 L681.1 2450.9 L683.2 2451.7ZM632.6 2453.0 L631.3 2458.0 L625.4 2456.9 L625.8 2450.2 L630.5 2448.1ZM627.0 2478.5 L624.7 2481.0 L620.1 2483.1 L616.7 2480.3 L615.2 2479.3 L617.6 2473.8 L620.5 2472.7 L623.7 2475.4ZM682.8 2460.8 L679.2 2466.1 L672.9 2461.8 L676.5 2456.3 L680.1 2455.8ZM503.4 2419.4 L501.7 2423.5 L497.4 2425.8 L493.2 2419.2 L496.7 2415.2 L502.3 2416.5ZM714.0 2453.1 L711.9 2455.3 L709.6 2458.2 L705.0 2455.2 L707.2 2451.4 L707.1 2449.8 L709.3 2449.3 L714.9 2447.7ZM699.4 2470.5 L697.0 2473.1 L694.6 2474.0 L693.7 2470.9 L694.8 2468.7 L697.6 2468.9ZM684.8 2447.4 L682.2 2450.0 L678.4 2449.5 L678.5 2445.8 L681.5 2445.7ZM694.9 2459.0 L693.5 2464.5 L691.4 2461.2 L690.6 2455.5 L694.0 2454.9ZM614.4 2454.9 L611.1 2458.1 L610.1 2459.2 L606.7 2456.5 L606.5 2453.1 L608.6 2452.7 L612.4 2452.1ZM499.8 2390.3 L497.6 2394.2 L494.2 2393.2 L492.4 2393.0 L490.9 2390.3 L494.6 2388.3 L497.2 2388.9ZM784.1 2457.4 L781.0 2461.3 L776.6 2462.8 L773.6 2458.9 L769.0 2455.3 L777.2 2453.1 L782.1 2453.6ZM760.0 2459.6 L758.8 2462.6 L756.8 2461.1 L754.5 2459.7 L755.2 2457.3 L757.5 2457.2 L759.0 2456.7ZM787.8 2476.9 L781.5 2478.8 L775.6 2479.7 L777.3 2473.0 L783.4 2471.0ZM474.8 2398.1 L471.4 2401.9 L466.1 2399.8 L468.6 2396.5 L471.3 2396.1ZM486.8 2387.4 L486.2 2392.7 L483.7 2392.3 L481.3 2389.5 L478.9 2387.7 L480.5 2384.6 L482.8 2384.9 L484.4 2386.3ZM520.6 2407.4 L516.6 2412.7 L512.3 2411.0 L512.8 2405.5 L516.4 2403.3ZM722.3 2465.7 L719.3 2468.3 L715.8 2467.8 L712.3 2466.4 L711.8 2464.3 L711.1 2459.8 L714.8 2461.2 L718.0 2461.9ZM509.0 2417.9 L506.5 2423.3 L501.7 2420.0 L503.1 2415.4 L506.8 2413.2ZM559.3 2422.7 L557.6 2425.9 L555.6 2425.6 L554.5 2425.4 L551.6 2423.4 L555.1 2422.2 L555.3 2420.2 L557.5 2421.3ZM632.7 2478.6 L630.9 2480.1 L628.8 2483.0 L627.5 2481.0 L625.3 2476.6 L626.0 2473.6 L630.1 2470.0 L631.4 2473.3ZM614.4 2471.1 L614.5 2474.2 L611.1 2473.4 L609.6 2467.4 L613.7 2468.0ZM572.0 2460.6 L571.6 2463.2 L562.1 2465.0 L566.7 2460.6 L567.1 2457.0 L572.2 2453.8ZM656.1 2459.6 L655.9 2463.0 L649.4 2465.7 L646.1 2458.4 L649.0 2456.6 L653.6 2457.4ZM576.4 2441.8 L572.3 2445.7 L568.5 2441.4 L567.7 2437.0 L572.3 2436.9ZM457.5 2363.4 L456.9 2365.4 L455.0 2366.5 L451.9 2363.5 L454.0 2361.3 L455.8 2359.7 L457.9 2360.5ZM673.4 2448.7 L670.7 2455.4 L666.4 2450.9 L662.8 2445.9 L673.7 2444.6ZM615.8 2468.0 L612.3 2470.9 L609.9 2471.0 L609.6 2468.5 L609.9 2465.4 L612.5 2466.2ZM681.8 2469.7 L680.6 2473.0 L676.9 2470.6 L677.3 2467.2 L680.8 2462.9ZM561.0 2438.4 L561.6 2440.4 L559.9 2441.2 L557.9 2440.3 L557.2 2438.0 L556.7 2435.9 L558.5 2434.9 L560.6 2437.3ZM656.5 2478.9 L656.2 2481.6 L652.4 2483.1 L650.4 2480.7 L650.6 2478.1 L651.9 2476.9 L655.9 2476.7ZM459.7 2357.1 L457.5 2359.2 L455.7 2359.4 L454.2 2360.2 L451.4 2357.0 L454.4 2355.4 L455.7 2356.4 L457.1 2357.0ZM785.0 2478.3 L778.5 2481.3 L776.8 2482.6 L773.2 2477.8 L774.0 2473.0 L775.5 2472.2 L783.2 2472.5ZM460.2 2370.4 L457.3 2370.6 L455.7 2373.0 L455.1 2372.5 L454.3 2369.9 L453.5 2367.7 L456.6 2366.2 L458.4 2368.0ZM706.5 2453.7 L705.0 2456.8 L702.6 2456.8 L699.8 2456.7 L699.4 2452.1 L701.4 2451.4 L704.7 2450.0ZM490.8 2378.8 L487.6 2382.5 L484.4 2384.6 L482.8 2382.7 L479.2 2381.2 L483.9 2377.4 L485.1 2377.4 L489.1 2377.2ZM650.9 2470.8 L647.6 2472.8 L643.3 2474.9 L643.0 2472.3 L640.5 2468.4 L645.3 2465.3 L646.9 2467.2ZM505.9 2406.3 L506.9 2408.6 L503.5 2408.3 L501.6 2409.3 L501.0 2406.6 L500.7 2402.9 L503.7 2403.5 L506.5 2404.5ZM494.9 2396.6 L494.8 2398.1 L493.3 2399.3 L491.8 2399.6 L490.9 2396.7 L490.9 2394.0 L493.5 2395.0 L495.0 2395.0ZM564.1 2445.5 L563.9 2450.4 L556.7 2450.7 L556.3 2441.4 L563.1 2440.7ZM638.6 2477.6 L634.5 2481.0 L628.5 2477.6 L628.0 2472.3 L638.3 2468.1ZM721.9 2456.1 L721.7 2459.4 L718.2 2459.5 L716.0 2461.0 L715.4 2454.4 L715.1 2452.4 L719.2 2452.6 L721.7 2450.9ZM594.5 2455.8 L594.6 2460.7 L587.4 2461.6 L583.9 2456.2 L588.4 2454.0 L592.9 2451.9ZM704.4 2458.4 L703.0 2461.6 L700.7 2464.3 L695.2 2459.6 L696.9 2455.7 L699.6 2456.0 L702.3 2454.7ZM483.9 2403.1 L481.9 2405.0 L479.7 2404.8 L477.2 2403.5 L479.6 2400.0 L481.7 2400.3ZM743.0 2456.2 L736.9 2458.9 L734.7 2461.1 L732.5 2456.6 L734.3 2452.2 L737.9 2452.7ZM745.2 2452.2 L745.3 2454.1 L742.1 2453.8 L741.1 2452.4 L741.9 2448.8 L744.4 2447.7ZM472.3 2369.9 L472.1 2371.6 L470.7 2371.6 L469.6 2370.1 L468.9 2369.7 L468.5 2367.7 L470.2 2367.2 L473.6 2367.2ZM773.6 2456.1 L772.0 2461.3 L769.6 2462.0 L767.1 2457.3 L768.7 2451.6 L772.0 2454.6ZM659.4 2469.9 L658.2 2473.9 L654.7 2473.0 L654.2 2468.7 L658.4 2468.1ZM612.0 2454.0 L610.3 2458.5 L608.0 2458.6 L604.0 2457.3 L604.5 2455.3 L605.1 2452.4 L608.0 2451.0 L614.6 2451.6ZM541.7 2411.1 L537.6 2416.3 L535.0 2415.1 L533.6 2409.6 L538.4 2407.2ZM671.7 2461.5 L672.2 2465.3 L669.1 2464.9 L665.3 2464.2 L665.2 2460.4 L663.9 2459.4 L668.6 2457.6 L672.1 2457.9ZM479.4 2368.3 L472.5 2377.1 L466.9 2376.8 L465.2 2369.2 L466.6 2366.5 L473.9 2364.5ZM770.5 2469.6 L766.8 2472.4 L765.3 2470.8 L762.9 2469.7 L762.6 2466.5 L765.1 2464.2 L766.6 2465.3ZM556.9 2426.7 L556.4 2429.6 L553.3 2431.4 L551.0 2429.7 L549.6 2427.9 L547.3 2423.4 L553.5 2421.9 L555.7 2425.4ZM676.2 2455.3 L675.0 2456.4 L672.7 2458.6 L672.3 2458.1 L670.7 2454.8 L672.2 2453.6 L673.9 2452.2 L675.1 2453.4ZM485.0 2402.0 L482.3 2403.7 L482.2 2407.4 L478.9 2403.9 L475.6 2401.8 L478.8 2399.5 L480.0 2397.3 L483.9 2399.5ZM744.3 2474.4 L739.9 2479.9 L732.8 2481.6 L733.5 2476.4 L735.6 2471.1 L738.6 2469.9ZM614.5 2474.5 L614.2 2477.8 L607.8 2477.9 L607.3 2474.9 L609.8 2472.3 L611.7 2472.9ZM742.0 2472.5 L739.3 2475.7 L737.2 2474.7 L735.7 2470.8 L739.8 2469.9ZM787.4 2456.5 L785.1 2458.7 L782.8 2459.4 L780.7 2454.0 L785.8 2452.1ZM636.3 2456.9 L629.7 2459.9 L623.1 2459.2 L622.4 2454.9 L621.7 2450.4 L629.0 2451.9ZM651.3 2461.0 L652.6 2464.3 L647.0 2464.6 L643.1 2464.4 L641.2 2460.5 L645.2 2459.7 L648.9 2455.8 L652.2 2457.7ZM765.7 2452.7 L764.4 2453.8 L763.3 2453.8 L759.7 2454.5 L758.8 2451.5 L760.9 2451.4 L763.6 2449.6 L764.0 2450.5ZM638.7 2457.4 L637.7 2458.9 L636.4 2460.2 L634.8 2458.6 L633.4 2457.3 L633.6 2456.1 L635.6 2454.5 L637.4 2454.7ZM496.2 2397.6 L496.3 2400.9 L491.1 2400.6 L485.8 2400.9 L488.2 2396.2 L488.6 2394.3 L493.7 2391.7 L497.2 2394.7ZM497.1 2398.5 L493.1 2402.3 L490.9 2402.6 L489.1 2401.0 L490.9 2397.5 L495.6 2396.3ZM559.1 2441.1 L553.5 2444.8 L549.1 2445.5 L548.4 2441.8 L550.4 2438.3 L553.0 2439.6ZM489.7 2405.3 L487.6 2408.7 L486.3 2408.5 L485.8 2405.9 L486.0 2403.0 L488.0 2404.4ZM581.0 2451.3 L580.0 2454.6 L575.4 2456.4 L572.7 2451.9 L574.3 2449.0 L580.3 2448.1ZM706.4 2471.6 L703.3 2473.2 L702.2 2475.7 L700.4 2473.5 L699.1 2471.3 L701.6 2469.7 L703.7 2469.2ZM486.9 2395.0 L487.4 2397.0 L483.6 2397.1 L479.7 2394.2 L483.1 2390.4 L485.9 2391.7ZM633.8 2468.4 L631.7 2472.7 L629.2 2470.8 L628.7 2469.1 L628.5 2466.8 L630.8 2466.8ZM610.2 2442.6 L602.4 2449.0 L599.2 2446.6 L597.3 2441.2 L602.9 2437.9ZM741.0 2465.8 L735.3 2467.8 L731.8 2468.6 L732.2 2463.5 L731.0 2461.1 L737.5 2459.3ZM760.1 2470.4 L756.6 2475.8 L753.8 2473.2 L752.7 2471.0 L753.6 2467.3 L757.5 2468.0ZM728.0 2477.3 L725.5 2479.0 L721.5 2478.0 L720.8 2473.0 L726.7 2472.7ZM589.9 2452.8 L588.4 2454.4 L585.3 2454.2 L584.0 2450.9 L585.8 2449.6 L588.2 2449.2ZM655.2 2463.1 L653.3 2465.5 L652.3 2465.3 L649.5 2464.5 L649.6 2463.1 L650.5 2461.7 L652.5 2460.2 L653.1 2461.9ZM566.0 2447.3 L563.9 2451.3 L560.6 2453.5 L555.7 2447.9 L561.0 2446.3 L564.3 2444.7ZM793.5 2469.2 L786.2 2477.3 L777.9 2474.3 L782.2 2468.4 L785.7 2464.9ZM608.1 2458.8 L611.8 2462.3 L606.6 2463.1 L598.3 2462.6 L603.2 2459.6 L603.9 2457.4 L605.4 2454.3 L606.8 2456.1ZM499.4 2387.4 L496.1 2390.5 L492.8 2389.3 L488.4 2384.6 L497.5 2382.6ZM706.7 2456.2 L706.0 2459.8 L704.4 2461.3 L699.7 2459.3 L699.4 2455.6 L701.4 2454.1 L702.8 2451.1 L705.2 2453.0ZM651.1 2465.5 L647.6 2466.7 L646.6 2468.1 L642.0 2469.1 L639.9 2464.9 L641.0 2462.1 L645.7 2459.2 L648.4 2462.3ZM598.3 2449.9 L593.9 2450.6 L592.6 2452.0 L590.0 2450.6 L588.6 2448.9 L589.8 2447.2 L592.8 2443.6 L594.1 2445.1ZM779.9 2468.9 L774.9 2474.8 L770.4 2471.7 L772.5 2467.8 L774.3 2464.8ZM527.3 2431.0 L526.3 2433.2 L523.2 2433.6 L524.2 2430.0 L525.2 2428.7ZM709.6 2453.9 L709.9 2456.1 L705.6 2455.0 L705.5 2452.7 L705.7 2450.8 L708.4 2449.4ZM747.6 2452.7 L747.3 2454.6 L745.4 2454.9 L741.5 2455.0 L742.7 2451.5 L742.8 2448.4 L744.2 2447.0 L747.0 2450.0ZM650.2 2463.4 L648.8 2468.2 L641.7 2465.9 L635.9 2461.7 L639.1 2458.2 L646.1 2456.4ZM714.3 2446.5 L711.5 2453.1 L705.1 2449.1 L706.2 2444.4 L711.2 2441.3ZM572.6 2460.4 L571.6 2461.7 L570.4 2462.5 L569.4 2462.6 L567.8 2461.3 L568.6 2459.1 L571.1 2458.9 L572.8 2458.0ZM713.6 2451.3 L714.2 2454.2 L711.0 2453.0 L709.7 2451.2 L708.7 2447.8 L711.2 2448.1 L713.5 2448.2ZM645.0 2479.5 L642.4 2485.3 L638.2 2482.6 L640.5 2479.2 L643.3 2477.0ZM488.8 2391.1 L488.7 2395.4 L482.1 2396.2 L481.1 2394.2 L478.2 2392.4 L477.8 2388.2 L484.1 2386.3 L485.0 2389.5ZM559.8 2449.0 L558.8 2451.5 L557.4 2451.0 L554.6 2451.0 L555.4 2448.4 L557.5 2448.0 L559.0 2447.4ZM765.8 2478.5 L763.1 2481.8 L759.8 2483.9 L758.2 2484.0 L756.5 2478.4 L754.8 2475.4 L760.3 2475.3 L766.7 2473.8ZM601.9 2464.4 L594.3 2469.0 L590.0 2466.8 L591.7 2462.4 L594.5 2458.2ZM545.1 2439.3 L544.1 2442.1 L540.3 2444.3 L541.0 2442.3 L539.8 2439.5 L542.6 2437.8 L545.2 2435.9ZM617.7 2475.8 L616.2 2481.7 L609.2 2478.3 L606.5 2473.9 L607.6 2470.2 L611.6 2471.2ZM522.3 2430.3 L521.3 2434.4 L518.3 2434.4 L517.5 2432.9 L516.6 2429.1 L518.1 2428.3 L521.6 2427.7ZM705.6 2464.2 L707.1 2467.2 L704.2 2466.9 L702.8 2467.2 L699.8 2464.2 L702.8 2462.0 L705.0 2461.3 L705.1 2462.0ZM709.9 2464.6 L707.3 2467.9 L701.8 2467.5 L701.0 2463.9 L707.6 2461.9ZM627.6 2464.5 L624.7 2468.0 L617.0 2469.4 L616.0 2464.1 L618.6 2459.8 L625.8 2460.0ZM702.7 2458.6 L698.2 2462.8 L694.9 2462.4 L694.5 2455.2 L698.6 2456.2ZM647.9 2451.7 L645.2 2455.7 L645.1 2459.8 L641.5 2455.3 L637.3 2451.6 L640.5 2448.5 L643.9 2448.6 L646.8 2448.3ZM656.4 2472.3 L652.5 2477.4 L645.1 2476.8 L639.3 2469.2 L649.2 2468.8ZM604.4 2450.1 L602.6 2452.9 L596.7 2453.1 L594.9 2447.8 L602.4 2446.6Z" fill="#cfe3ef" stroke="#000" stroke-width="1.8" stroke-linejoin="round"/>
<path d="M160.0 282.0 L178.7 282.3 L195.0 295.0 L223.7 316.0 L245.0 315.0 L277.0 300.0 L292.0 291.0 L312.0 293.5 L345.0 305.0 L367.0 325.0 L382.0 340.0 L382.0 322.0 L404.6 305.0 L419.6 292.0 L424.6 265.0 L434.5 250.0 L449.5 241.0 L469.5 233.6 L494.5 236.0 L519.0 223.6 L539.0 215.0 L544.0 200.0 L559.0 195.0 L574.0 207.4 L559.0 220.0 L549.0 227.0 L554.0 242.0 L567.0 245.0 L580.0 236.0 L601.0 231.0 L601.0 208.0 L611.0 205.0 L618.0 226.0 L650.0 234.0 L670.5 257.0 L695.0 261.0 L730.0 261.0 L754.0 269.0 L778.5 274.5 L803.0 259.0 L845.0 253.6 L883.0 253.0 L858.5 259.0 L865.5 274.5 L893.0 285.0 L914.0 295.0 L924.7 320.0 L945.6 327.0 L956.0 332.0 L994.0 361.5 L1039.6 410.0 L1085.0 414.0 L1137.0 420.7 L1174.0 424.7 L1215.0 457.0 L1231.0 465.0 L1243.5 477.5 L1259.7 538.5 L1284.0 559.0 L1280.0 599.0 L1292.0 601.5 L1312.5 615.7 L1337.0 624.0 L1353.0 631.0 L1410.0 644.0 L1450.7 656.0 L1463.0 676.6 L1507.6 693.0 L1532.0 703.0 L1556.0 705.0 L1572.6 708.0 L1609.0 705.0 L1645.7 721.0 L1678.0 754.0 L1706.7 774.0 L1739.0 782.0 L1780.0 786.0 L1784.0 802.6 L1788.0 880.0 L1784.0 896.0 L1771.7 916.0 L1747.0 949.0 L1706.7 989.5 L1690.0 1026.0 L1654.0 1080.0 L1650.0 1090.6 L1654.0 1143.5 L1644.0 1204.4 L1627.8 1224.7 L1625.8 1261.3 L1613.6 1281.6 L1597.3 1310.0 L1585.0 1334.4 L1583.0 1350.7 L1560.7 1362.9 L1544.5 1379.0 L1528.0 1387.0 L1487.6 1387.0 L1447.0 1403.5 L1426.7 1415.7 L1394.0 1423.8 L1357.6 1448.0 L1341.3 1464.5 L1329.0 1488.8 L1329.0 1537.6 L1321.0 1566.0 L1284.4 1602.6 L1264.0 1635.0 L1235.7 1667.6 L1212.0 1687.0 L1198.0 1703.0 L1165.7 1742.7 L1154.0 1763.6 L1138.0 1772.9 L1114.7 1782.0 L1093.8 1777.5 L1059.0 1772.9 L1040.4 1766.0 L1026.4 1768.0 L1031.0 1782.0 L1040.4 1796.0 L1035.7 1812.0 L1047.0 1826.0 L1056.6 1831.0 L1058.3 1842.5 L1042.0 1867.0 L1021.7 1891.3 L989.2 1903.5 L928.2 1911.6 L879.5 1915.7 L867.3 1911.6 L873.4 1944.0 L865.3 1972.6 L847.0 1984.8 L814.5 1988.8 L782.0 1976.6 L773.8 1988.8 L778.0 2021.3 L794.0 2029.5 L814.5 2023.4 L824.6 2037.6 L806.3 2047.7 L786.0 2049.8 L782.0 2058.0 L769.8 2070.0 L769.8 2098.5 L757.6 2118.8 L717.0 2127.0 L696.6 2151.4 L692.6 2163.5 L721.0 2188.0 L753.5 2196.0 L749.5 2216.4 L717.0 2240.7 L692.0 2252.0 L687.3 2263.0 L678.6 2286.4 L652.5 2298.0 L640.9 2312.5 L638.0 2333.0 L646.7 2341.6 L661.0 2359.0 L664.0 2366.7 L655.4 2373.5 L670.0 2391.0 L690.2 2414.0 L733.7 2437.0 L774.3 2443.0 L762.7 2452.0 L719.2 2454.7 L690.0 2470.0 L632.0 2472.0 L588.6 2460.5 L545.0 2443.0 L495.8 2425.7 L452.0 2379.0 L437.7 2341.6 L429.0 2312.5 L422.3 2257.0 L428.4 2216.4 L420.3 2175.7 L440.6 2114.8 L452.8 2074.0 L467.0 2062.0 L477.2 2013.0 L487.4 2005.0 L481.3 1980.7 L497.5 1948.0 L503.6 1923.8 L493.5 1899.4 L489.4 1858.8 L507.7 1842.5 L522.0 1814.0 L540.0 1757.0 L554.4 1720.6 L560.5 1690.0 L558.0 1625.8 L561.4 1580.5 L578.8 1535.0 L589.0 1483.0 L596.0 1448.0 L592.8 1413.0 L599.7 1385.5 L606.7 1326.0 L603.0 1274.0 L599.7 1225.0 L565.0 1204.5 L537.0 1183.6 L491.4 1160.0 L456.6 1138.0 L421.7 1110.0 L400.8 1075.0 L380.0 1019.6 L352.0 978.0 L331.0 929.0 L313.8 887.3 L279.0 845.5 L247.6 821.0 L239.0 810.7 L246.0 796.8 L233.7 779.0 L233.7 758.5 L247.6 744.5 L265.0 730.6 L279.0 717.0 L268.5 713.0 L261.6 699.0 L249.4 685.0 L247.6 647.0 L261.6 647.0 L261.6 629.6 L272.0 612.0 L275.5 584.4 L310.3 574.0 L324.7 532.0 L354.7 519.0 L372.0 482.0 L364.7 452.0 L367.0 424.6 L364.7 394.6 L350.0 367.0 L330.0 330.0 L300.0 312.0 L282.0 322.0 L262.0 335.0 L265.0 345.0 L275.0 360.0 L247.0 370.0 L227.0 360.0 L220.0 342.0 L200.0 335.0 L178.7 342.0 L160.0 342.0Z" fill="none" stroke="#000" stroke-width="2.2" stroke-linejoin="round"/>
<path fill="none" stroke="#000" stroke-width="2" stroke-linejoin="round" d="M560 204 L528 249 L499 304 L515 302 L532 334 L532 362 L544 377 L584 375 L609 387 L633 407 L694 403 L698 411 L686 436 L686 476 L702 501 L684 517 L706 533 L710 570 L718 574M718 574 L739 586 L763 578 L788 566 L828 537 L808 501 L788 470 L808 480 L849 488 L869 476 L901 468 L926 444 L946 440M926 444 L901 411 L910 387 L934 375 L926 354 L950 334 L958 330M924 437 L945 441 L961 481 L953 526 L961 554 L985 571 L1022 554 L1058 546M1042 412 L1018 449 L1014 481 L1038 502 L1058 546M1058 546 L1083 530 L1119 530 L1136 534 L1184 530 L1201 514 L1229 465M1140 424 L1132 453 L1148 494 L1136 534M718 574 L710 570 L702 541 L674 554 L617 558 L641 586 L613 590 L613 623 L633 639 L625 688 L617 753 L613 757M361 602 L398 598 L434 618 L462 631 L499 671 L511 692 L556 688 L584 696 L609 704 L593 740 L613 757M308 562 L337 578 L361 602M434 618 L438 639 L422 675 L389 696 L341 716 L324 761 L300 777 L275 770M613 757 L544 761 L515 785 L503 826 L487 858 L478 858 L487 874 L511 915 L503 927 L539 948 L568 948 L592 929 L592 980 L629 980M478 854 L592 882 L674 923 L700 935 L767 935M592 980 L629 980 L653 984 L678 972 L706 948 L726 939 L767 935M629 980 L653 1029 L645 1078 L649 1090 L637 1110 L641 1134 L649 1159 L625 1187 L629 1204 L617 1208 L604 1224M629 1204 L641 1216 L661 1260 L653 1285 L661 1309 L674 1338 L686 1378M686 1378 L706 1378 L710 1390 L702 1419 L665 1435 L661 1460 L666 1489 L670 1515 L647 1530 L636 1556 L621 1567 L614 1589 L614 1626 L599 1634 L595 1667 L603 1689 L606 1704 L614 1749 L603 1778 L595 1801 L595 1823 L577 1834 L573 1868 L580 1901 L566 1912 L554 1938 L551 1979 L558 2035 L551 2072 L554 2097 L573 2101 L569 2108 L547 2112 L566 2123 L554 2156 L551 2179 L532 2201 L536 2231 L510 2257 L495 2264 L495 2301 L532 2309 L536 2346 L551 2353 L666 2364M658 2372 L658 2450M706 1378 L718 1354 L743 1346 L787 1354 L800 1378 L816 1346 L852 1346 L856 1354M856 1354 L868 1301 L889 1268 L946 1258 L978 1258 L1015 1279M856 1354 L877 1374 L897 1399 L938 1415 L1015 1451 L1019 1484 L994 1520 L1031 1529 L1088 1537 L1122 1504 L1136 1471M1015 1279 L1011 1285 L1019 1317 L1015 1350 L1084 1358 L1096 1415 L1137 1411 L1136 1471M767 935 L767 984 L775 1012 L800 1029 L832 1037 L881 1061 L930 1069 L934 1094 L930 1118 L942 1155 L999 1159 L999 1187 L1027 1208 L1011 1277 L1015 1279M767 935 L800 895 L848 878 L864 887 L889 907 L1003 907 L1007 862M893 907 L897 980 L946 984 L950 1029 L930 1069M1007 862 L1055 925 L1150 933 L1274 940M1136 1471 L1155 1521 L1127 1529 L1088 1557 L1055 1582 L1027 1621 L1016 1638 L1008 1680 L1002 1719 L994 1750M1027 1621 L1049 1621 L1083 1646 L1108 1672 L1150 1691 L1180 1705 L1192 1691M834 532 L855 546 L869 637 L893 658 L928 630 L946 602 L984 602 L985 571M985 603 L985 619 L1006 652 L1062 684 L1075 680 L1067 693 L998 839 L1010 863 L1022 900 L1054 928 L1055 925M1119 530 L1128 550 L1164 571 L1193 628 L1213 652 L1233 628 L1258 595M1327 790 L1347 770 L1380 733 L1408 660 L1412 652M1327 790 L1339 802 L1331 839 L1306 867 L1294 908 L1274 940M1343 794 L1367 806 L1359 855 L1396 884 L1384 916 L1408 953 L1426 957M1426 957 L1405 998 L1408 1061 L1416 1095 L1413 1121M1558 705 L1522 745 L1512 800 L1520 826 L1478 839 L1434 868 L1416 910 L1421 952 L1426 957M1426 957 L1437 970 L1452 978 L1489 957 L1491 931 L1523 933 L1572 904 L1598 884 L1593 863M1570 709 L1574 745 L1585 800 L1601 839 L1593 863M1593 863 L1630 858 L1648 873 L1664 868 L1687 863 L1708 858 L1719 865 L1713 878 L1721 889 L1766 868 L1785 866M1682 790 L1664 829 L1658 847 L1664 868M1666 826 L1708 816 L1703 831 L1726 844 L1740 824 L1786 829M1575 904 L1588 910 L1593 928 L1617 912 L1635 899 L1661 907 L1677 920 L1692 912 L1726 920 L1745 910 L1779 907M1679 931 L1690 957 L1677 975 L1687 996 L1703 998 L1710 1005M1682 931 L1726 954 L1752 960M1413 1121 L1452 1100 L1473 1090 L1489 1092 L1491 1103 L1510 1103 L1557 1119 L1572 1137 L1583 1137 L1619 1150 L1609 1166 L1598 1192 L1604 1207 L1627 1223 L1646 1226M1580 1218 L1578 1250 L1585 1269 L1557 1290 L1544 1334M1544 1334 L1488 1359 L1406 1379M1459 1363 L1471 1375 L1475 1395M1544 1334 L1590 1318M1274 941 L1258 986 L1258 1022 L1269 1028 L1258 1080 L1248 1096 L1196 1153 L1175 1190 L1175 1210M1269 1028 L1305 1048 L1404 1046 L1404 1101 L1415 1116M1415 1116 L1373 1175 L1368 1216 L1342 1231 L1253 1257 L1248 1289M1031 1216 L1070 1190 L1102 1195 L1154 1200 L1159 1190 L1175 1210M1175 1210 L1253 1263 L1248 1289 L1222 1320 L1201 1357 L1180 1372 L1154 1404 L1138 1414M1018 1284 L1018 1352 L1060 1352 L1091 1362 L1102 1414 L1138 1414M1253 1263 L1321 1273 L1368 1284 L1384 1320 L1394 1352 L1399 1372 L1406 1379M1180 1367 L1284 1378 L1305 1430 L1331 1477M1154 1461 L1159 1492 L1237 1503 L1274 1485 L1331 1482M1155 1521 L1206 1529 L1269 1560 L1284 1571M1133 1466 L1154 1461"/>
</g>
<rect x="177.5" y="177.5" width="1674" height="2310" fill="none" stroke="#000" stroke-width="3"/>
<text x="33.1" y="292.4" font-size="53.17" textLength="124.6" lengthAdjust="spacingAndGlyphs" stroke="#000" stroke-width="0.6">10°N</text>
<text x="102.0" y="627.2" font-size="53.17" textLength="54.5" lengthAdjust="spacingAndGlyphs" stroke="#000" stroke-width="0.6">0°</text>
<text x="36.7" y="962.0" font-size="53.17" textLength="119.0" lengthAdjust="spacingAndGlyphs" stroke="#000" stroke-width="0.6">10°S</text>
<text x="36.3" y="1296.8" font-size="53.17" textLength="119.4" lengthAdjust="spacingAndGlyphs" stroke="#000" stroke-width="0.6">20°S</text>
<text x="36.8" y="1631.6" font-size="53.17" textLength="118.9" lengthAdjust="spacingAndGlyphs" stroke="#000" stroke-width="0.6">30°S</text>
<text x="36.4" y="1966.4" font-size="53.17" textLength="119.3" lengthAdjust="spacingAndGlyphs" stroke="#000" stroke-width="0.6">40°S</text>
<text x="36.8" y="2301.2" font-size="53.17" textLength="118.9" lengthAdjust="spacingAndGlyphs" stroke="#000" stroke-width="0.6">50°S</text>
<text x="209.2" y="2546.5" font-size="53.17" textLength="135.8" lengthAdjust="spacingAndGlyphs" stroke="#000" stroke-width="0.6">80°W</text>
<text x="543.9" y="2546.5" font-size="53.17" textLength="135.6" lengthAdjust="spacingAndGlyphs" stroke="#000" stroke-width="0.6">70°W</text>
<text x="878.5" y="2546.5" font-size="53.17" textLength="136.1" lengthAdjust="spacingAndGlyphs" stroke="#000" stroke-width="0.6">60°W</text>
<text x="1214.0" y="2546.5" font-size="53.17" textLength="135.3" lengthAdjust="spacingAndGlyphs" stroke="#000" stroke-width="0.6">50°W</text>
<text x="1549.0" y="2546.5" font-size="53.17" textLength="135.7" lengthAdjust="spacingAndGlyphs" stroke="#000" stroke-width="0.6">40°W</text>
<rect x="1893.5" y="282.00" width="52.0" height="22.00" fill="#6a011f"/>
<rect x="1893.5" y="303.30" width="52.0" height="22.00" fill="#730421"/>
<rect x="1893.5" y="324.60" width="52.0" height="22.00" fill="#7c0722"/>
<rect x="1893.5" y="345.90" width="52.0" height="22.00" fill="#810823"/>
<rect x="1893.5" y="367.20" width="52.0" height="22.00" fill="#8a0b25"/>
<rect x="1893.5" y="388.50" width="52.0" height="22.00" fill="#930e26"/>
<rect x="1893.5" y="409.80" width="52.0" height="22.00" fill="#9c1127"/>
<rect x="1893.5" y="431.10" width="52.0" height="22.00" fill="#a51429"/>
<rect x="1893.5" y="452.40" width="52.0" height="22.00" fill="#ae172a"/>
<rect x="1893.5" y="473.70" width="52.0" height="22.00" fill="#b41c2d"/>
<rect x="1893.5" y="495.00" width="52.0" height="24.29" fill="#b72230"/>
<rect x="1893.5" y="518.59" width="52.0" height="24.29" fill="#bb2a34"/>
<rect x="1893.5" y="542.18" width="52.0" height="24.29" fill="#bf3338"/>
<rect x="1893.5" y="565.77" width="52.0" height="24.29" fill="#c43b3c"/>
<rect x="1893.5" y="589.36" width="52.0" height="24.29" fill="#c84440"/>
<rect x="1893.5" y="612.95" width="52.0" height="24.29" fill="#cc4c44"/>
<rect x="1893.5" y="636.54" width="52.0" height="24.29" fill="#cf5246"/>
<rect x="1893.5" y="660.13" width="52.0" height="24.29" fill="#d35a4a"/>
<rect x="1893.5" y="683.72" width="52.0" height="24.29" fill="#d7634f"/>
<rect x="1893.5" y="707.31" width="52.0" height="24.29" fill="#db6b55"/>
<rect x="1893.5" y="730.90" width="52.0" height="24.29" fill="#de735c"/>
<rect x="1893.5" y="754.49" width="52.0" height="24.29" fill="#e27b62"/>
<rect x="1893.5" y="778.08" width="52.0" height="24.29" fill="#e48066"/>
<rect x="1893.5" y="801.67" width="52.0" height="24.29" fill="#e8896c"/>
<rect x="1893.5" y="825.26" width="52.0" height="24.29" fill="#eb9172"/>
<rect x="1893.5" y="848.85" width="52.0" height="24.29" fill="#ef9979"/>
<rect x="1893.5" y="872.44" width="52.0" height="24.29" fill="#f2a17f"/>
<rect x="1893.5" y="896.03" width="52.0" height="24.29" fill="#f5a886"/>
<rect x="1893.5" y="919.62" width="52.0" height="24.29" fill="#f6af8e"/>
<rect x="1893.5" y="943.21" width="52.0" height="24.29" fill="#f6b394"/>
<rect x="1893.5" y="966.80" width="52.0" height="24.29" fill="#f7b99c"/>
<rect x="1893.5" y="990.39" width="52.0" height="24.29" fill="#f8bfa4"/>
<rect x="1893.5" y="1013.98" width="52.0" height="24.29" fill="#f9c6ac"/>
<rect x="1893.5" y="1037.57" width="52.0" height="24.29" fill="#fbccb4"/>
<rect x="1893.5" y="1061.16" width="52.0" height="24.29" fill="#fcd3bc"/>
<rect x="1893.5" y="1084.75" width="52.0" height="24.29" fill="#fcd7c2"/>
<rect x="1893.5" y="1108.34" width="52.0" height="24.29" fill="#fddcc9"/>
<rect x="1893.5" y="1131.93" width="52.0" height="24.29" fill="#fcdfcf"/>
<rect x="1893.5" y="1155.52" width="52.0" height="24.29" fill="#fbe3d4"/>
<rect x="1893.5" y="1179.11" width="52.0" height="24.29" fill="#fbe6da"/>
<rect x="1893.5" y="1202.70" width="52.0" height="24.29" fill="#fae9df"/>
<rect x="1893.5" y="1226.29" width="52.0" height="24.29" fill="#f9ede5"/>
<rect x="1893.5" y="1249.88" width="52.0" height="24.29" fill="#f9efe9"/>
<rect x="1893.5" y="1273.47" width="52.0" height="24.29" fill="#f8f2ef"/>
<rect x="1893.5" y="1297.06" width="52.0" height="24.29" fill="#f7f5f4"/>
<rect x="1893.5" y="1320.65" width="52.0" height="24.29" fill="#f5f6f7"/>
<rect x="1893.5" y="1344.24" width="52.0" height="24.29" fill="#f0f4f6"/>
<rect x="1893.5" y="1367.83" width="52.0" height="24.29" fill="#ecf2f5"/>
<rect x="1893.5" y="1391.42" width="52.0" height="24.29" fill="#e9f0f4"/>
<rect x="1893.5" y="1415.01" width="52.0" height="24.29" fill="#e4eef4"/>
<rect x="1893.5" y="1438.60" width="52.0" height="24.29" fill="#e0ecf3"/>
<rect x="1893.5" y="1462.19" width="52.0" height="24.29" fill="#dbeaf2"/>
<rect x="1893.5" y="1485.78" width="52.0" height="24.29" fill="#d7e8f1"/>
<rect x="1893.5" y="1509.37" width="52.0" height="24.29" fill="#d2e6f0"/>
<rect x="1893.5" y="1532.96" width="52.0" height="24.29" fill="#cce2ef"/>
<rect x="1893.5" y="1556.55" width="52.0" height="24.29" fill="#c7e0ed"/>
<rect x="1893.5" y="1580.14" width="52.0" height="24.29" fill="#c0dceb"/>
<rect x="1893.5" y="1603.73" width="52.0" height="24.29" fill="#b8d8e9"/>
<rect x="1893.5" y="1627.32" width="52.0" height="24.29" fill="#b1d5e7"/>
<rect x="1893.5" y="1650.91" width="52.0" height="24.29" fill="#a9d1e5"/>
<rect x="1893.5" y="1674.50" width="52.0" height="24.29" fill="#a2cde3"/>
<rect x="1893.5" y="1698.09" width="52.0" height="24.29" fill="#9dcbe1"/>
<rect x="1893.5" y="1721.68" width="52.0" height="24.29" fill="#96c7df"/>
<rect x="1893.5" y="1745.27" width="52.0" height="24.29" fill="#8dc2dc"/>
<rect x="1893.5" y="1768.86" width="52.0" height="24.29" fill="#84bcd9"/>
<rect x="1893.5" y="1792.45" width="52.0" height="24.29" fill="#7bb6d6"/>
<rect x="1893.5" y="1816.04" width="52.0" height="24.29" fill="#71b0d3"/>
<rect x="1893.5" y="1839.63" width="52.0" height="24.29" fill="#6bacd1"/>
<rect x="1893.5" y="1863.22" width="52.0" height="24.29" fill="#62a7ce"/>
<rect x="1893.5" y="1886.81" width="52.0" height="24.29" fill="#59a1ca"/>
<rect x="1893.5" y="1910.40" width="52.0" height="24.29" fill="#4f9bc7"/>
<rect x="1893.5" y="1933.99" width="52.0" height="24.29" fill="#4695c4"/>
<rect x="1893.5" y="1957.58" width="52.0" height="24.29" fill="#408fc1"/>
<rect x="1893.5" y="1981.17" width="52.0" height="24.29" fill="#3c8abe"/>
<rect x="1893.5" y="2004.76" width="52.0" height="24.29" fill="#3a87bd"/>
<rect x="1893.5" y="2028.35" width="52.0" height="24.29" fill="#3681ba"/>
<rect x="1893.5" y="2051.94" width="52.0" height="24.29" fill="#327cb7"/>
<rect x="1893.5" y="2075.53" width="52.0" height="24.29" fill="#2e77b5"/>
<rect x="1893.5" y="2099.12" width="52.0" height="24.29" fill="#2a71b2"/>
<rect x="1893.5" y="2122.71" width="52.0" height="24.29" fill="#266caf"/>
<rect x="1893.5" y="2146.30" width="52.0" height="24.29" fill="#2369ad"/>
<rect x="1893.5" y="2169.89" width="52.0" height="24.29" fill="#1f63a8"/>
<rect x="1893.5" y="2193.48" width="52.0" height="24.29" fill="#1c5c9f"/>
<rect x="1893.5" y="2217.07" width="52.0" height="24.29" fill="#195696"/>
<rect x="1893.5" y="2240.66" width="52.0" height="24.29" fill="#15508d"/>
<rect x="1893.5" y="2264.25" width="52.0" height="24.29" fill="#124984"/>
<rect x="1893.5" y="2287.84" width="52.0" height="24.29" fill="#0f437b"/>
<rect x="1893.5" y="2311.43" width="52.0" height="24.29" fill="#0d3f76"/>
<rect x="1893.5" y="2335.02" width="52.0" height="24.29" fill="#09386d"/>
<rect x="1893.5" y="2358.61" width="52.0" height="24.29" fill="#063264"/>
<path d="M1893.5 282 L1919.5 177.5 L1945.5 282 Z" fill="#67001f"/>
<path d="M1893.5 2382 L1919.5 2486 L1945.5 2382 Z" fill="#053061"/>
<path d="M1893.5 282 L1919.5 177.5 L1945.5 282 L1945.5 2382 L1919.5 2486 L1893.5 2382 Z" fill="none" stroke="#000" stroke-width="3" stroke-linejoin="miter"/>
<line x1="1945.5" y1="282.0" x2="1960.6" y2="282.0" stroke="#000" stroke-width="3"/>
<text x="1975.8" y="300.6" font-size="53.17" textLength="61.5" lengthAdjust="spacingAndGlyphs" stroke="#000" stroke-width="0.6">40</text>
<line x1="1945.5" y1="495.0" x2="1960.6" y2="495.0" stroke="#000" stroke-width="3"/>
<text x="1976.3" y="513.6" font-size="53.17" textLength="59.9" lengthAdjust="spacingAndGlyphs" stroke="#000" stroke-width="0.6">35</text>
<line x1="1945.5" y1="730.9" x2="1960.6" y2="730.9" stroke="#000" stroke-width="3"/>
<text x="1976.3" y="749.5" font-size="53.17" textLength="61.0" lengthAdjust="spacingAndGlyphs" stroke="#000" stroke-width="0.6">30</text>
<line x1="1945.5" y1="966.8" x2="1960.6" y2="966.8" stroke="#000" stroke-width="3"/>
<text x="1975.7" y="985.4" font-size="53.17" textLength="60.5" lengthAdjust="spacingAndGlyphs" stroke="#000" stroke-width="0.6">25</text>
<line x1="1945.5" y1="1202.6" x2="1960.6" y2="1202.6" stroke="#000" stroke-width="3"/>
<text x="1975.7" y="1221.2" font-size="53.17" textLength="61.6" lengthAdjust="spacingAndGlyphs" stroke="#000" stroke-width="0.6">20</text>
<line x1="1945.5" y1="1438.5" x2="1960.6" y2="1438.5" stroke="#000" stroke-width="3"/>
<text x="1976.1" y="1457.1" font-size="53.21" textLength="60.1" lengthAdjust="spacingAndGlyphs" stroke="#000" stroke-width="0.6">15</text>
<line x1="1945.5" y1="1674.4" x2="1960.6" y2="1674.4" stroke="#000" stroke-width="3"/>
<text x="1976.1" y="1693.0" font-size="53.17" textLength="61.2" lengthAdjust="spacingAndGlyphs" stroke="#000" stroke-width="0.6">10</text>
<line x1="1945.5" y1="1910.2" x2="1960.6" y2="1910.2" stroke="#000" stroke-width="3"/>
<text x="1976.5" y="1928.8" font-size="53.21" textLength="27.8" lengthAdjust="spacingAndGlyphs" stroke="#000" stroke-width="0.6">5</text>
<line x1="1945.5" y1="2146.0" x2="1960.6" y2="2146.0" stroke="#000" stroke-width="3"/>
<text x="1975.8" y="2164.6" font-size="53.17" textLength="29.6" lengthAdjust="spacingAndGlyphs" stroke="#000" stroke-width="0.6">0</text>
<line x1="1945.5" y1="2382.0" x2="1960.6" y2="2382.0" stroke="#000" stroke-width="3"/>
<text x="1974.8" y="2400.6" font-size="53.21" textLength="47.5" lengthAdjust="spacingAndGlyphs" stroke="#000" stroke-width="0.6">-5</text>
<text x="1843.8" y="171.0" font-size="47.59" textLength="96.2" lengthAdjust="spacingAndGlyphs" stroke="#000" stroke-width="0.6">(°C)</text>
<g font-size="44" text-anchor="middle" fill="#000" stroke="#000" stroke-width="8.4" stroke-linejoin="round" letter-spacing="1">
<text x="723.7" y="271.0">28</text>
<text x="482.2" y="469.7">19</text>
<text x="337.4" y="633.1">25</text>
<text x="1018.2" y="397.2">31</text>
<text x="1120.4" y="427.0">30</text>
<text x="1209.5" y="456.7">27</text>
<text x="932.8" y="527.3">33</text>
<text x="1256.0" y="622.0">34</text>
<text x="1341.5" y="672.1">32</text>
<text x="955.1" y="727.8">29</text>
<text x="1482.5" y="709.0">32</text>
<text x="1531.3" y="794.0">33</text>
<text x="1676.2" y="750.8">30</text>
<text x="1787.5" y="817.6">30</text>
<text x="1798.7" y="859.4">30</text>
<text x="1798.7" y="892.8">30</text>
<text x="1769.5" y="947.2">26</text>
<text x="1724.9" y="988.8">30</text>
<text x="1676.2" y="1057.3">32</text>
<text x="694.0" y="955.5">31</text>
<text x="387.5" y="1024.2">24</text>
<text x="681.0" y="1174.7">15</text>
<text x="1087.0" y="1145.0">31</text>
<text x="1345.1" y="964.8">30</text>
<text x="1360.0" y="1150.5">28</text>
<text x="1315.4" y="1180.3">31</text>
<text x="1135.2" y="1306.6">27</text>
<text x="1403.5" y="1410.8">29</text>
<text x="1493.7" y="1290.1">31</text>
<text x="1614.9" y="1302.6">32</text>
<text x="1520.2" y="1388.9">36</text>
<text x="1038.8" y="1468.6">28</text>
<text x="1314.5" y="1474.2">24</text>
<text x="1339.5" y="1546.6">33</text>
<text x="1249.1" y="1627.4">31</text>
<text x="1009.5" y="1786.2">29</text>
<text x="1083.3" y="1787.5">25</text>
<text x="601.4" y="1740.4">26</text>
<text x="827.0" y="915.4">31</text>
</g>
<g font-size="44" text-anchor="middle" fill="#fff" letter-spacing="1">
<text x="723.7" y="271.0">28</text>
<text x="482.2" y="469.7">19</text>
<text x="337.4" y="633.1">25</text>
<text x="1018.2" y="397.2">31</text>
<text x="1120.4" y="427.0">30</text>
<text x="1209.5" y="456.7">27</text>
<text x="932.8" y="527.3">33</text>
<text x="1256.0" y="622.0">34</text>
<text x="1341.5" y="672.1">32</text>
<text x="955.1" y="727.8">29</text>
<text x="1482.5" y="709.0">32</text>
<text x="1531.3" y="794.0">33</text>
<text x="1676.2" y="750.8">30</text>
<text x="1787.5" y="817.6">30</text>
<text x="1798.7" y="859.4">30</text>
<text x="1798.7" y="892.8">30</text>
<text x="1769.5" y="947.2">26</text>
<text x="1724.9" y="988.8">30</text>
<text x="1676.2" y="1057.3">32</text>
<text x="694.0" y="955.5">31</text>
<text x="387.5" y="1024.2">24</text>
<text x="681.0" y="1174.7">15</text>
<text x="1087.0" y="1145.0">31</text>
<text x="1345.1" y="964.8">30</text>
<text x="1360.0" y="1150.5">28</text>
<text x="1315.4" y="1180.3">31</text>
<text x="1135.2" y="1306.6">27</text>
<text x="1403.5" y="1410.8">29</text>
<text x="1493.7" y="1290.1">31</text>
<text x="1614.9" y="1302.6">32</text>
<text x="1520.2" y="1388.9">36</text>
<text x="1038.8" y="1468.6">28</text>
<text x="1314.5" y="1474.2">24</text>
<text x="1339.5" y="1546.6">33</text>
<text x="1249.1" y="1627.4">31</text>
<text x="1009.5" y="1786.2">29</text>
<text x="1083.3" y="1787.5">25</text>
<text x="601.4" y="1740.4">26</text>
<text x="827.0" y="915.4">31</text>
</g>
<g>
<path d="M1640.4 2350.5 C1642 2395 1675 2425 1711.4 2425 C1762 2425 1794 2385 1797.8 2331 L1763.5 2331 C1760 2370 1740 2400 1705 2403 C1670 2405 1645 2385 1641.5 2356 Z" fill="#0a70b8"/>
<path d="M1755.3 2331 L1781 2306 L1806.2 2331 Z" fill="#0a70b8"/>
<path d="M1641 2357 C1638 2320 1665 2293 1696 2293.4 C1725 2294 1738 2315 1737 2340.6 L1744.5 2340.6 L1719 2363 L1697.5 2340.6 L1706.5 2340.6 C1707 2325 1698 2318 1682 2318.5 C1660 2320 1645 2338 1642 2358" fill="none" stroke="#0a70b8" stroke-width="1.6"/>
<circle cx="1719.1" cy="2382.6" r="16.7" fill="#f39a0a"/>
<text x="1651" y="2371" font-size="27" font-weight="bold" font-style="italic" fill="#111" textLength="51" lengthAdjust="spacingAndGlyphs">INPE</text>
</g>
</svg></body></html>
